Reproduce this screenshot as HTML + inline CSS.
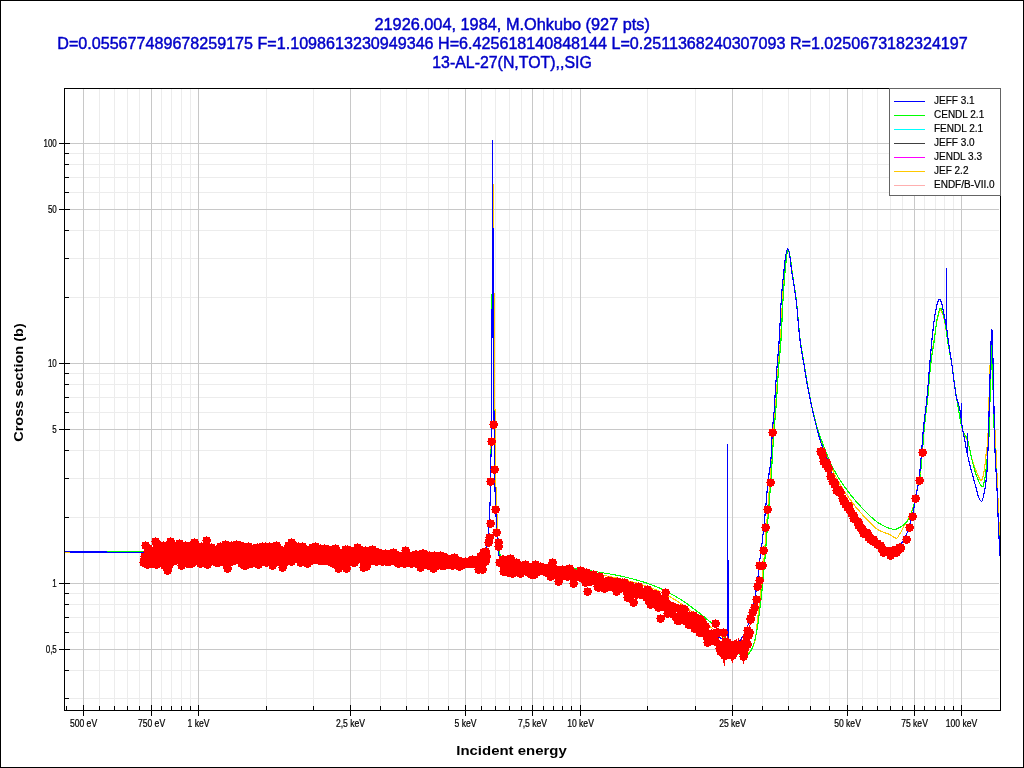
<!DOCTYPE html>
<html lang="en"><head><meta charset="utf-8"><title>13-AL-27(N,TOT),,SIG</title>
<style>html,body{margin:0;padding:0;background:#fff;overflow:hidden}svg{display:block;will-change:transform}</style></head>
<body>
<svg width="1024" height="768" viewBox="0 0 1024 768">
<rect width="1024" height="768" fill="#fff"/>
<g shape-rendering="crispEdges" fill="none" stroke-width="1">
<path stroke="#ececec" d="M99.5 89V710M114.5 89V710M127.5 89V710M139.5 89V710M161.5 89V710M171.5 89V710M181.5 89V710M190.5 89V710M266.5 89V710M313.5 89V710M380.5 89V710M406.5 89V710M428.5 89V710M448.5 89V710M481.5 89V710M495.5 89V710M509.5 89V710M521.5 89V710M543.5 89V710M553.5 89V710M562.5 89V710M571.5 89V710M647.5 89V710M695.5 89V710M762.5 89V710M788.5 89V710M810.5 89V710M829.5 89V710M862.5 89V710M877.5 89V710M890.5 89V710M902.5 89V710M924.5 89V710M935.5 89V710M944.5 89V710M953.5 89V710M65 153.5H999M65 164.5H999M65 177.5H999M65 192.5H999M65 230.5H999M65 258.5H999M65 297.5H999M65 373.5H999M65 384.5H999M65 397.5H999M65 412.5H999M65 450.5H999M65 478.5H999M65 517.5H999M65 593.5H999M65 604.5H999M65 617.5H999M65 632.5H999M65 670.5H999M65 698.5H999"/>
<path stroke="#c8c8c8" d="M83.5 89V710M151.5 89V710M198.5 89V710M350.5 89V710M465.5 89V710M532.5 89V710M580.5 89V710M732.5 89V710M847.5 89V710M914.5 89V710M961.5 89V710M65 143.5H999M65 209.5H999M65 363.5H999M65 429.5H999M65 583.5H999M65 649.5H999"/>
</g>
<g fill="none" stroke-width="1.15" shape-rendering="crispEdges" stroke-linejoin="round">
<path stroke="#ffc800" d="M64.5 552.0L65.0 552.0L65.5 552.0L66.0 552.0L66.5 552.0L67.0 552.0L67.5 552.0L68.0 552.0L68.5 552.0L69.0 552.0L69.5 552.0L70.0 552.0L70.5 552.0L71.0 552.0L71.5 552.0L72.0 552.0L72.5 552.0L73.0 552.0L73.5 552.0L74.0 552.0L74.5 552.0L75.0 552.0L75.5 552.0L76.0 552.0L76.5 552.0L77.0 552.0L77.5 552.0L78.0 552.0L78.5 552.0L79.0 552.0L79.5 552.0L80.0 552.0L80.5 552.0L81.0 552.0L81.5 552.0L82.0 552.0L82.5 552.0L83.0 552.0L83.5 552.0L84.0 552.0L84.5 552.0L85.0 552.0L85.5 552.0L86.0 552.0L86.5 552.0L87.0 552.0L87.5 552.0L88.0 552.0L88.5 552.0L89.0 552.0L89.5 552.0L90.0 552.0L90.5 552.0L91.0 552.0L91.5 552.0L92.0 552.0L92.5 552.0L93.0 552.0L93.5 552.0L94.0 552.0L94.5 552.0L95.0 552.0L95.5 552.0L96.0 552.0L96.5 552.0L97.0 552.0L97.5 552.0L98.0 552.0L98.5 552.0L99.0 552.0L99.5 552.0L100.0 552.0L100.5 552.0L101.0 552.0L101.5 552.0L102.0 552.0L102.5 552.0L103.0 552.0L103.5 552.0L104.0 552.0L104.5 552.0L105.0 552.0L105.5 552.0L106.0 552.0L106.5 552.0L107.0 552.0L107.5 552.0L108.0 552.0L108.5 552.0L109.0 552.0L109.5 552.0L110.0 552.0L110.5 552.0L111.0 552.0L111.5 552.0L112.0 552.0L112.5 552.0L113.0 552.0L113.5 552.0L114.0 552.0L114.5 552.0L115.0 552.0L115.5 552.0L116.0 552.0L116.5 552.0L117.0 552.0L117.5 552.0L118.0 552.0L118.5 552.0L119.0 552.0L119.5 552.0L120.0 552.0L120.5 552.0L121.0 552.0L121.5 552.0L122.0 552.0L122.5 552.0L123.0 552.0L123.5 552.0L124.0 552.0L124.5 552.0L125.0 552.0L125.5 552.0L126.0 552.0L126.5 552.0L127.0 552.0L127.5 552.0L128.0 552.0L128.5 552.0L129.0 552.0L129.5 552.0L130.0 552.0L130.5 552.0L131.0 552.0L131.5 552.0L132.0 552.0L132.5 552.0L133.0 552.0L133.5 552.0L134.0 552.0L134.5 552.0L135.0 552.0L135.5 552.0L136.0 552.0L136.5 552.0L137.0 552.0L137.5 552.0L138.0 552.0L138.5 552.0L139.0 552.0L139.5 552.0L140.0 552.0L140.5 552.0L141.0 552.0L141.5 552.0L142.0 552.0L142.5 552.0L143.0 552.0L143.5 552.0L144.0 552.0L144.5 552.0L145.0 552.0L145.5 552.0L146.0 552.0L146.5 552.0L147.0 552.0L147.5 552.0L148.0 552.0L148.5 552.0L149.0 552.0L149.5 552.1L150.0 552.1L150.5 552.1L151.0 552.1L151.5 552.1L152.0 552.1L152.5 552.1L153.0 552.1L153.5 552.1L154.0 552.1L154.5 552.1L155.0 552.1L155.5 552.1L156.0 552.1L156.5 552.1L157.0 552.1L157.5 552.2L158.0 552.2L158.5 552.2L159.0 552.2L159.5 552.2L160.0 552.2L160.5 552.2L161.0 552.2L161.5 552.2L162.0 552.2L162.5 552.2L163.0 552.2L163.5 552.2L164.0 552.3L164.5 552.3L165.0 552.3L165.5 552.3L166.0 552.3L166.5 552.3L167.0 552.3L167.5 552.3L168.0 552.3L168.5 552.3L169.0 552.4L169.5 552.4L170.0 552.4L170.5 552.4L171.0 552.4L171.5 552.4L172.0 552.4L172.5 552.4L173.0 552.4L173.5 552.4L174.0 552.5L174.5 552.5L175.0 552.5L175.5 552.5L176.0 552.5L176.5 552.5L177.0 552.5L177.5 552.5L178.0 552.5L178.5 552.6L179.0 552.6L179.5 552.6L180.0 552.6L180.5 552.6L181.0 552.6L181.5 552.6L182.0 552.6L182.5 552.6L183.0 552.7L183.5 552.7L184.0 552.7L184.5 552.7L185.0 552.7L185.5 552.7L186.0 552.7L186.5 552.7L187.0 552.7L187.5 552.7L188.0 552.8L188.5 552.8L189.0 552.8L189.5 552.8L190.0 552.8L190.5 552.8L191.0 552.8L191.5 552.8L192.0 552.8L192.5 552.9L193.0 552.9L193.5 552.9L194.0 552.9L194.5 552.9L195.0 552.9L195.5 552.9L196.0 552.9L196.5 552.9L197.0 552.9L197.5 553.0L198.0 553.0L198.5 553.0L199.0 553.0L199.5 553.0L200.0 553.0L200.5 553.0L201.0 553.0L201.5 553.0L202.0 553.0L202.5 553.0L203.0 553.1L203.5 553.1L204.0 553.1L204.5 553.1L205.0 553.1L205.5 553.1L206.0 553.1L206.5 553.1L207.0 553.1L207.5 553.1L208.0 553.1L208.5 553.2L209.0 553.2L209.5 553.2L210.0 553.2L210.5 553.2L211.0 553.2L211.5 553.2L212.0 553.2L212.5 553.2L213.0 553.2L213.5 553.2L214.0 553.2L214.5 553.3L215.0 553.3L215.5 553.3L216.0 553.3L216.5 553.3L217.0 553.3L217.5 553.3L218.0 553.3L218.5 553.3L219.0 553.3L219.5 553.3L220.0 553.4L220.5 553.4L221.0 553.4L221.5 553.4L222.0 553.4L222.5 553.4L223.0 553.4L223.5 553.4L224.0 553.4L224.5 553.4L225.0 553.4L225.5 553.5L226.0 553.5L226.5 553.5L227.0 553.5L227.5 553.5L228.0 553.5L228.5 553.5L229.0 553.5L229.5 553.5L230.0 553.5L230.5 553.5L231.0 553.6L231.5 553.6L232.0 553.6L232.5 553.6L233.0 553.6L233.5 553.6L234.0 553.6L234.5 553.6L235.0 553.6L235.5 553.6L236.0 553.6L236.5 553.7L237.0 553.7L237.5 553.7L238.0 553.7L238.5 553.7L239.0 553.7L239.5 553.7L240.0 553.7L240.5 553.7L241.0 553.7L241.5 553.7L242.0 553.8L242.5 553.8L243.0 553.8L243.5 553.8L244.0 553.8L244.5 553.8L245.0 553.8L245.5 553.8L246.0 553.8L246.5 553.8L247.0 553.8L247.5 553.9L248.0 553.9L248.5 553.9L249.0 553.9L249.5 553.9L250.0 553.9L250.5 553.9L251.0 553.9L251.5 553.9L252.0 553.9L252.5 554.0L253.0 554.0L253.5 554.0L254.0 554.0L254.5 554.0L255.0 554.0L255.5 554.0L256.0 554.0L256.5 554.0L257.0 554.0L257.5 554.1L258.0 554.1L258.5 554.1L259.0 554.1L259.5 554.1L260.0 554.1L260.5 554.1L261.0 554.1L261.5 554.1L262.0 554.1L262.5 554.2L263.0 554.2L263.5 554.2L264.0 554.2L264.5 554.2L265.0 554.2L265.5 554.2L266.0 554.2L266.5 554.2L267.0 554.2L267.5 554.3L268.0 554.3L268.5 554.3L269.0 554.3L269.5 554.3L270.0 554.3L270.5 554.3L271.0 554.3L271.5 554.3L272.0 554.3L272.5 554.4L273.0 554.4L273.5 554.4L274.0 554.4L274.5 554.4L275.0 554.4L275.5 554.4L276.0 554.4L276.5 554.4L277.0 554.5L277.5 554.5L278.0 554.5L278.5 554.5L279.0 554.5L279.5 554.5L280.0 554.5L280.5 554.5L281.0 554.5L281.5 554.6L282.0 554.6L282.5 554.6L283.0 554.6L283.5 554.6L284.0 554.6L284.5 554.6L285.0 554.6L285.5 554.6L286.0 554.7L286.5 554.7L287.0 554.7L287.5 554.7L288.0 554.7L288.5 554.7L289.0 554.7L289.5 554.7L290.0 554.8L290.5 554.8L291.0 554.8L291.5 554.8L292.0 554.8L292.5 554.8L293.0 554.8L293.5 554.8L294.0 554.9L294.5 554.9L295.0 554.9L295.5 554.9L296.0 554.9L296.5 554.9L297.0 554.9L297.5 554.9L298.0 554.9L298.5 555.0L299.0 555.0L299.5 555.0L300.0 555.0L300.5 555.0L301.0 555.0L301.5 555.0L302.0 555.1L302.5 555.1L303.0 555.1L303.5 555.1L304.0 555.1L304.5 555.1L305.0 555.1L305.5 555.1L306.0 555.2L306.5 555.2L307.0 555.2L307.5 555.2L308.0 555.2L308.5 555.2L309.0 555.2L309.5 555.3L310.0 555.3L310.5 555.3L311.0 555.3L311.5 555.3L312.0 555.3L312.5 555.3L313.0 555.4L313.5 555.4L314.0 555.4L314.5 555.4L315.0 555.4L315.5 555.4L316.0 555.4L316.5 555.5L317.0 555.5L317.5 555.5L318.0 555.5L318.5 555.5L319.0 555.5L319.5 555.5L320.0 555.6L320.5 555.6L321.0 555.6L321.5 555.6L322.0 555.6L322.5 555.6L323.0 555.6L323.5 555.7L324.0 555.7L324.5 555.7L325.0 555.7L325.5 555.7L326.0 555.7L326.5 555.8L327.0 555.8L327.5 555.8L328.0 555.8L328.5 555.8L329.0 555.8L329.5 555.8L330.0 555.9L330.5 555.9L331.0 555.9L331.5 555.9L332.0 555.9L332.5 555.9L333.0 556.0L333.5 556.0L334.0 556.0L334.5 556.0L335.0 556.0L335.5 556.0L336.0 556.1L336.5 556.1L337.0 556.1L337.5 556.1L338.0 556.1L338.5 556.1L339.0 556.2L339.5 556.2L340.0 556.2L340.5 556.2L341.0 556.2L341.5 556.2L342.0 556.3L342.5 556.3L343.0 556.3L343.5 556.3L344.0 556.3L344.5 556.3L345.0 556.4L345.5 556.4L346.0 556.4L346.5 556.4L347.0 556.4L347.5 556.5L348.0 556.5L348.5 556.5L349.0 556.5L349.5 556.5L350.0 556.5L350.5 556.6L351.0 556.6L351.5 556.6L352.0 556.6L352.5 556.6L353.0 556.7L353.5 556.7L354.0 556.7L354.5 556.7L355.0 556.7L355.5 556.7L356.0 556.8L356.5 556.8L357.0 556.8L357.5 556.8L358.0 556.8L358.5 556.9L359.0 556.9L359.5 556.9L360.0 556.9L360.5 556.9L361.0 556.9L361.5 557.0L362.0 557.0L362.5 557.0L363.0 557.0L363.5 557.0L364.0 557.1L364.5 557.1L365.0 557.1L365.5 557.1L366.0 557.1L366.5 557.2L367.0 557.2L367.5 557.2L368.0 557.2L368.5 557.2L369.0 557.2L369.5 557.3L370.0 557.3L370.5 557.3L371.0 557.3L371.5 557.3L372.0 557.4L372.5 557.4L373.0 557.4L373.5 557.4L374.0 557.4L374.5 557.5L375.0 557.5L375.5 557.5L376.0 557.5L376.5 557.5L377.0 557.6L377.5 557.6L378.0 557.6L378.5 557.6L379.0 557.6L379.5 557.7L380.0 557.7L380.5 557.7L381.0 557.7L381.5 557.7L382.0 557.8L382.5 557.8L383.0 557.8L383.5 557.8L384.0 557.8L384.5 557.9L385.0 557.9L385.5 557.9L386.0 557.9L386.5 557.9L387.0 558.0L387.5 558.0L388.0 558.0L388.5 558.0L389.0 558.0L389.5 558.1L390.0 558.1L390.5 558.1L391.0 558.1L391.5 558.1L392.0 558.2L392.5 558.2L393.0 558.2L393.5 558.2L394.0 558.2L394.5 558.3L395.0 558.3L395.5 558.3L396.0 558.3L396.5 558.4L397.0 558.4L397.5 558.4L398.0 558.4L398.5 558.4L399.0 558.5L399.5 558.5L400.0 558.5L400.5 558.5L401.0 558.5L401.5 558.6L402.0 558.6L402.5 558.6L403.0 558.6L403.5 558.7L404.0 558.7L404.5 558.7L405.0 558.7L405.5 558.8L406.0 558.8L406.5 558.8L407.0 558.9L407.5 558.9L408.0 558.9L408.5 558.9L409.0 559.0L409.5 559.0L410.0 559.0L410.5 559.1L411.0 559.1L411.5 559.1L412.0 559.2L412.5 559.2L413.0 559.2L413.5 559.3L414.0 559.3L414.5 559.3L415.0 559.3L415.5 559.4L416.0 559.4L416.5 559.4L417.0 559.5L417.5 559.5L418.0 559.5L418.5 559.6L419.0 559.6L419.5 559.6L420.0 559.7L420.5 559.7L421.0 559.7L421.5 559.8L422.0 559.8L422.5 559.8L423.0 559.9L423.5 559.9L424.0 559.9L424.5 560.0L425.0 560.0L425.5 560.0L426.0 560.1L426.5 560.1L427.0 560.1L427.5 560.2L428.0 560.2L428.5 560.2L429.0 560.3L429.5 560.3L430.0 560.3L430.5 560.4L431.0 560.4L431.5 560.4L432.0 560.4L432.5 560.5L433.0 560.5L433.5 560.5L434.0 560.5L434.5 560.6L435.0 560.6L435.5 560.6L436.0 560.6L436.5 560.7L437.0 560.7L437.5 560.7L438.0 560.7L438.5 560.7L439.0 560.8L439.5 560.8L440.0 560.8L440.5 560.8L441.0 560.8L441.5 560.9L442.0 560.9L442.5 560.9L443.0 560.9L443.5 560.9L444.0 560.9L444.5 560.9L445.0 560.9L445.5 561.0L446.0 561.0L446.5 561.0L447.0 561.0L447.5 561.0L448.0 561.0L448.5 561.0L449.0 561.0L449.5 561.0L450.0 561.0L450.5 561.0L451.0 561.0L451.5 561.0L452.0 561.0L452.5 561.0L453.0 561.0L453.5 561.0L454.0 561.0L454.5 561.0L455.0 561.0L455.5 561.0L456.0 561.0L456.5 561.0L457.0 561.0L457.5 561.0L458.0 561.0L458.5 561.0L459.0 561.0L459.5 561.0L460.0 561.0L460.5 561.0L461.0 561.0L461.5 561.0L462.0 561.0L462.5 561.0L463.0 561.0L463.5 561.0L464.0 561.0L464.5 561.0L465.0 561.0L465.5 561.0L466.0 561.0L466.5 561.0L467.0 561.0L467.5 561.0L468.0 561.0L468.5 561.0L469.0 561.0L469.5 561.0L470.0 561.0L470.5 561.0L471.0 561.0L471.5 560.9L472.0 560.8L472.5 560.8L473.0 560.7L473.5 560.5L474.0 560.4L474.5 560.2L475.0 560.1L475.5 559.9L476.0 559.7L476.5 559.5L477.0 559.2L477.5 559.0L478.0 558.8L478.5 558.5L479.0 558.2L479.5 557.9L480.0 557.6L480.5 557.3L481.0 557.0L481.5 556.6L482.0 556.0L482.5 555.3L483.0 554.6L483.5 553.7L484.0 552.9L484.5 552.0L485.0 551.1L485.5 550.0L486.0 549.0L486.5 548.2L487.0 547.0L487.5 543.4L488.0 538.0L488.5 532.1L489.0 525.0L489.5 516.6L490.0 505.0L490.5 485.0L491.0 454.0L491.5 395.8L492.0 322.0L492.5 260.0L493.0 211.6L493.5 185.0L494.0 308.3L494.5 324.9L495.0 420.0L495.5 463.3L496.0 490.0L496.5 502.8L497.0 515.0L497.5 540.0L498.0 547.8L498.5 552.0L499.0 554.9L499.5 557.3L500.0 559.0L500.5 560.0L501.0 560.6L501.5 561.1L502.0 561.5L502.5 561.9L503.0 562.2L503.5 562.5L504.0 562.7L504.5 562.9L505.0 563.0L505.5 563.1L506.0 563.2L506.5 563.3L507.0 563.4L507.5 563.5L508.0 563.6L508.5 563.7L509.0 563.8L509.5 563.9L510.0 563.9L510.5 564.0L511.0 564.1L511.5 564.1L512.0 564.2L512.5 564.3L513.0 564.3L513.5 564.4L514.0 564.4L514.5 564.5L515.0 564.5L515.5 564.5L516.0 564.6L516.5 564.6L517.0 564.7L517.5 564.7L518.0 564.8L518.5 564.8L519.0 564.9L519.5 564.9L520.0 565.0L520.5 565.1L521.0 565.1L521.5 565.2L522.0 565.2L522.5 565.3L523.0 565.3L523.5 565.4L524.0 565.4L524.5 565.5L525.0 565.6L525.5 565.6L526.0 565.7L526.5 565.7L527.0 565.8L527.5 565.8L528.0 565.9L528.5 565.9L529.0 566.0L529.5 566.0L530.0 566.1L530.5 566.1L531.0 566.2L531.5 566.2L532.0 566.3L532.5 566.3L533.0 566.4L533.5 566.4L534.0 566.5L534.5 566.5L535.0 566.5L535.5 566.6L536.0 566.6L536.5 566.7L537.0 566.7L537.5 566.8L538.0 566.8L538.5 566.9L539.0 566.9L539.5 567.0L540.0 567.0L540.5 567.1L541.0 567.1L541.5 567.1L542.0 567.2L542.5 567.2L543.0 567.3L543.5 567.3L544.0 567.4L544.5 567.4L545.0 567.5L545.5 567.5L546.0 567.6L546.5 567.6L547.0 567.7L547.5 567.7L548.0 567.8L548.5 567.8L549.0 567.8L549.5 567.9L550.0 567.9L550.5 568.0L551.0 568.0L551.5 568.1L552.0 568.1L552.5 568.2L553.0 568.2L553.5 568.3L554.0 568.3L554.5 568.4L555.0 568.5L555.5 568.5L556.0 568.6L556.5 568.6L557.0 568.7L557.5 568.7L558.0 568.8L558.5 568.8L559.0 568.9L559.5 568.9L560.0 569.0L560.5 569.1L561.0 569.1L561.5 569.2L562.0 569.2L562.5 569.3L563.0 569.3L563.5 569.4L564.0 569.5L564.5 569.5L565.0 569.6L565.5 569.6L566.0 569.7L566.5 569.8L567.0 569.8L567.5 569.9L568.0 569.9L568.5 570.0L569.0 570.1L569.5 570.1L570.0 570.2L570.5 570.3L571.0 570.3L571.5 570.4L572.0 570.4L572.5 570.5L573.0 570.6L573.5 570.6L574.0 570.7L574.5 570.8L575.0 570.8L575.5 570.9L576.0 571.0L576.5 571.0L577.0 571.1L577.5 571.2L578.0 571.2L578.5 571.3L579.0 571.4L579.5 571.4L580.0 571.5L580.5 571.6L581.0 571.7L581.5 571.7L582.0 571.8L582.5 571.9L583.0 571.9L583.5 572.0L584.0 572.1L584.5 572.2L585.0 572.2L585.5 572.3L586.0 572.4L586.5 572.5L587.0 572.5L587.5 572.6L588.0 572.7L588.5 572.8L589.0 572.8L589.5 572.9L590.0 573.0L590.5 573.1L591.0 573.2L591.5 573.2L592.0 573.3L592.5 573.4L593.0 573.5L593.5 573.6L594.0 573.7L594.5 573.7L595.0 573.8L595.5 573.9L596.0 574.0L596.5 574.1L597.0 574.2L597.5 574.3L598.0 574.3L598.5 574.4L599.0 574.5L599.5 574.6L600.0 574.7L600.5 574.8L601.0 574.9L601.5 575.0L602.0 575.1L602.5 575.2L603.0 575.3L603.5 575.3L604.0 575.4L604.5 575.5L605.0 575.6L605.5 575.7L606.0 575.8L606.5 575.9L607.0 576.0L607.5 576.1L608.0 576.2L608.5 576.3L609.0 576.4L609.5 576.5L610.0 576.6L610.5 576.7L611.0 576.8L611.5 576.9L612.0 577.0L612.5 577.2L613.0 577.3L613.5 577.4L614.0 577.5L614.5 577.6L615.0 577.7L615.5 577.8L616.0 577.9L616.5 578.0L617.0 578.1L617.5 578.2L618.0 578.4L618.5 578.5L619.0 578.6L619.5 578.7L620.0 578.8L620.5 578.9L621.0 579.0L621.5 579.2L622.0 579.3L622.5 579.4L623.0 579.5L623.5 579.6L624.0 579.8L624.5 579.9L625.0 580.0L625.5 580.1L626.0 580.2L626.5 580.4L627.0 580.5L627.5 580.6L628.0 580.8L628.5 580.9L629.0 581.0L629.5 581.1L630.0 581.3L630.5 581.4L631.0 581.5L631.5 581.7L632.0 581.8L632.5 581.9L633.0 582.1L633.5 582.2L634.0 582.4L634.5 582.5L635.0 582.6L635.5 582.8L636.0 582.9L636.5 583.1L637.0 583.2L637.5 583.4L638.0 583.5L638.5 583.7L639.0 583.8L639.5 584.0L640.0 584.1L640.5 584.3L641.0 584.4L641.5 584.6L642.0 584.7L642.5 584.9L643.0 585.1L643.5 585.2L644.0 585.4L644.5 585.6L645.0 585.7L645.5 585.9L646.0 586.1L646.5 586.2L647.0 586.4L647.5 586.6L648.0 586.8L648.5 586.9L649.0 587.1L649.5 587.3L650.0 587.5L650.5 587.7L651.0 587.9L651.5 588.0L652.0 588.2L652.5 588.4L653.0 588.6L653.5 588.8L654.0 589.0L654.5 589.2L655.0 589.4L655.5 589.6L656.0 589.8L656.5 590.0L657.0 590.2L657.5 590.5L658.0 590.7L658.5 590.9L659.0 591.1L659.5 591.4L660.0 591.6L660.5 591.8L661.0 592.1L661.5 592.3L662.0 592.6L662.5 592.8L663.0 593.1L663.5 593.3L664.0 593.6L664.5 593.8L665.0 594.1L665.5 594.4L666.0 594.6L666.5 594.9L667.0 595.2L667.5 595.4L668.0 595.7L668.5 596.0L669.0 596.3L669.5 596.6L670.0 596.8L670.5 597.1L671.0 597.4L671.5 597.7L672.0 598.0L672.5 598.3L673.0 598.6L673.5 598.9L674.0 599.2L674.5 599.5L675.0 599.8L675.5 600.1L676.0 600.4L676.5 600.7L677.0 601.0L677.5 601.3L678.0 601.6L678.5 601.9L679.0 602.3L679.5 602.6L680.0 602.9L680.5 603.3L681.0 603.6L681.5 604.0L682.0 604.3L682.5 604.7L683.0 605.0L683.5 605.4L684.0 605.7L684.5 606.1L685.0 606.5L685.5 606.8L686.0 607.2L686.5 607.6L687.0 608.0L687.5 608.4L688.0 608.7L688.5 609.1L689.0 609.5L689.5 609.9L690.0 610.3L690.5 610.7L691.0 611.0L691.5 611.4L692.0 611.8L692.5 612.2L693.0 612.6L693.5 613.0L694.0 613.4L694.5 613.8L695.0 614.2L695.5 614.5L696.0 614.9L696.5 615.3L697.0 615.7L697.5 616.1L698.0 616.5L698.5 616.9L699.0 617.3L699.5 617.7L700.0 618.1L700.5 618.5L701.0 618.9L701.5 619.3L702.0 619.7L702.5 620.2L703.0 620.6L703.5 621.0L704.0 621.4L704.5 621.8L705.0 622.2L705.5 622.6L706.0 623.1L706.5 623.5L707.0 623.9L707.5 624.3L708.0 624.7L708.5 625.2L709.0 625.6L709.5 626.0L710.0 626.4L710.5 626.8L711.0 627.3L711.5 627.7L712.0 628.1L712.5 628.5L713.0 629.0L713.5 629.4L714.0 629.8L714.5 630.2L715.0 630.7L715.5 631.1L716.0 631.5L716.5 631.9L717.0 632.3L717.5 632.8L718.0 633.2L718.5 633.6L719.0 634.0L719.5 634.5L720.0 634.9L720.5 635.3L721.0 635.7L721.5 636.2L722.0 636.6L722.5 637.1L723.0 637.5L723.5 637.9L724.0 638.4L724.5 638.9L725.0 639.3L725.5 639.8L726.0 640.3L726.5 640.8L727.0 641.3L727.5 641.8L728.0 642.3L728.5 642.8L729.0 643.3L729.5 643.8L730.0 644.3L730.5 644.8L731.0 645.3L731.5 645.8L732.0 646.3L732.5 646.8L733.0 647.2L733.5 647.7L734.0 648.1L734.5 648.6L735.0 649.0L735.5 649.4L736.0 649.9L736.5 650.4L737.0 650.9L737.5 651.4L738.0 651.9L738.5 652.4L739.0 652.8L739.5 653.3L740.0 653.7L740.5 654.1L741.0 654.4L741.5 654.6L742.0 654.8L742.5 655.0L743.0 655.0L743.5 655.0L744.0 654.9L744.5 654.8L745.0 654.6L745.5 654.5L746.0 654.2L746.5 654.0L747.0 653.7L747.5 653.4L748.0 653.0L748.5 652.6L749.0 652.2L749.5 651.8L750.0 651.4L750.5 650.9L751.0 650.3L751.5 649.6L752.0 648.8L752.5 647.8L753.0 646.6L753.5 645.2L754.0 643.7L754.5 642.1L755.0 640.2L755.5 638.0L756.0 634.4L756.5 629.7L757.0 624.6L757.5 620.0L758.0 616.0L758.5 612.1L759.0 608.2L759.5 604.2L760.0 600.0L760.5 595.5L761.0 590.8L761.5 586.0L762.0 581.0L762.5 575.9L763.0 570.5L763.5 565.0L764.0 559.2L764.5 553.0L765.0 546.6L765.5 540.0L766.0 533.3L766.5 526.6L767.0 520.0L767.5 513.4L768.0 506.9L768.5 500.3L769.0 493.6L769.5 486.8L770.0 480.0L770.5 473.0L771.0 465.7L771.5 458.4L772.0 451.1L772.5 444.1L773.0 437.4L773.5 431.0L774.0 424.9L774.5 418.9L775.0 412.8L775.5 406.6L776.0 400.0L776.5 392.8L777.0 385.2L777.5 377.4L778.0 369.9L778.5 363.0L779.0 357.2L779.5 351.9L780.0 346.5L780.5 340.0L781.0 331.1L781.5 320.3L782.0 309.3L782.5 300.0L783.0 292.2L783.5 284.8L784.0 277.9L784.5 271.7L785.0 266.3L785.5 262.0L786.0 258.2L786.5 254.6L787.0 251.6L787.5 249.8L788.0 249.6L788.5 250.4L789.0 251.9L789.5 253.9L790.0 256.0L790.5 258.9L791.0 262.8L791.5 267.0L792.0 271.0L792.5 274.5L793.0 277.7L793.5 280.9L794.0 284.0L794.5 287.2L795.0 290.4L795.5 293.9L796.0 297.6L796.5 301.7L797.0 306.5L797.5 311.8L798.0 317.4L798.5 323.1L799.0 328.6L799.5 333.8L800.0 338.4L800.5 342.2L801.0 345.7L801.5 348.9L802.0 351.9L802.5 354.8L803.0 357.6L803.5 360.5L804.0 363.4L804.5 366.4L805.0 369.5L805.5 372.5L806.0 375.5L806.5 378.4L807.0 381.4L807.5 384.2L808.0 386.9L808.5 389.6L809.0 392.2L809.5 394.7L810.0 397.2L810.5 399.7L811.0 402.1L811.5 404.5L812.0 406.8L812.5 409.0L813.0 411.2L813.5 413.3L814.0 415.4L814.5 417.4L815.0 419.4L815.5 421.3L816.0 423.2L816.5 425.1L817.0 426.9L817.5 428.7L818.0 430.4L818.5 432.1L819.0 433.7L819.5 435.3L820.0 436.9L820.5 438.4L821.0 439.9L821.5 441.3L822.0 442.7L822.5 444.1L823.0 445.5L823.5 446.9L824.0 448.2L824.5 449.6L825.0 451.0L825.5 452.3L826.0 453.6L826.5 454.9L827.0 456.2L827.5 457.5L828.0 458.8L828.5 460.1L829.0 461.3L829.5 462.6L830.0 463.8L830.5 465.0L831.0 466.2L831.5 467.3L832.0 468.5L832.5 469.6L833.0 470.7L833.5 471.8L834.0 472.9L834.5 474.0L835.0 475.0L835.5 476.0L836.0 477.0L836.5 478.0L837.0 478.9L837.5 479.9L838.0 480.8L838.5 481.7L839.0 482.6L839.5 483.5L840.0 484.3L840.5 485.2L841.0 486.0L841.5 486.8L842.0 487.7L842.5 488.5L843.0 489.2L843.5 490.0L844.0 490.8L844.5 491.5L845.0 492.3L845.5 493.0L846.0 493.8L846.5 494.5L847.0 495.2L847.5 495.9L848.0 496.6L848.5 497.3L849.0 498.0L849.5 498.7L850.0 499.4L850.5 500.1L851.0 500.8L851.5 501.4L852.0 502.1L852.5 502.7L853.0 503.4L853.5 504.0L854.0 504.7L854.5 505.3L855.0 505.9L855.5 506.6L856.0 507.2L856.5 507.8L857.0 508.4L857.5 509.0L858.0 509.6L858.5 510.2L859.0 510.7L859.5 511.3L860.0 511.9L860.5 512.5L861.0 513.0L861.5 513.6L862.0 514.1L862.5 514.7L863.0 515.2L863.5 515.8L864.0 516.3L864.5 516.8L865.0 517.4L865.5 517.9L866.0 518.5L866.5 519.0L867.0 519.6L867.5 520.1L868.0 520.7L868.5 521.2L869.0 521.7L869.5 522.3L870.0 522.8L870.5 523.3L871.0 523.8L871.5 524.3L872.0 524.8L872.5 525.2L873.0 525.7L873.5 526.1L874.0 526.6L874.5 527.0L875.0 527.4L875.5 527.8L876.0 528.2L876.5 528.6L877.0 528.9L877.5 529.2L878.0 529.6L878.5 529.9L879.0 530.1L879.5 530.4L880.0 530.7L880.5 530.9L881.0 531.1L881.5 531.3L882.0 531.6L882.5 531.8L883.0 532.0L883.5 532.2L884.0 532.3L884.5 532.5L885.0 532.7L885.5 532.9L886.0 533.1L886.5 533.3L887.0 533.5L887.5 533.7L888.0 533.9L888.5 534.1L889.0 534.3L889.5 534.5L890.0 534.8L890.5 535.1L891.0 535.4L891.5 535.7L892.0 536.1L892.5 536.4L893.0 536.7L893.5 537.0L894.0 537.3L894.5 537.6L895.0 537.8L895.5 537.9L896.0 538.1L896.5 538.1L897.0 538.0L897.5 537.6L898.0 536.9L898.5 536.1L899.0 535.2L899.5 534.3L900.0 533.5L900.5 532.7L901.0 531.8L901.5 530.8L902.0 529.9L902.5 528.9L903.0 527.9L903.5 526.9L904.0 526.0L904.5 525.1L905.0 524.3L905.5 523.4L906.0 522.6L906.5 521.8L907.0 520.9L907.5 520.0L908.0 519.1L908.5 518.2L909.0 517.2L909.5 516.2L910.0 515.2L910.5 514.0L911.0 512.9L911.5 511.6L912.0 510.3L912.5 508.9L913.0 507.4L913.5 505.8L914.0 504.0L914.5 502.1L915.0 500.0L915.5 497.5L916.0 494.5L916.5 491.6L917.0 489.0L917.5 486.8L918.0 484.9L918.5 483.0L919.0 480.9L919.5 478.5L920.0 475.7L920.5 471.7L921.0 466.4L921.5 460.1L922.0 453.7L922.5 447.5L923.0 441.0L923.5 434.6L924.0 429.0L924.5 424.0L925.0 419.5L925.5 415.3L926.0 411.3L926.5 407.1L927.0 402.8L927.5 398.2L928.0 393.0L928.5 387.2L929.0 381.1L929.5 375.0L930.0 369.4L930.5 364.5L931.0 360.4L931.5 356.7L932.0 353.3L932.5 350.1L933.0 347.0L933.5 343.9L934.0 340.7L934.5 337.2L935.0 333.6L935.5 330.0L936.0 326.6L936.5 323.5L937.0 321.0L937.5 318.8L938.0 316.5L938.5 314.4L939.0 312.6L939.5 311.1L940.0 310.2L940.5 310.0L941.0 310.4L941.5 311.2L942.0 312.4L942.5 313.7L943.0 315.0L943.5 316.5L944.0 318.4L944.5 320.6L945.0 323.0L945.5 325.9L946.0 329.3L946.5 333.0L947.0 336.6L947.5 340.0L948.0 343.0L948.5 345.8L949.0 348.6L949.5 351.2L950.0 353.9L950.5 356.6L951.0 359.4L951.5 362.4L952.0 365.5L952.5 368.9L953.0 372.5L953.5 376.3L954.0 380.0L954.5 383.8L955.0 387.5L955.5 391.1L956.0 394.5L956.5 397.6L957.0 400.7L957.5 403.7L958.0 406.8L958.5 409.8L959.0 412.7L959.5 415.5L960.0 418.3L960.5 420.9L961.0 423.3L961.5 425.5L962.0 427.6L962.5 429.4L963.0 430.9L963.5 432.2L964.0 433.4L964.5 434.5L965.0 435.4L965.5 436.4L966.0 437.4L966.5 438.5L967.0 439.6L967.5 441.0L968.0 442.6L968.5 444.5L969.0 446.5L969.5 448.7L970.0 450.9L970.5 453.1L971.0 455.2L971.5 457.2L972.0 459.0L972.5 460.6L973.0 462.2L973.5 463.8L974.0 465.3L974.5 466.7L975.0 468.1L975.5 469.5L976.0 470.7L976.5 471.9L977.0 473.0L977.5 474.1L978.0 475.3L978.5 476.4L979.0 477.5L979.5 478.5L980.0 479.3L980.5 479.9L981.0 480.3L981.5 480.2L982.0 479.5L982.5 478.1L983.0 476.3L983.5 474.3L984.0 472.0L984.5 468.8L985.0 464.5L985.5 459.6L986.0 455.0L986.5 451.4L987.0 448.0L987.5 443.7L988.0 436.0L988.5 418.8L989.0 400.0L989.5 383.3L990.0 367.5L990.5 355.4L991.0 348.0L991.5 350.2L992.0 355.8L992.5 364.5L993.0 384.4L993.5 403.0L994.0 413.9L994.5 422.6L995.0 430.8L995.5 440.0L996.0 450.9L996.5 462.6L997.0 474.7L997.5 486.9L998.0 499.2L998.5 511.7L999.0 524.0L999.5 536.1L1000.0 548.0"/>
<path stroke="#00ff00" d="M64.5 551.5L65.0 551.5L65.5 551.5L66.0 551.5L66.5 551.5L67.0 551.5L67.5 551.5L68.0 551.5L68.5 551.5L69.0 551.5L69.5 551.5L70.0 551.5L70.5 551.5L71.0 551.5L71.5 551.5L72.0 551.5L72.5 551.5L73.0 551.5L73.5 551.5L74.0 551.5L74.5 551.5L75.0 551.5L75.5 551.5L76.0 551.5L76.5 551.5L77.0 551.5L77.5 551.5L78.0 551.5L78.5 551.5L79.0 551.5L79.5 551.5L80.0 551.5L80.5 551.5L81.0 551.5L81.5 551.5L82.0 551.5L82.5 551.5L83.0 551.5L83.5 551.5L84.0 551.5L84.5 551.5L85.0 551.5L85.5 551.5L86.0 551.5L86.5 551.5L87.0 551.5L87.5 551.5L88.0 551.5L88.5 551.5L89.0 551.5L89.5 551.5L90.0 551.5L90.5 551.5L91.0 551.5L91.5 551.5L92.0 551.5L92.5 551.5L93.0 551.5L93.5 551.5L94.0 551.5L94.5 551.5L95.0 551.5L95.5 551.5L96.0 551.5L96.5 551.5L97.0 551.5L97.5 551.5L98.0 551.5L98.5 551.5L99.0 551.5L99.5 551.5L100.0 551.5L100.5 551.5L101.0 551.5L101.5 551.5L102.0 551.5L102.5 551.5L103.0 551.5L103.5 551.5L104.0 551.5L104.5 551.5L105.0 551.5L105.5 551.5L106.0 551.5L106.5 551.5L107.0 551.5L107.5 551.5L108.0 551.5L108.5 551.5L109.0 551.5L109.5 551.5L110.0 551.5L110.5 551.5L111.0 551.5L111.5 551.5L112.0 551.5L112.5 551.5L113.0 551.5L113.5 551.5L114.0 551.5L114.5 551.5L115.0 551.5L115.5 551.5L116.0 551.5L116.5 551.5L117.0 551.5L117.5 551.5L118.0 551.5L118.5 551.5L119.0 551.5L119.5 551.5L120.0 551.5L120.5 551.5L121.0 551.5L121.5 551.5L122.0 551.5L122.5 551.5L123.0 551.5L123.5 551.5L124.0 551.5L124.5 551.5L125.0 551.5L125.5 551.5L126.0 551.5L126.5 551.5L127.0 551.5L127.5 551.5L128.0 551.5L128.5 551.5L129.0 551.5L129.5 551.5L130.0 551.5L130.5 551.5L131.0 551.5L131.5 551.5L132.0 551.5L132.5 551.5L133.0 551.5L133.5 551.5L134.0 551.5L134.5 551.5L135.0 551.5L135.5 551.5L136.0 551.5L136.5 551.5L137.0 551.5L137.5 551.5L138.0 551.5L138.5 551.5L139.0 551.5L139.5 551.5L140.0 551.5L140.5 551.5L141.0 551.5L141.5 551.5L142.0 551.5L142.5 551.5L143.0 551.5L143.5 551.5L144.0 551.5L144.5 551.5L145.0 551.5L145.5 551.5L146.0 551.5L146.5 551.5L147.0 551.5L147.5 551.5L148.0 551.5L148.5 551.5L149.0 551.6L149.5 551.6L150.0 551.6L150.5 551.6L151.0 551.6L151.5 551.6L152.0 551.6L152.5 551.6L153.0 551.6L153.5 551.6L154.0 551.6L154.5 551.6L155.0 551.6L155.5 551.6L156.0 551.6L156.5 551.6L157.0 551.7L157.5 551.7L158.0 551.7L158.5 551.7L159.0 551.7L159.5 551.7L160.0 551.7L160.5 551.7L161.0 551.7L161.5 551.7L162.0 551.7L162.5 551.7L163.0 551.8L163.5 551.8L164.0 551.8L164.5 551.8L165.0 551.8L165.5 551.8L166.0 551.8L166.5 551.8L167.0 551.8L167.5 551.8L168.0 551.8L168.5 551.9L169.0 551.9L169.5 551.9L170.0 551.9L170.5 551.9L171.0 551.9L171.5 551.9L172.0 551.9L172.5 551.9L173.0 552.0L173.5 552.0L174.0 552.0L174.5 552.0L175.0 552.0L175.5 552.0L176.0 552.0L176.5 552.0L177.0 552.0L177.5 552.1L178.0 552.1L178.5 552.1L179.0 552.1L179.5 552.1L180.0 552.1L180.5 552.1L181.0 552.1L181.5 552.1L182.0 552.1L182.5 552.2L183.0 552.2L183.5 552.2L184.0 552.2L184.5 552.2L185.0 552.2L185.5 552.2L186.0 552.2L186.5 552.2L187.0 552.3L187.5 552.3L188.0 552.3L188.5 552.3L189.0 552.3L189.5 552.3L190.0 552.3L190.5 552.3L191.0 552.3L191.5 552.3L192.0 552.4L192.5 552.4L193.0 552.4L193.5 552.4L194.0 552.4L194.5 552.4L195.0 552.4L195.5 552.4L196.0 552.4L196.5 552.4L197.0 552.5L197.5 552.5L198.0 552.5L198.5 552.5L199.0 552.5L199.5 552.5L200.0 552.5L200.5 552.5L201.0 552.5L201.5 552.5L202.0 552.5L202.5 552.5L203.0 552.5L203.5 552.6L204.0 552.6L204.5 552.6L205.0 552.6L205.5 552.6L206.0 552.6L206.5 552.6L207.0 552.6L207.5 552.6L208.0 552.6L208.5 552.6L209.0 552.6L209.5 552.6L210.0 552.7L210.5 552.7L211.0 552.7L211.5 552.7L212.0 552.7L212.5 552.7L213.0 552.7L213.5 552.7L214.0 552.7L214.5 552.7L215.0 552.7L215.5 552.7L216.0 552.7L216.5 552.7L217.0 552.7L217.5 552.8L218.0 552.8L218.5 552.8L219.0 552.8L219.5 552.8L220.0 552.8L220.5 552.8L221.0 552.8L221.5 552.8L222.0 552.8L222.5 552.8L223.0 552.8L223.5 552.8L224.0 552.8L224.5 552.9L225.0 552.9L225.5 552.9L226.0 552.9L226.5 552.9L227.0 552.9L227.5 552.9L228.0 552.9L228.5 552.9L229.0 552.9L229.5 552.9L230.0 552.9L230.5 552.9L231.0 552.9L231.5 552.9L232.0 552.9L232.5 553.0L233.0 553.0L233.5 553.0L234.0 553.0L234.5 553.0L235.0 553.0L235.5 553.0L236.0 553.0L236.5 553.0L237.0 553.0L237.5 553.0L238.0 553.0L238.5 553.0L239.0 553.0L239.5 553.0L240.0 553.1L240.5 553.1L241.0 553.1L241.5 553.1L242.0 553.1L242.5 553.1L243.0 553.1L243.5 553.1L244.0 553.1L244.5 553.1L245.0 553.1L245.5 553.1L246.0 553.1L246.5 553.1L247.0 553.1L247.5 553.2L248.0 553.2L248.5 553.2L249.0 553.2L249.5 553.2L250.0 553.2L250.5 553.2L251.0 553.2L251.5 553.2L252.0 553.2L252.5 553.2L253.0 553.2L253.5 553.2L254.0 553.2L254.5 553.2L255.0 553.3L255.5 553.3L256.0 553.3L256.5 553.3L257.0 553.3L257.5 553.3L258.0 553.3L258.5 553.3L259.0 553.3L259.5 553.3L260.0 553.3L260.5 553.3L261.0 553.3L261.5 553.3L262.0 553.3L262.5 553.4L263.0 553.4L263.5 553.4L264.0 553.4L264.5 553.4L265.0 553.4L265.5 553.4L266.0 553.4L266.5 553.4L267.0 553.4L267.5 553.4L268.0 553.4L268.5 553.4L269.0 553.5L269.5 553.5L270.0 553.5L270.5 553.5L271.0 553.5L271.5 553.5L272.0 553.5L272.5 553.5L273.0 553.5L273.5 553.5L274.0 553.5L274.5 553.5L275.0 553.5L275.5 553.6L276.0 553.6L276.5 553.6L277.0 553.6L277.5 553.6L278.0 553.6L278.5 553.6L279.0 553.6L279.5 553.6L280.0 553.6L280.5 553.6L281.0 553.6L281.5 553.7L282.0 553.7L282.5 553.7L283.0 553.7L283.5 553.7L284.0 553.7L284.5 553.7L285.0 553.7L285.5 553.7L286.0 553.7L286.5 553.7L287.0 553.7L287.5 553.8L288.0 553.8L288.5 553.8L289.0 553.8L289.5 553.8L290.0 553.8L290.5 553.8L291.0 553.8L291.5 553.8L292.0 553.8L292.5 553.8L293.0 553.9L293.5 553.9L294.0 553.9L294.5 553.9L295.0 553.9L295.5 553.9L296.0 553.9L296.5 553.9L297.0 553.9L297.5 553.9L298.0 554.0L298.5 554.0L299.0 554.0L299.5 554.0L300.0 554.0L300.5 554.0L301.0 554.0L301.5 554.0L302.0 554.0L302.5 554.1L303.0 554.1L303.5 554.1L304.0 554.1L304.5 554.1L305.0 554.1L305.5 554.1L306.0 554.1L306.5 554.1L307.0 554.2L307.5 554.2L308.0 554.2L308.5 554.2L309.0 554.2L309.5 554.2L310.0 554.2L310.5 554.2L311.0 554.3L311.5 554.3L312.0 554.3L312.5 554.3L313.0 554.3L313.5 554.3L314.0 554.3L314.5 554.3L315.0 554.4L315.5 554.4L316.0 554.4L316.5 554.4L317.0 554.4L317.5 554.4L318.0 554.4L318.5 554.5L319.0 554.5L319.5 554.5L320.0 554.5L320.5 554.5L321.0 554.5L321.5 554.5L322.0 554.6L322.5 554.6L323.0 554.6L323.5 554.6L324.0 554.6L324.5 554.6L325.0 554.6L325.5 554.7L326.0 554.7L326.5 554.7L327.0 554.7L327.5 554.7L328.0 554.7L328.5 554.8L329.0 554.8L329.5 554.8L330.0 554.8L330.5 554.8L331.0 554.8L331.5 554.8L332.0 554.9L332.5 554.9L333.0 554.9L333.5 554.9L334.0 554.9L334.5 554.9L335.0 555.0L335.5 555.0L336.0 555.0L336.5 555.0L337.0 555.0L337.5 555.0L338.0 555.1L338.5 555.1L339.0 555.1L339.5 555.1L340.0 555.1L340.5 555.1L341.0 555.2L341.5 555.2L342.0 555.2L342.5 555.2L343.0 555.2L343.5 555.3L344.0 555.3L344.5 555.3L345.0 555.3L345.5 555.3L346.0 555.3L346.5 555.4L347.0 555.4L347.5 555.4L348.0 555.4L348.5 555.4L349.0 555.5L349.5 555.5L350.0 555.5L350.5 555.5L351.0 555.5L351.5 555.5L352.0 555.6L352.5 555.6L353.0 555.6L353.5 555.6L354.0 555.6L354.5 555.7L355.0 555.7L355.5 555.7L356.0 555.7L356.5 555.7L357.0 555.7L357.5 555.8L358.0 555.8L358.5 555.8L359.0 555.8L359.5 555.8L360.0 555.9L360.5 555.9L361.0 555.9L361.5 555.9L362.0 555.9L362.5 556.0L363.0 556.0L363.5 556.0L364.0 556.0L364.5 556.0L365.0 556.1L365.5 556.1L366.0 556.1L366.5 556.1L367.0 556.1L367.5 556.2L368.0 556.2L368.5 556.2L369.0 556.2L369.5 556.2L370.0 556.3L370.5 556.3L371.0 556.3L371.5 556.3L372.0 556.3L372.5 556.4L373.0 556.4L373.5 556.4L374.0 556.4L374.5 556.4L375.0 556.5L375.5 556.5L376.0 556.5L376.5 556.5L377.0 556.5L377.5 556.6L378.0 556.6L378.5 556.6L379.0 556.6L379.5 556.6L380.0 556.7L380.5 556.7L381.0 556.7L381.5 556.7L382.0 556.7L382.5 556.8L383.0 556.8L383.5 556.8L384.0 556.8L384.5 556.9L385.0 556.9L385.5 556.9L386.0 556.9L386.5 556.9L387.0 557.0L387.5 557.0L388.0 557.0L388.5 557.0L389.0 557.0L389.5 557.1L390.0 557.1L390.5 557.1L391.0 557.1L391.5 557.1L392.0 557.2L392.5 557.2L393.0 557.2L393.5 557.2L394.0 557.2L394.5 557.3L395.0 557.3L395.5 557.3L396.0 557.3L396.5 557.4L397.0 557.4L397.5 557.4L398.0 557.4L398.5 557.4L399.0 557.5L399.5 557.5L400.0 557.5L400.5 557.5L401.0 557.5L401.5 557.6L402.0 557.6L402.5 557.6L403.0 557.6L403.5 557.7L404.0 557.7L404.5 557.7L405.0 557.7L405.5 557.8L406.0 557.8L406.5 557.8L407.0 557.9L407.5 557.9L408.0 557.9L408.5 557.9L409.0 558.0L409.5 558.0L410.0 558.0L410.5 558.1L411.0 558.1L411.5 558.1L412.0 558.2L412.5 558.2L413.0 558.2L413.5 558.3L414.0 558.3L414.5 558.3L415.0 558.3L415.5 558.4L416.0 558.4L416.5 558.4L417.0 558.5L417.5 558.5L418.0 558.5L418.5 558.6L419.0 558.6L419.5 558.6L420.0 558.7L420.5 558.7L421.0 558.7L421.5 558.8L422.0 558.8L422.5 558.8L423.0 558.9L423.5 558.9L424.0 558.9L424.5 559.0L425.0 559.0L425.5 559.0L426.0 559.1L426.5 559.1L427.0 559.1L427.5 559.2L428.0 559.2L428.5 559.2L429.0 559.3L429.5 559.3L430.0 559.3L430.5 559.4L431.0 559.4L431.5 559.4L432.0 559.4L432.5 559.5L433.0 559.5L433.5 559.5L434.0 559.5L434.5 559.6L435.0 559.6L435.5 559.6L436.0 559.6L436.5 559.7L437.0 559.7L437.5 559.7L438.0 559.7L438.5 559.7L439.0 559.8L439.5 559.8L440.0 559.8L440.5 559.8L441.0 559.8L441.5 559.9L442.0 559.9L442.5 559.9L443.0 559.9L443.5 559.9L444.0 559.9L444.5 559.9L445.0 559.9L445.5 560.0L446.0 560.0L446.5 560.0L447.0 560.0L447.5 560.0L448.0 560.0L448.5 560.0L449.0 560.0L449.5 560.0L450.0 560.0L450.5 560.0L451.0 560.0L451.5 560.0L452.0 560.0L452.5 560.0L453.0 560.0L453.5 560.0L454.0 560.0L454.5 560.0L455.0 560.0L455.5 560.0L456.0 560.0L456.5 560.0L457.0 560.0L457.5 560.0L458.0 560.0L458.5 560.0L459.0 560.0L459.5 560.0L460.0 560.0L460.5 560.0L461.0 560.0L461.5 560.0L462.0 560.0L462.5 560.0L463.0 560.0L463.5 560.0L464.0 560.0L464.5 560.0L465.0 560.0L465.5 560.0L466.0 560.0L466.5 560.0L467.0 560.0L467.5 560.0L468.0 560.0L468.5 560.0L469.0 560.0L469.5 560.0L470.0 560.0L470.5 560.0L471.0 559.9L471.5 559.9L472.0 559.8L472.5 559.7L473.0 559.5L473.5 559.4L474.0 559.2L474.5 559.0L475.0 558.8L475.5 558.6L476.0 558.4L476.5 558.1L477.0 557.8L477.5 557.5L478.0 557.3L478.5 557.0L479.0 556.6L479.5 556.3L480.0 556.0L480.5 555.6L481.0 555.1L481.5 554.5L482.0 553.9L482.5 553.2L483.0 552.4L483.5 551.7L484.0 551.0L484.5 550.3L485.0 549.6L485.5 548.8L486.0 548.0L486.5 547.2L487.0 546.0L487.5 542.4L488.0 537.0L488.5 531.3L489.0 524.5L489.5 516.4L490.0 505.0L490.5 485.1L491.0 454.0L491.5 387.9L492.0 316.7L492.5 292.0L493.0 296.3L493.5 333.6L494.0 420.0L494.5 462.5L495.0 490.0L495.5 504.6L496.0 515.0L496.5 524.4L497.0 532.3L497.5 538.7L498.0 544.0L498.5 547.6L499.0 550.3L499.5 552.7L500.0 554.7L500.5 556.1L501.0 557.0L501.5 557.5L502.0 558.0L502.5 558.4L503.0 558.7L503.5 559.0L504.0 559.3L504.5 559.5L505.0 559.7L505.5 559.9L506.0 560.0L506.5 560.1L507.0 560.2L507.5 560.4L508.0 560.5L508.5 560.6L509.0 560.6L509.5 560.7L510.0 560.8L510.5 560.9L511.0 561.0L511.5 561.0L512.0 561.1L512.5 561.2L513.0 561.2L513.5 561.3L514.0 561.3L514.5 561.4L515.0 561.4L515.5 561.5L516.0 561.5L516.5 561.6L517.0 561.6L517.5 561.7L518.0 561.8L518.5 561.8L519.0 561.9L519.5 561.9L520.0 562.0L520.5 562.1L521.0 562.1L521.5 562.2L522.0 562.3L522.5 562.3L523.0 562.4L523.5 562.5L524.0 562.5L524.5 562.6L525.0 562.7L525.5 562.7L526.0 562.8L526.5 562.9L527.0 562.9L527.5 563.0L528.0 563.1L528.5 563.1L529.0 563.2L529.5 563.2L530.0 563.3L530.5 563.4L531.0 563.4L531.5 563.5L532.0 563.6L532.5 563.6L533.0 563.7L533.5 563.7L534.0 563.8L534.5 563.9L535.0 563.9L535.5 564.0L536.0 564.1L536.5 564.1L537.0 564.2L537.5 564.2L538.0 564.3L538.5 564.4L539.0 564.4L539.5 564.5L540.0 564.6L540.5 564.6L541.0 564.7L541.5 564.7L542.0 564.8L542.5 564.9L543.0 564.9L543.5 565.0L544.0 565.0L544.5 565.1L545.0 565.2L545.5 565.2L546.0 565.3L546.5 565.3L547.0 565.4L547.5 565.5L548.0 565.5L548.5 565.6L549.0 565.7L549.5 565.7L550.0 565.8L550.5 565.8L551.0 565.9L551.5 566.0L552.0 566.0L552.5 566.1L553.0 566.1L553.5 566.2L554.0 566.3L554.5 566.3L555.0 566.4L555.5 566.4L556.0 566.5L556.5 566.6L557.0 566.6L557.5 566.7L558.0 566.8L558.5 566.8L559.0 566.9L559.5 566.9L560.0 567.0L560.5 567.1L561.0 567.1L561.5 567.2L562.0 567.2L562.5 567.3L563.0 567.4L563.5 567.4L564.0 567.5L564.5 567.5L565.0 567.6L565.5 567.7L566.0 567.7L566.5 567.8L567.0 567.8L567.5 567.9L568.0 568.0L568.5 568.0L569.0 568.1L569.5 568.1L570.0 568.2L570.5 568.2L571.0 568.3L571.5 568.4L572.0 568.4L572.5 568.5L573.0 568.5L573.5 568.6L574.0 568.7L574.5 568.7L575.0 568.8L575.5 568.8L576.0 568.9L576.5 569.0L577.0 569.0L577.5 569.1L578.0 569.1L578.5 569.2L579.0 569.3L579.5 569.3L580.0 569.4L580.5 569.5L581.0 569.5L581.5 569.6L582.0 569.7L582.5 569.7L583.0 569.8L583.5 569.9L584.0 569.9L584.5 570.0L585.0 570.1L585.5 570.2L586.0 570.2L586.5 570.3L587.0 570.4L587.5 570.4L588.0 570.5L588.5 570.6L589.0 570.7L589.5 570.7L590.0 570.8L590.5 570.9L591.0 570.9L591.5 571.0L592.0 571.1L592.5 571.2L593.0 571.2L593.5 571.3L594.0 571.4L594.5 571.5L595.0 571.5L595.5 571.6L596.0 571.7L596.5 571.8L597.0 571.9L597.5 571.9L598.0 572.0L598.5 572.1L599.0 572.2L599.5 572.2L600.0 572.3L600.5 572.4L601.0 572.5L601.5 572.6L602.0 572.6L602.5 572.7L603.0 572.8L603.5 572.9L604.0 573.0L604.5 573.1L605.0 573.1L605.5 573.2L606.0 573.3L606.5 573.4L607.0 573.5L607.5 573.6L608.0 573.7L608.5 573.7L609.0 573.8L609.5 573.9L610.0 574.0L610.5 574.1L611.0 574.2L611.5 574.3L612.0 574.4L612.5 574.5L613.0 574.6L613.5 574.7L614.0 574.7L614.5 574.8L615.0 574.9L615.5 575.0L616.0 575.1L616.5 575.2L617.0 575.3L617.5 575.4L618.0 575.5L618.5 575.6L619.0 575.7L619.5 575.8L620.0 575.9L620.5 576.0L621.0 576.1L621.5 576.2L622.0 576.4L622.5 576.5L623.0 576.6L623.5 576.7L624.0 576.8L624.5 576.9L625.0 577.0L625.5 577.1L626.0 577.2L626.5 577.4L627.0 577.5L627.5 577.6L628.0 577.7L628.5 577.8L629.0 578.0L629.5 578.1L630.0 578.2L630.5 578.3L631.0 578.5L631.5 578.6L632.0 578.7L632.5 578.9L633.0 579.0L633.5 579.1L634.0 579.3L634.5 579.4L635.0 579.5L635.5 579.7L636.0 579.8L636.5 580.0L637.0 580.1L637.5 580.2L638.0 580.4L638.5 580.5L639.0 580.7L639.5 580.8L640.0 581.0L640.5 581.1L641.0 581.3L641.5 581.5L642.0 581.6L642.5 581.8L643.0 581.9L643.5 582.1L644.0 582.3L644.5 582.4L645.0 582.6L645.5 582.8L646.0 582.9L646.5 583.1L647.0 583.3L647.5 583.4L648.0 583.6L648.5 583.8L649.0 584.0L649.5 584.1L650.0 584.3L650.5 584.5L651.0 584.7L651.5 584.9L652.0 585.0L652.5 585.2L653.0 585.4L653.5 585.6L654.0 585.8L654.5 586.0L655.0 586.2L655.5 586.4L656.0 586.6L656.5 586.8L657.0 587.0L657.5 587.2L658.0 587.4L658.5 587.6L659.0 587.9L659.5 588.1L660.0 588.3L660.5 588.5L661.0 588.8L661.5 589.0L662.0 589.2L662.5 589.5L663.0 589.7L663.5 590.0L664.0 590.2L664.5 590.5L665.0 590.7L665.5 591.0L666.0 591.2L666.5 591.5L667.0 591.7L667.5 592.0L668.0 592.3L668.5 592.5L669.0 592.8L669.5 593.1L670.0 593.3L670.5 593.6L671.0 593.9L671.5 594.2L672.0 594.4L672.5 594.7L673.0 595.0L673.5 595.3L674.0 595.6L674.5 595.8L675.0 596.1L675.5 596.4L676.0 596.7L676.5 597.0L677.0 597.3L677.5 597.6L678.0 597.9L678.5 598.2L679.0 598.5L679.5 598.8L680.0 599.1L680.5 599.4L681.0 599.7L681.5 600.1L682.0 600.4L682.5 600.7L683.0 601.0L683.5 601.4L684.0 601.7L684.5 602.1L685.0 602.4L685.5 602.8L686.0 603.1L686.5 603.5L687.0 603.8L687.5 604.2L688.0 604.5L688.5 604.9L689.0 605.2L689.5 605.6L690.0 606.0L690.5 606.3L691.0 606.7L691.5 607.1L692.0 607.5L692.5 607.8L693.0 608.2L693.5 608.6L694.0 609.0L694.5 609.3L695.0 609.7L695.5 610.1L696.0 610.5L696.5 610.8L697.0 611.2L697.5 611.6L698.0 612.0L698.5 612.4L699.0 612.8L699.5 613.1L700.0 613.5L700.5 613.9L701.0 614.3L701.5 614.7L702.0 615.1L702.5 615.5L703.0 615.9L703.5 616.3L704.0 616.7L704.5 617.1L705.0 617.5L705.5 617.9L706.0 618.3L706.5 618.7L707.0 619.2L707.5 619.6L708.0 620.0L708.5 620.4L709.0 620.9L709.5 621.3L710.0 621.7L710.5 622.2L711.0 622.6L711.5 623.1L712.0 623.5L712.5 624.0L713.0 624.5L713.5 624.9L714.0 625.4L714.5 625.9L715.0 626.4L715.5 626.9L716.0 627.4L716.5 627.9L717.0 628.4L717.5 629.0L718.0 629.5L718.5 630.1L719.0 630.6L719.5 631.2L720.0 631.8L720.5 632.3L721.0 632.9L721.5 633.5L722.0 634.1L722.5 634.7L723.0 635.2L723.5 635.8L724.0 636.4L724.5 637.0L725.0 637.6L725.5 638.2L726.0 638.9L726.5 639.5L727.0 640.2L727.5 640.9L728.0 641.5L728.5 642.2L729.0 642.9L729.5 643.5L730.0 644.2L730.5 644.9L731.0 645.5L731.5 646.1L732.0 646.8L732.5 647.4L733.0 647.9L733.5 648.5L734.0 649.0L734.5 649.5L735.0 650.0L735.5 650.5L736.0 650.9L736.5 651.4L737.0 651.9L737.5 652.4L738.0 652.9L738.5 653.4L739.0 653.9L739.5 654.3L740.0 654.8L740.5 655.2L741.0 655.6L741.5 655.9L742.0 656.2L742.5 656.5L743.0 656.7L743.5 656.8L744.0 657.0L744.5 657.0L745.0 657.0L745.5 656.8L746.0 656.5L746.5 656.1L747.0 655.7L747.5 655.2L748.0 654.6L748.5 654.0L749.0 653.3L749.5 652.7L750.0 652.0L750.5 651.3L751.0 650.5L751.5 649.5L752.0 648.5L752.5 647.3L753.0 646.1L753.5 644.7L754.0 643.2L754.5 641.5L755.0 639.5L755.5 637.4L756.0 635.1L756.5 632.6L757.0 630.0L757.5 627.0L758.0 623.4L758.5 619.6L759.0 615.6L759.5 611.6L760.0 607.6L760.5 603.4L761.0 599.1L761.5 594.7L762.0 590.0L762.5 585.1L763.0 580.1L763.5 574.9L764.0 569.4L764.5 563.8L765.0 558.0L765.5 551.9L766.0 545.4L766.5 538.6L767.0 531.7L767.5 524.7L768.0 518.0L768.5 511.5L769.0 505.2L769.5 499.0L770.0 492.6L770.5 486.0L771.0 479.0L771.5 471.3L772.0 462.9L772.5 454.4L773.0 446.1L773.5 438.6L774.0 431.7L774.5 425.3L775.0 419.1L775.5 413.0L776.0 406.7L776.5 400.0L777.0 392.8L777.5 385.1L778.0 377.3L778.5 369.9L779.0 363.0L779.5 357.2L780.0 351.9L780.5 346.5L781.0 340.0L781.5 331.1L782.0 320.3L782.5 309.3L783.0 300.0L783.5 292.3L784.0 285.0L784.5 278.2L785.0 272.0L785.5 266.6L786.0 262.0L786.5 257.7L787.0 253.7L787.5 250.7L788.0 249.5L788.5 250.1L789.0 251.6L789.5 253.7L790.0 256.0L790.5 258.9L791.0 262.8L791.5 267.1L792.0 271.0L792.5 274.5L793.0 277.7L793.5 280.9L794.0 284.0L794.5 287.2L795.0 290.4L795.5 293.9L796.0 297.6L796.5 301.7L797.0 306.5L797.5 311.8L798.0 317.4L798.5 323.1L799.0 328.6L799.5 333.8L800.0 338.4L800.5 342.2L801.0 345.7L801.5 348.9L802.0 351.9L802.5 354.8L803.0 357.6L803.5 360.5L804.0 363.4L804.5 366.4L805.0 369.5L805.5 372.5L806.0 375.5L806.5 378.4L807.0 381.4L807.5 384.2L808.0 386.9L808.5 389.6L809.0 392.2L809.5 394.7L810.0 397.2L810.5 399.7L811.0 402.1L811.5 404.5L812.0 406.8L812.5 409.0L813.0 411.2L813.5 413.3L814.0 415.4L814.5 417.5L815.0 419.5L815.5 421.4L816.0 423.3L816.5 425.2L817.0 427.0L817.5 428.7L818.0 430.3L818.5 431.9L819.0 433.4L819.5 434.8L820.0 436.2L820.5 437.6L821.0 438.9L821.5 440.3L822.0 441.6L822.5 442.9L823.0 444.3L823.5 445.6L824.0 446.9L824.5 448.2L825.0 449.5L825.5 450.8L826.0 452.1L826.5 453.4L827.0 454.6L827.5 455.8L828.0 457.1L828.5 458.3L829.0 459.4L829.5 460.6L830.0 461.7L830.5 462.8L831.0 463.9L831.5 465.0L832.0 466.0L832.5 467.0L833.0 468.0L833.5 468.9L834.0 469.9L834.5 470.8L835.0 471.7L835.5 472.6L836.0 473.5L836.5 474.3L837.0 475.2L837.5 476.0L838.0 476.8L838.5 477.6L839.0 478.4L839.5 479.2L840.0 480.0L840.5 480.7L841.0 481.5L841.5 482.2L842.0 483.0L842.5 483.7L843.0 484.4L843.5 485.2L844.0 485.9L844.5 486.6L845.0 487.3L845.5 487.9L846.0 488.6L846.5 489.3L847.0 490.0L847.5 490.7L848.0 491.3L848.5 492.0L849.0 492.7L849.5 493.3L850.0 494.0L850.5 494.6L851.0 495.2L851.5 495.9L852.0 496.5L852.5 497.1L853.0 497.7L853.5 498.4L854.0 499.0L854.5 499.6L855.0 500.1L855.5 500.7L856.0 501.3L856.5 501.9L857.0 502.5L857.5 503.0L858.0 503.6L858.5 504.2L859.0 504.7L859.5 505.3L860.0 505.8L860.5 506.3L861.0 506.9L861.5 507.4L862.0 507.9L862.5 508.4L863.0 509.0L863.5 509.5L864.0 510.0L864.5 510.5L865.0 511.0L865.5 511.5L866.0 512.0L866.5 512.5L867.0 513.0L867.5 513.5L868.0 514.0L868.5 514.5L869.0 515.0L869.5 515.5L870.0 516.0L870.5 516.4L871.0 516.9L871.5 517.4L872.0 517.8L872.5 518.3L873.0 518.7L873.5 519.1L874.0 519.6L874.5 520.0L875.0 520.4L875.5 520.8L876.0 521.1L876.5 521.5L877.0 521.9L877.5 522.2L878.0 522.5L878.5 522.9L879.0 523.2L879.5 523.5L880.0 523.8L880.5 524.1L881.0 524.4L881.5 524.7L882.0 525.0L882.5 525.3L883.0 525.5L883.5 525.8L884.0 526.1L884.5 526.3L885.0 526.6L885.5 526.8L886.0 527.0L886.5 527.3L887.0 527.5L887.5 527.7L888.0 527.8L888.5 528.0L889.0 528.2L889.5 528.3L890.0 528.5L890.5 528.6L891.0 528.8L891.5 528.9L892.0 529.0L892.5 529.2L893.0 529.3L893.5 529.3L894.0 529.4L894.5 529.4L895.0 529.4L895.5 529.3L896.0 529.1L896.5 529.0L897.0 528.7L897.5 528.5L898.0 528.3L898.5 528.0L899.0 527.8L899.5 527.6L900.0 527.3L900.5 527.0L901.0 526.7L901.5 526.4L902.0 526.0L902.5 525.7L903.0 525.3L903.5 524.9L904.0 524.5L904.5 524.1L905.0 523.6L905.5 523.2L906.0 522.7L906.5 522.1L907.0 521.5L907.5 520.9L908.0 520.2L908.5 519.4L909.0 518.4L909.5 517.3L910.0 516.2L910.5 515.0L911.0 513.8L911.5 512.4L912.0 511.0L912.5 509.6L913.0 508.0L913.5 506.4L914.0 504.7L914.5 502.9L915.0 500.9L915.5 498.5L916.0 495.7L916.5 492.8L917.0 490.0L917.5 487.7L918.0 485.7L918.5 483.8L919.0 481.8L919.5 479.5L920.0 476.9L920.5 473.5L921.0 468.7L921.5 462.7L922.0 456.3L922.5 450.0L923.0 443.7L923.5 437.1L924.0 431.1L924.5 425.9L925.0 421.3L925.5 417.0L926.0 412.9L926.5 408.8L927.0 404.6L927.5 400.1L928.0 395.1L928.5 389.5L929.0 383.5L929.5 377.4L930.0 371.6L930.5 366.3L931.0 361.9L931.5 358.1L932.0 354.7L932.5 351.5L933.0 348.4L933.5 345.3L934.0 342.1L934.5 338.5L935.0 334.6L935.5 330.5L936.0 326.4L936.5 322.9L937.0 320.0L937.5 317.6L938.0 315.1L938.5 312.9L939.0 310.9L939.5 309.4L940.0 308.5L940.5 308.2L941.0 308.7L941.5 309.7L942.0 311.0L942.5 312.5L943.0 314.0L943.5 315.6L944.0 317.5L944.5 319.6L945.0 322.0L945.5 325.0L946.0 328.6L946.5 332.6L947.0 336.5L947.5 340.0L948.0 343.1L948.5 345.9L949.0 348.7L949.5 351.3L950.0 354.0L950.5 356.6L951.0 359.4L951.5 362.4L952.0 365.5L952.5 368.9L953.0 372.5L953.5 376.3L954.0 380.0L954.5 383.8L955.0 387.5L955.5 391.1L956.0 394.5L956.5 397.6L957.0 400.7L957.5 403.8L958.0 406.8L958.5 409.9L959.0 412.8L959.5 415.7L960.0 418.5L960.5 421.1L961.0 423.5L961.5 425.7L962.0 427.7L962.5 429.4L963.0 430.8L963.5 432.0L964.0 433.1L964.5 434.0L965.0 434.9L965.5 435.7L966.0 436.6L966.5 437.6L967.0 438.7L967.5 440.0L968.0 441.6L968.5 443.6L969.0 445.8L969.5 448.2L970.0 450.7L970.5 453.2L971.0 455.6L971.5 457.9L972.0 460.0L972.5 461.9L973.0 463.9L973.5 465.8L974.0 467.6L974.5 469.4L975.0 471.2L975.5 472.8L976.0 474.3L976.5 475.7L977.0 477.0L977.5 478.2L978.0 479.4L978.5 480.7L979.0 481.9L979.5 483.0L980.0 484.1L980.5 485.0L981.0 485.8L981.5 486.4L982.0 486.8L982.5 486.9L983.0 486.4L983.5 485.0L984.0 483.0L984.5 480.6L985.0 478.0L985.5 474.7L986.0 470.2L986.5 465.1L987.0 460.0L987.5 455.4L988.0 450.6L988.5 444.7L989.0 435.5L989.5 418.4L990.0 400.0L990.5 383.7L991.0 368.1L991.5 354.5L992.0 345.0L992.5 356.4L993.0 384.7L993.5 410.5L994.0 425.5L994.5 437.6L995.0 449.1L995.5 459.1L996.0 468.6L996.5 478.4L997.0 489.2L997.5 501.7L998.0 514.6L998.5 526.2L999.0 536.6L999.5 546.2L1000.0 555.0"/>
<path stroke="#0000ff" d="M64.5 552.5L65.0 552.5L65.5 552.5L66.0 552.5L66.5 552.5L67.0 552.5L67.5 552.5L68.0 552.5L68.5 552.5L69.0 552.5L69.5 552.5L70.0 552.5L70.5 552.5L71.0 552.5L71.5 552.5L72.0 552.5L72.5 552.5L73.0 552.5L73.5 552.5L74.0 552.5L74.5 552.5L75.0 552.5L75.5 552.5L76.0 552.5L76.5 552.5L77.0 552.5L77.5 552.5L78.0 552.5L78.5 552.5L79.0 552.5L79.5 552.5L80.0 552.5L80.5 552.5L81.0 552.5L81.5 552.5L82.0 552.5L82.5 552.5L83.0 552.5L83.5 552.5L84.0 552.5L84.5 552.5L85.0 552.5L85.5 552.5L86.0 552.5L86.5 552.5L87.0 552.5L87.5 552.5L88.0 552.5L88.5 552.5L89.0 552.5L89.5 552.5L90.0 552.5L90.5 552.5L91.0 552.5L91.5 552.5L92.0 552.5L92.5 552.5L93.0 552.5L93.5 552.5L94.0 552.5L94.5 552.5L95.0 552.5L95.5 552.5L96.0 552.5L96.5 552.5L97.0 552.5L97.5 552.5L98.0 552.5L98.5 552.5L99.0 552.5L99.5 552.5L100.0 552.5L100.5 552.5L101.0 552.5L101.5 552.5L102.0 552.5L102.5 552.5L103.0 552.5L103.5 552.5L104.0 552.5L104.5 552.5L105.0 552.5L105.5 552.5L106.0 552.5L106.5 552.5L107.0 552.5L107.5 552.5L108.0 552.5L108.5 552.5L109.0 552.5L109.5 552.5L110.0 552.5L110.5 552.5L111.0 552.5L111.5 552.5L112.0 552.5L112.5 552.5L113.0 552.5L113.5 552.5L114.0 552.5L114.5 552.5L115.0 552.5L115.5 552.5L116.0 552.5L116.5 552.5L117.0 552.5L117.5 552.5L118.0 552.5L118.5 552.5L119.0 552.5L119.5 552.5L120.0 552.5L120.5 552.5L121.0 552.5L121.5 552.5L122.0 552.5L122.5 552.5L123.0 552.5L123.5 552.5L124.0 552.5L124.5 552.5L125.0 552.5L125.5 552.5L126.0 552.5L126.5 552.5L127.0 552.5L127.5 552.5L128.0 552.5L128.5 552.5L129.0 552.5L129.5 552.5L130.0 552.5L130.5 552.5L131.0 552.5L131.5 552.5L132.0 552.5L132.5 552.5L133.0 552.5L133.5 552.5L134.0 552.5L134.5 552.5L135.0 552.5L135.5 552.5L136.0 552.5L136.5 552.5L137.0 552.5L137.5 552.5L138.0 552.5L138.5 552.5L139.0 552.5L139.5 552.5L140.0 552.5L140.5 552.5L141.0 552.5L141.5 552.5L142.0 552.5L142.5 552.5L143.0 552.5L143.5 552.5L144.0 552.5L144.5 552.5L145.0 552.5L145.5 552.5L146.0 552.5L146.5 552.5L147.0 552.5L147.5 552.5L148.0 552.5L148.5 552.5L149.0 552.6L149.5 552.6L150.0 552.6L150.5 552.6L151.0 552.6L151.5 552.6L152.0 552.6L152.5 552.6L153.0 552.6L153.5 552.6L154.0 552.6L154.5 552.6L155.0 552.6L155.5 552.6L156.0 552.6L156.5 552.6L157.0 552.7L157.5 552.7L158.0 552.7L158.5 552.7L159.0 552.7L159.5 552.7L160.0 552.7L160.5 552.7L161.0 552.7L161.5 552.7L162.0 552.7L162.5 552.7L163.0 552.8L163.5 552.8L164.0 552.8L164.5 552.8L165.0 552.8L165.5 552.8L166.0 552.8L166.5 552.8L167.0 552.8L167.5 552.8L168.0 552.8L168.5 552.9L169.0 552.9L169.5 552.9L170.0 552.9L170.5 552.9L171.0 552.9L171.5 552.9L172.0 552.9L172.5 552.9L173.0 553.0L173.5 553.0L174.0 553.0L174.5 553.0L175.0 553.0L175.5 553.0L176.0 553.0L176.5 553.0L177.0 553.0L177.5 553.1L178.0 553.1L178.5 553.1L179.0 553.1L179.5 553.1L180.0 553.1L180.5 553.1L181.0 553.1L181.5 553.1L182.0 553.1L182.5 553.2L183.0 553.2L183.5 553.2L184.0 553.2L184.5 553.2L185.0 553.2L185.5 553.2L186.0 553.2L186.5 553.2L187.0 553.3L187.5 553.3L188.0 553.3L188.5 553.3L189.0 553.3L189.5 553.3L190.0 553.3L190.5 553.3L191.0 553.3L191.5 553.3L192.0 553.4L192.5 553.4L193.0 553.4L193.5 553.4L194.0 553.4L194.5 553.4L195.0 553.4L195.5 553.4L196.0 553.4L196.5 553.4L197.0 553.5L197.5 553.5L198.0 553.5L198.5 553.5L199.0 553.5L199.5 553.5L200.0 553.5L200.5 553.5L201.0 553.5L201.5 553.5L202.0 553.5L202.5 553.5L203.0 553.5L203.5 553.6L204.0 553.6L204.5 553.6L205.0 553.6L205.5 553.6L206.0 553.6L206.5 553.6L207.0 553.6L207.5 553.6L208.0 553.6L208.5 553.6L209.0 553.6L209.5 553.6L210.0 553.7L210.5 553.7L211.0 553.7L211.5 553.7L212.0 553.7L212.5 553.7L213.0 553.7L213.5 553.7L214.0 553.7L214.5 553.7L215.0 553.7L215.5 553.7L216.0 553.7L216.5 553.7L217.0 553.7L217.5 553.8L218.0 553.8L218.5 553.8L219.0 553.8L219.5 553.8L220.0 553.8L220.5 553.8L221.0 553.8L221.5 553.8L222.0 553.8L222.5 553.8L223.0 553.8L223.5 553.8L224.0 553.8L224.5 553.9L225.0 553.9L225.5 553.9L226.0 553.9L226.5 553.9L227.0 553.9L227.5 553.9L228.0 553.9L228.5 553.9L229.0 553.9L229.5 553.9L230.0 553.9L230.5 553.9L231.0 553.9L231.5 553.9L232.0 553.9L232.5 554.0L233.0 554.0L233.5 554.0L234.0 554.0L234.5 554.0L235.0 554.0L235.5 554.0L236.0 554.0L236.5 554.0L237.0 554.0L237.5 554.0L238.0 554.0L238.5 554.0L239.0 554.0L239.5 554.0L240.0 554.1L240.5 554.1L241.0 554.1L241.5 554.1L242.0 554.1L242.5 554.1L243.0 554.1L243.5 554.1L244.0 554.1L244.5 554.1L245.0 554.1L245.5 554.1L246.0 554.1L246.5 554.1L247.0 554.1L247.5 554.2L248.0 554.2L248.5 554.2L249.0 554.2L249.5 554.2L250.0 554.2L250.5 554.2L251.0 554.2L251.5 554.2L252.0 554.2L252.5 554.2L253.0 554.2L253.5 554.2L254.0 554.2L254.5 554.2L255.0 554.3L255.5 554.3L256.0 554.3L256.5 554.3L257.0 554.3L257.5 554.3L258.0 554.3L258.5 554.3L259.0 554.3L259.5 554.3L260.0 554.3L260.5 554.3L261.0 554.3L261.5 554.3L262.0 554.3L262.5 554.4L263.0 554.4L263.5 554.4L264.0 554.4L264.5 554.4L265.0 554.4L265.5 554.4L266.0 554.4L266.5 554.4L267.0 554.4L267.5 554.4L268.0 554.4L268.5 554.4L269.0 554.5L269.5 554.5L270.0 554.5L270.5 554.5L271.0 554.5L271.5 554.5L272.0 554.5L272.5 554.5L273.0 554.5L273.5 554.5L274.0 554.5L274.5 554.5L275.0 554.5L275.5 554.6L276.0 554.6L276.5 554.6L277.0 554.6L277.5 554.6L278.0 554.6L278.5 554.6L279.0 554.6L279.5 554.6L280.0 554.6L280.5 554.6L281.0 554.6L281.5 554.7L282.0 554.7L282.5 554.7L283.0 554.7L283.5 554.7L284.0 554.7L284.5 554.7L285.0 554.7L285.5 554.7L286.0 554.7L286.5 554.7L287.0 554.7L287.5 554.8L288.0 554.8L288.5 554.8L289.0 554.8L289.5 554.8L290.0 554.8L290.5 554.8L291.0 554.8L291.5 554.8L292.0 554.8L292.5 554.8L293.0 554.9L293.5 554.9L294.0 554.9L294.5 554.9L295.0 554.9L295.5 554.9L296.0 554.9L296.5 554.9L297.0 554.9L297.5 554.9L298.0 555.0L298.5 555.0L299.0 555.0L299.5 555.0L300.0 555.0L300.5 555.0L301.0 555.0L301.5 555.0L302.0 555.0L302.5 555.1L303.0 555.1L303.5 555.1L304.0 555.1L304.5 555.1L305.0 555.1L305.5 555.1L306.0 555.1L306.5 555.1L307.0 555.2L307.5 555.2L308.0 555.2L308.5 555.2L309.0 555.2L309.5 555.2L310.0 555.2L310.5 555.2L311.0 555.3L311.5 555.3L312.0 555.3L312.5 555.3L313.0 555.3L313.5 555.3L314.0 555.3L314.5 555.3L315.0 555.4L315.5 555.4L316.0 555.4L316.5 555.4L317.0 555.4L317.5 555.4L318.0 555.4L318.5 555.5L319.0 555.5L319.5 555.5L320.0 555.5L320.5 555.5L321.0 555.5L321.5 555.5L322.0 555.6L322.5 555.6L323.0 555.6L323.5 555.6L324.0 555.6L324.5 555.6L325.0 555.6L325.5 555.7L326.0 555.7L326.5 555.7L327.0 555.7L327.5 555.7L328.0 555.7L328.5 555.8L329.0 555.8L329.5 555.8L330.0 555.8L330.5 555.8L331.0 555.8L331.5 555.8L332.0 555.9L332.5 555.9L333.0 555.9L333.5 555.9L334.0 555.9L334.5 555.9L335.0 556.0L335.5 556.0L336.0 556.0L336.5 556.0L337.0 556.0L337.5 556.0L338.0 556.1L338.5 556.1L339.0 556.1L339.5 556.1L340.0 556.1L340.5 556.1L341.0 556.2L341.5 556.2L342.0 556.2L342.5 556.2L343.0 556.2L343.5 556.3L344.0 556.3L344.5 556.3L345.0 556.3L345.5 556.3L346.0 556.3L346.5 556.4L347.0 556.4L347.5 556.4L348.0 556.4L348.5 556.4L349.0 556.5L349.5 556.5L350.0 556.5L350.5 556.5L351.0 556.5L351.5 556.5L352.0 556.6L352.5 556.6L353.0 556.6L353.5 556.6L354.0 556.6L354.5 556.7L355.0 556.7L355.5 556.7L356.0 556.7L356.5 556.7L357.0 556.7L357.5 556.8L358.0 556.8L358.5 556.8L359.0 556.8L359.5 556.8L360.0 556.9L360.5 556.9L361.0 556.9L361.5 556.9L362.0 556.9L362.5 557.0L363.0 557.0L363.5 557.0L364.0 557.0L364.5 557.0L365.0 557.1L365.5 557.1L366.0 557.1L366.5 557.1L367.0 557.1L367.5 557.2L368.0 557.2L368.5 557.2L369.0 557.2L369.5 557.2L370.0 557.3L370.5 557.3L371.0 557.3L371.5 557.3L372.0 557.3L372.5 557.4L373.0 557.4L373.5 557.4L374.0 557.4L374.5 557.4L375.0 557.5L375.5 557.5L376.0 557.5L376.5 557.5L377.0 557.5L377.5 557.6L378.0 557.6L378.5 557.6L379.0 557.6L379.5 557.6L380.0 557.7L380.5 557.7L381.0 557.7L381.5 557.7L382.0 557.7L382.5 557.8L383.0 557.8L383.5 557.8L384.0 557.8L384.5 557.9L385.0 557.9L385.5 557.9L386.0 557.9L386.5 557.9L387.0 558.0L387.5 558.0L388.0 558.0L388.5 558.0L389.0 558.0L389.5 558.1L390.0 558.1L390.5 558.1L391.0 558.1L391.5 558.1L392.0 558.2L392.5 558.2L393.0 558.2L393.5 558.2L394.0 558.2L394.5 558.3L395.0 558.3L395.5 558.3L396.0 558.3L396.5 558.4L397.0 558.4L397.5 558.4L398.0 558.4L398.5 558.4L399.0 558.5L399.5 558.5L400.0 558.5L400.5 558.5L401.0 558.5L401.5 558.6L402.0 558.6L402.5 558.6L403.0 558.6L403.5 558.7L404.0 558.7L404.5 558.7L405.0 558.7L405.5 558.8L406.0 558.8L406.5 558.8L407.0 558.9L407.5 558.9L408.0 558.9L408.5 558.9L409.0 559.0L409.5 559.0L410.0 559.0L410.5 559.1L411.0 559.1L411.5 559.1L412.0 559.2L412.5 559.2L413.0 559.2L413.5 559.3L414.0 559.3L414.5 559.3L415.0 559.3L415.5 559.4L416.0 559.4L416.5 559.4L417.0 559.5L417.5 559.5L418.0 559.5L418.5 559.6L419.0 559.6L419.5 559.6L420.0 559.7L420.5 559.7L421.0 559.7L421.5 559.8L422.0 559.8L422.5 559.8L423.0 559.9L423.5 559.9L424.0 559.9L424.5 560.0L425.0 560.0L425.5 560.0L426.0 560.1L426.5 560.1L427.0 560.1L427.5 560.2L428.0 560.2L428.5 560.2L429.0 560.3L429.5 560.3L430.0 560.3L430.5 560.4L431.0 560.4L431.5 560.4L432.0 560.4L432.5 560.5L433.0 560.5L433.5 560.5L434.0 560.5L434.5 560.6L435.0 560.6L435.5 560.6L436.0 560.6L436.5 560.7L437.0 560.7L437.5 560.7L438.0 560.7L438.5 560.7L439.0 560.8L439.5 560.8L440.0 560.8L440.5 560.8L441.0 560.8L441.5 560.9L442.0 560.9L442.5 560.9L443.0 560.9L443.5 560.9L444.0 560.9L444.5 560.9L445.0 560.9L445.5 561.0L446.0 561.0L446.5 561.0L447.0 561.0L447.5 561.0L448.0 561.0L448.5 561.0L449.0 561.0L449.5 561.0L450.0 561.0L450.5 561.0L451.0 561.0L451.5 561.0L452.0 561.0L452.5 561.0L453.0 561.0L453.5 561.0L454.0 561.0L454.5 561.0L455.0 561.0L455.5 561.0L456.0 561.0L456.5 561.0L457.0 561.0L457.5 561.0L458.0 561.0L458.5 561.0L459.0 561.0L459.5 561.0L460.0 561.0L460.5 561.0L461.0 561.0L461.5 561.0L462.0 561.0L462.5 561.0L463.0 561.0L463.5 561.0L464.0 561.0L464.5 561.0L465.0 561.0L465.5 561.0L466.0 561.0L466.5 561.0L467.0 561.0L467.5 561.0L468.0 561.0L468.5 561.0L469.0 561.0L469.5 561.0L470.0 561.0L470.5 561.0L471.0 560.9L471.5 560.9L472.0 560.8L472.5 560.7L473.0 560.5L473.5 560.4L474.0 560.2L474.5 560.0L475.0 559.8L475.5 559.6L476.0 559.4L476.5 559.1L477.0 558.8L477.5 558.5L478.0 558.3L478.5 558.0L479.0 557.6L479.5 557.3L480.0 557.0L480.5 556.6L481.0 556.1L481.5 555.5L482.0 554.9L482.5 554.2L483.0 553.4L483.5 552.7L484.0 552.0L484.5 551.3L485.0 550.6L485.5 549.8L486.0 549.0L486.5 548.2L487.0 547.0L487.5 543.4L488.0 538.0L488.5 532.1L489.0 525.0L489.5 516.6L490.0 505.0L490.5 485.0L491.0 454.0L491.5 407.6L492.0 329.8L492.5 140.5L493.0 241.0L493.5 341.7L494.0 420.0L494.5 463.0L495.0 490.0L495.5 504.3L496.0 515.0L496.5 525.8L497.0 535.0L497.5 542.4L498.0 548.0L498.5 552.1L499.0 555.7L499.5 558.5L500.0 560.0L500.5 560.7L501.0 561.4L501.5 561.9L502.0 562.3L502.5 562.7L503.0 563.0L503.5 563.3L504.0 563.5L504.5 563.8L505.0 564.0L505.5 564.2L506.0 564.4L506.5 564.6L507.0 564.8L507.5 565.0L508.0 565.2L508.5 565.4L509.0 565.5L509.5 565.7L510.0 565.9L510.5 566.0L511.0 566.1L511.5 566.3L512.0 566.4L512.5 566.5L513.0 566.6L513.5 566.7L514.0 566.8L514.5 566.9L515.0 567.0L515.5 567.1L516.0 567.2L516.5 567.2L517.0 567.3L517.5 567.4L518.0 567.5L518.5 567.5L519.0 567.6L519.5 567.7L520.0 567.7L520.5 567.8L521.0 567.8L521.5 567.9L522.0 568.0L522.5 568.0L523.0 568.1L523.5 568.1L524.0 568.2L524.5 568.2L525.0 568.3L525.5 568.3L526.0 568.4L526.5 568.4L527.0 568.5L527.5 568.5L528.0 568.6L528.5 568.6L529.0 568.7L529.5 568.7L530.0 568.8L530.5 568.8L531.0 568.9L531.5 568.9L532.0 569.0L532.5 569.1L533.0 569.1L533.5 569.2L534.0 569.2L534.5 569.3L535.0 569.4L535.5 569.4L536.0 569.5L536.5 569.5L537.0 569.6L537.5 569.7L538.0 569.7L538.5 569.8L539.0 569.8L539.5 569.9L540.0 570.0L540.5 570.0L541.0 570.1L541.5 570.1L542.0 570.2L542.5 570.3L543.0 570.3L543.5 570.4L544.0 570.4L544.5 570.5L545.0 570.6L545.5 570.6L546.0 570.7L546.5 570.7L547.0 570.8L547.5 570.9L548.0 570.9L548.5 571.0L549.0 571.1L549.5 571.1L550.0 571.2L550.5 571.2L551.0 571.3L551.5 571.4L552.0 571.4L552.5 571.5L553.0 571.6L553.5 571.6L554.0 571.7L554.5 571.7L555.0 571.8L555.5 571.9L556.0 571.9L556.5 572.0L557.0 572.1L557.5 572.1L558.0 572.2L558.5 572.3L559.0 572.3L559.5 572.4L560.0 572.5L560.5 572.6L561.0 572.6L561.5 572.7L562.0 572.8L562.5 572.8L563.0 572.9L563.5 573.0L564.0 573.1L564.5 573.1L565.0 573.2L565.5 573.3L566.0 573.4L566.5 573.4L567.0 573.5L567.5 573.6L568.0 573.7L568.5 573.8L569.0 573.8L569.5 573.9L570.0 574.0L570.5 574.1L571.0 574.2L571.5 574.3L572.0 574.3L572.5 574.4L573.0 574.5L573.5 574.6L574.0 574.7L574.5 574.8L575.0 574.9L575.5 575.0L576.0 575.1L576.5 575.2L577.0 575.3L577.5 575.4L578.0 575.5L578.5 575.7L579.0 575.8L579.5 575.9L580.0 576.0L580.5 576.1L581.0 576.2L581.5 576.4L582.0 576.5L582.5 576.6L583.0 576.8L583.5 576.9L584.0 577.1L584.5 577.2L585.0 577.4L585.5 577.5L586.0 577.7L586.5 577.9L587.0 578.0L587.5 578.2L588.0 578.3L588.5 578.5L589.0 578.7L589.5 578.8L590.0 579.0L590.5 579.1L591.0 579.3L591.5 579.5L592.0 579.6L592.5 579.8L593.0 579.9L593.5 580.1L594.0 580.2L594.5 580.4L595.0 580.5L595.5 580.6L596.0 580.8L596.5 580.9L597.0 581.0L597.5 581.2L598.0 581.3L598.5 581.4L599.0 581.6L599.5 581.7L600.0 581.8L600.5 582.0L601.0 582.1L601.5 582.2L602.0 582.3L602.5 582.5L603.0 582.6L603.5 582.7L604.0 582.8L604.5 583.0L605.0 583.1L605.5 583.2L606.0 583.3L606.5 583.5L607.0 583.6L607.5 583.7L608.0 583.8L608.5 584.0L609.0 584.1L609.5 584.2L610.0 584.3L610.5 584.5L611.0 584.6L611.5 584.7L612.0 584.8L612.5 585.0L613.0 585.1L613.5 585.2L614.0 585.3L614.5 585.5L615.0 585.6L615.5 585.7L616.0 585.9L616.5 586.0L617.0 586.2L617.5 586.3L618.0 586.4L618.5 586.6L619.0 586.7L619.5 586.9L620.0 587.0L620.5 587.1L621.0 587.3L621.5 587.4L622.0 587.6L622.5 587.7L623.0 587.8L623.5 588.0L624.0 588.1L624.5 588.3L625.0 588.4L625.5 588.5L626.0 588.7L626.5 588.8L627.0 589.0L627.5 589.1L628.0 589.3L628.5 589.4L629.0 589.5L629.5 589.7L630.0 589.8L630.5 590.0L631.0 590.1L631.5 590.3L632.0 590.4L632.5 590.6L633.0 590.7L633.5 590.9L634.0 591.0L634.5 591.2L635.0 591.3L635.5 591.5L636.0 591.7L636.5 591.8L637.0 592.0L637.5 592.1L638.0 592.3L638.5 592.5L639.0 592.6L639.5 592.8L640.0 593.0L640.5 593.1L641.0 593.3L641.5 593.5L642.0 593.7L642.5 593.9L643.0 594.0L643.5 594.2L644.0 594.4L644.5 594.6L645.0 594.8L645.5 595.0L646.0 595.2L646.5 595.4L647.0 595.6L647.5 595.8L648.0 596.0L648.5 596.2L649.0 596.4L649.5 596.7L650.0 596.9L650.5 597.1L651.0 597.4L651.5 597.6L652.0 597.9L652.5 598.2L653.0 598.4L653.5 598.7L654.0 599.0L654.5 599.3L655.0 599.6L655.5 599.9L656.0 600.2L656.5 600.5L657.0 600.8L657.5 601.1L658.0 601.4L658.5 601.7L659.0 602.0L659.5 602.3L660.0 602.6L660.5 602.9L661.0 603.2L661.5 603.5L662.0 603.8L662.5 604.1L663.0 604.4L663.5 604.7L664.0 604.9L664.5 605.2L665.0 605.5L665.5 605.8L666.0 606.0L666.5 606.3L667.0 606.6L667.5 606.9L668.0 607.1L668.5 607.4L669.0 607.7L669.5 607.9L670.0 608.2L670.5 608.5L671.0 608.8L671.5 609.0L672.0 609.3L672.5 609.6L673.0 609.8L673.5 610.1L674.0 610.4L674.5 610.6L675.0 610.9L675.5 611.2L676.0 611.5L676.5 611.7L677.0 612.0L677.5 612.3L678.0 612.5L678.5 612.8L679.0 613.1L679.5 613.4L680.0 613.6L680.5 613.9L681.0 614.2L681.5 614.5L682.0 614.7L682.5 615.0L683.0 615.3L683.5 615.5L684.0 615.8L684.5 616.1L685.0 616.4L685.5 616.6L686.0 616.9L686.5 617.2L687.0 617.4L687.5 617.7L688.0 618.0L688.5 618.3L689.0 618.6L689.5 618.8L690.0 619.1L690.5 619.4L691.0 619.7L691.5 620.0L692.0 620.2L692.5 620.5L693.0 620.8L693.5 621.1L694.0 621.4L694.5 621.7L695.0 622.0L695.5 622.3L696.0 622.6L696.5 622.9L697.0 623.2L697.5 623.5L698.0 623.8L698.5 624.1L699.0 624.4L699.5 624.8L700.0 625.1L700.5 625.4L701.0 625.8L701.5 626.1L702.0 626.4L702.5 626.8L703.0 627.1L703.5 627.5L704.0 627.8L704.5 628.2L705.0 628.5L705.5 628.9L706.0 629.2L706.5 629.5L707.0 629.9L707.5 630.2L708.0 630.6L708.5 630.9L709.0 631.3L709.5 631.6L710.0 631.9L710.5 632.2L711.0 632.6L711.5 632.9L712.0 633.2L712.5 633.5L713.0 633.8L713.5 634.1L714.0 634.4L714.5 634.7L715.0 635.0L715.5 635.3L716.0 635.6L716.5 635.8L717.0 636.1L717.5 636.4L718.0 636.7L718.5 637.0L719.0 637.3L719.5 637.5L720.0 637.8L720.5 638.1L721.0 638.3L721.5 638.6L722.0 638.9L722.5 639.1L723.0 639.3L723.5 639.6L724.0 639.8L724.5 640.0L725.0 640.2L725.5 640.4L726.0 640.6L726.5 640.8L727.0 641.0L727.5 641.2L728.0 641.3L728.5 641.5L729.0 641.7L729.5 641.9L730.0 642.1L730.5 642.2L731.0 642.4L731.5 642.6L732.0 642.7L732.5 642.8L733.0 643.0L733.5 643.1L734.0 643.1L734.5 643.2L735.0 643.3L735.5 643.3L736.0 643.3L736.5 643.2L737.0 643.0L737.5 642.8L738.0 642.5L738.5 642.1L739.0 641.6L739.5 641.1L740.0 640.5L740.5 639.8L741.0 639.1L741.5 638.4L742.0 637.6L742.5 636.8L743.0 636.0L743.5 635.1L744.0 634.2L744.5 633.3L745.0 632.4L745.5 631.5L746.0 630.5L746.5 629.4L747.0 628.1L747.5 626.7L748.0 625.2L748.5 623.6L749.0 621.9L749.5 620.1L750.0 618.2L750.5 616.2L751.0 614.2L751.5 612.2L752.0 610.0L752.5 607.9L753.0 605.7L753.5 603.6L754.0 601.3L754.5 599.0L755.0 596.5L755.5 593.9L756.0 591.1L756.5 588.0L757.0 584.8L757.5 581.2L758.0 576.5L758.5 571.3L759.0 566.2L759.5 561.7L760.0 558.6L760.5 555.6L761.0 552.0L761.5 548.0L762.0 543.8L762.5 539.3L763.0 534.6L763.5 529.8L764.0 524.9L764.5 520.0L765.0 515.0L765.5 509.5L766.0 503.8L766.5 498.0L767.0 492.2L767.5 486.7L768.0 481.7L768.5 477.4L769.0 474.0L769.5 471.0L770.0 467.9L770.5 464.1L771.0 458.7L771.5 448.7L772.0 438.1L772.5 429.0L773.0 422.9L773.5 418.0L774.0 412.8L774.5 405.8L775.0 397.1L775.5 388.5L776.0 381.0L776.5 374.0L777.0 367.3L777.5 360.9L778.0 355.0L778.5 349.3L779.0 342.9L779.5 334.9L780.0 324.7L780.5 313.8L781.0 304.0L781.5 296.6L782.0 290.3L782.5 284.6L783.0 279.4L783.5 274.6L784.0 270.0L784.5 265.3L785.0 260.8L785.5 256.9L786.0 254.0L786.5 251.8L787.0 249.9L787.5 248.9L788.0 249.0L788.5 250.1L789.0 251.9L789.5 254.0L790.0 257.0L790.5 261.2L791.0 265.8L791.5 270.0L792.0 273.5L792.5 276.7L793.0 279.8L793.5 282.8L794.0 285.8L794.5 288.8L795.0 292.0L795.5 295.5L796.0 299.2L796.5 303.5L797.0 308.4L797.5 313.9L798.0 319.6L798.5 325.2L799.0 330.7L799.5 335.7L800.0 340.0L800.5 343.7L801.0 347.1L801.5 350.2L802.0 353.2L802.5 356.1L803.0 359.0L803.5 361.9L804.0 364.9L804.5 368.0L805.0 371.1L805.5 374.1L806.0 377.2L806.5 380.1L807.0 383.0L807.5 385.8L808.0 388.5L808.5 391.1L809.0 393.7L809.5 396.2L810.0 398.7L810.5 401.1L811.0 403.4L811.5 405.8L812.0 408.0L812.5 410.3L813.0 412.5L813.5 414.7L814.0 416.9L814.5 419.0L815.0 421.1L815.5 423.1L816.0 425.1L816.5 427.1L817.0 429.0L817.5 430.9L818.0 432.7L818.5 434.6L819.0 436.3L819.5 438.1L820.0 439.7L820.5 441.3L821.0 442.8L821.5 444.2L822.0 445.5L822.5 446.7L823.0 447.9L823.5 449.0L824.0 450.2L824.5 451.3L825.0 452.5L825.5 453.7L826.0 455.0L826.5 456.3L827.0 457.8L827.5 459.3L828.0 461.1L828.5 463.3L829.0 465.7L829.5 467.9L830.0 469.7L830.5 471.1L831.0 472.4L831.5 473.7L832.0 474.9L832.5 476.0L833.0 477.0L833.5 478.0L834.0 479.0L834.5 479.9L835.0 480.8L835.5 481.6L836.0 482.5L836.5 483.3L837.0 484.2L837.5 485.0L838.0 485.9L838.5 486.7L839.0 487.6L839.5 488.6L840.0 489.5L840.5 490.5L841.0 491.4L841.5 492.4L842.0 493.3L842.5 494.2L843.0 495.2L843.5 496.1L844.0 497.0L844.5 497.9L845.0 498.8L845.5 499.8L846.0 500.7L846.5 501.6L847.0 502.5L847.5 503.4L848.0 504.3L848.5 505.2L849.0 506.0L849.5 506.9L850.0 507.8L850.5 508.8L851.0 509.7L851.5 510.6L852.0 511.5L852.5 512.4L853.0 513.3L853.5 514.2L854.0 515.1L854.5 516.0L855.0 516.9L855.5 517.8L856.0 518.7L856.5 519.5L857.0 520.3L857.5 521.1L858.0 521.9L858.5 522.7L859.0 523.4L859.5 524.1L860.0 524.8L860.5 525.5L861.0 526.1L861.5 526.8L862.0 527.4L862.5 528.0L863.0 528.6L863.5 529.2L864.0 529.8L864.5 530.4L865.0 530.9L865.5 531.5L866.0 532.0L866.5 532.6L867.0 533.1L867.5 533.6L868.0 534.2L868.5 534.7L869.0 535.2L869.5 535.7L870.0 536.3L870.5 536.8L871.0 537.3L871.5 537.8L872.0 538.4L872.5 538.9L873.0 539.4L873.5 539.9L874.0 540.5L874.5 541.0L875.0 541.5L875.5 542.0L876.0 542.5L876.5 542.9L877.0 543.4L877.5 543.9L878.0 544.3L878.5 544.8L879.0 545.2L879.5 545.6L880.0 546.0L880.5 546.4L881.0 546.8L881.5 547.2L882.0 547.5L882.5 547.9L883.0 548.3L883.5 548.6L884.0 548.9L884.5 549.2L885.0 549.5L885.5 549.8L886.0 550.0L886.5 550.2L887.0 550.4L887.5 550.6L888.0 550.8L888.5 551.0L889.0 551.2L889.5 551.3L890.0 551.4L890.5 551.5L891.0 551.5L891.5 551.5L892.0 551.4L892.5 551.3L893.0 551.2L893.5 551.0L894.0 550.9L894.5 550.7L895.0 550.5L895.5 550.2L896.0 550.0L896.5 549.7L897.0 549.3L897.5 548.9L898.0 548.4L898.5 547.8L899.0 547.2L899.5 546.5L900.0 545.8L900.5 545.0L901.0 544.3L901.5 543.5L902.0 542.8L902.5 542.0L903.0 541.2L903.5 540.4L904.0 539.5L904.5 538.6L905.0 537.7L905.5 536.6L906.0 535.6L906.5 534.4L907.0 533.2L907.5 531.8L908.0 530.3L908.5 528.8L909.0 527.2L909.5 525.6L910.0 524.0L910.5 522.4L911.0 520.8L911.5 519.1L912.0 517.2L912.5 515.3L913.0 513.1L913.5 510.6L914.0 507.9L914.5 505.1L915.0 502.1L915.5 499.2L916.0 496.4L916.5 493.6L917.0 491.0L917.5 488.2L918.0 485.4L918.5 482.3L919.0 478.8L919.5 475.0L920.0 470.3L920.5 464.7L921.0 458.6L921.5 452.4L922.0 446.3L922.5 439.7L923.0 433.4L923.5 427.9L924.0 423.1L924.5 418.8L925.0 414.7L925.5 410.6L926.0 406.5L926.5 402.1L927.0 397.2L927.5 391.7L928.0 385.7L928.5 379.5L929.0 373.2L929.5 367.1L930.0 361.4L930.5 355.7L931.0 350.1L931.5 344.6L932.0 339.4L932.5 334.5L933.0 330.0L933.5 325.9L934.0 321.9L934.5 318.3L935.0 315.0L935.5 312.0L936.0 309.3L936.5 306.8L937.0 304.6L937.5 303.0L938.0 301.7L938.5 300.4L939.0 299.5L939.5 299.2L940.0 299.5L940.5 300.4L941.0 301.7L941.5 303.0L942.0 304.7L942.5 307.0L943.0 309.5L943.5 312.0L944.0 314.4L944.5 316.9L945.0 319.4L945.5 322.0L946.0 324.5L946.5 327.0L947.0 330.0L947.5 334.0L948.0 338.4L948.5 342.2L949.0 345.8L949.5 349.1L950.0 352.4L950.5 355.6L951.0 358.9L951.5 362.2L952.0 365.7L952.5 369.5L953.0 373.4L953.5 377.4L954.0 381.4L954.5 385.3L955.0 388.9L955.5 392.2L956.0 395.2L956.5 397.6L957.0 399.6L957.5 401.2L958.0 402.7L958.5 404.2L959.0 405.9L959.5 408.0L960.0 410.7L960.5 414.1L961.0 417.8L961.5 421.7L962.0 425.4L962.5 428.8L963.0 431.6L963.5 434.2L964.0 436.5L964.5 439.0L965.0 441.6L965.5 444.5L966.0 447.3L966.5 450.0L967.0 452.4L967.5 454.8L968.0 457.0L968.5 459.2L969.0 461.3L969.5 463.4L970.0 465.4L970.5 467.4L971.0 469.3L971.5 471.2L972.0 473.0L972.5 474.9L973.0 476.6L973.5 478.4L974.0 480.2L974.5 482.0L975.0 483.8L975.5 485.7L976.0 487.7L976.5 489.8L977.0 491.8L977.5 493.8L978.0 495.5L978.5 496.9L979.0 498.0L979.5 498.9L980.0 499.8L980.5 500.5L981.0 501.0L981.5 501.2L982.0 500.9L982.5 499.8L983.0 498.1L983.5 495.9L984.0 493.5L984.5 491.1L985.0 488.4L985.5 485.1L986.0 481.2L986.5 476.7L987.0 471.1L987.5 463.4L988.0 449.9L988.5 433.3L989.0 415.0L989.5 395.8L990.0 377.0L990.5 359.2L991.0 342.8L991.5 329.2L992.0 330.7L992.5 344.6L993.0 359.9L993.5 382.2L994.0 408.8L994.5 436.3L995.0 451.1L995.5 461.7L996.0 470.3L996.5 478.8L997.0 489.2L997.5 501.8L998.0 514.9L998.5 526.6L999.0 537.1L999.5 546.8L1000.0 555.6"/>
<path stroke="#0000ff" d="M64.5 551.5H107"/>
<path stroke="#ffc800" d="M65 552.5H70M490.5 446V449"/>
<path stroke="#00ff00" d="M490.5 449V454M491.5 294V309"/>
<path stroke="#0000ff" d="M727.5 444V641M946.5 268.2V326M961.5 402.7V422M967.5 433V452"/>
<path stroke="#0000ff" d="M728.5 560V642"/>
</g>
<g fill="#ff0000" stroke="none" shape-rendering="crispEdges">
<path d="M140.0 559.0h7v7h-7zM147.0 561.0h1v3h-1zM142.0 566.0h3v1h-3zM139.0 562.0h9v1h-9zM143.0 558.0h1v9h-1zM141.0 555.0h7v7h-7zM148.0 557.0h1v3h-1zM143.0 562.0h3v1h-3zM140.0 558.0h9v1h-9zM144.0 554.0h1v9h-1zM141.0 553.0h7v7h-7zM148.0 555.0h1v3h-1zM143.0 560.0h3v1h-3zM140.0 556.0h9v1h-9zM144.0 552.0h1v9h-1zM142.0 555.0h7v7h-7zM149.0 557.0h1v3h-1zM144.0 562.0h3v1h-3zM141.0 558.0h9v1h-9zM145.0 554.0h1v9h-1zM142.0 542.0h7v7h-7zM149.0 544.0h1v3h-1zM144.0 549.0h3v1h-3zM141.0 545.0h9v1h-9zM145.0 541.0h1v9h-1zM143.0 560.0h7v7h-7zM150.0 562.0h1v3h-1zM145.0 567.0h3v1h-3zM142.0 563.0h9v1h-9zM146.0 559.0h1v9h-1zM144.0 548.0h7v7h-7zM151.0 550.0h1v3h-1zM146.0 555.0h3v1h-3zM143.0 551.0h9v1h-9zM147.0 547.0h1v9h-1zM144.0 554.0h7v7h-7zM151.0 556.0h1v3h-1zM146.0 561.0h3v1h-3zM143.0 557.0h9v1h-9zM147.0 553.0h1v9h-1zM145.0 545.0h7v7h-7zM152.0 547.0h1v3h-1zM147.0 552.0h3v1h-3zM144.0 548.0h9v1h-9zM148.0 544.0h1v9h-1zM145.0 559.0h7v7h-7zM152.0 561.0h1v3h-1zM147.0 566.0h3v1h-3zM144.0 562.0h9v1h-9zM148.0 558.0h1v9h-1zM146.0 555.0h7v7h-7zM153.0 557.0h1v3h-1zM148.0 562.0h3v1h-3zM145.0 558.0h9v1h-9zM149.0 554.0h1v9h-1zM147.0 547.0h7v7h-7zM154.0 549.0h1v3h-1zM149.0 554.0h3v1h-3zM146.0 550.0h9v1h-9zM150.0 546.0h1v9h-1zM147.0 554.0h7v7h-7zM154.0 556.0h1v3h-1zM149.0 561.0h3v1h-3zM146.0 557.0h9v1h-9zM150.0 553.0h1v9h-1zM148.0 554.0h7v7h-7zM155.0 556.0h1v3h-1zM150.0 561.0h3v1h-3zM147.0 557.0h9v1h-9zM151.0 553.0h1v9h-1zM148.0 559.0h7v7h-7zM155.0 561.0h1v3h-1zM150.0 566.0h3v1h-3zM147.0 562.0h9v1h-9zM151.0 558.0h1v9h-1zM149.0 560.0h7v7h-7zM156.0 562.0h1v3h-1zM151.0 567.0h3v1h-3zM148.0 563.0h9v1h-9zM152.0 559.0h1v9h-1zM150.0 560.0h7v7h-7zM157.0 562.0h1v3h-1zM152.0 567.0h3v1h-3zM149.0 563.0h9v1h-9zM153.0 559.0h1v9h-1zM150.0 559.0h7v7h-7zM157.0 561.0h1v3h-1zM152.0 566.0h3v1h-3zM149.0 562.0h9v1h-9zM153.0 558.0h1v9h-1zM151.0 547.0h7v7h-7zM158.0 549.0h1v3h-1zM153.0 554.0h3v1h-3zM150.0 550.0h9v1h-9zM154.0 546.0h1v9h-1zM151.0 556.0h7v7h-7zM158.0 558.0h1v3h-1zM153.0 563.0h3v1h-3zM150.0 559.0h9v1h-9zM154.0 555.0h1v9h-1zM152.0 550.0h7v7h-7zM159.0 552.0h1v3h-1zM154.0 557.0h3v1h-3zM151.0 553.0h9v1h-9zM155.0 549.0h1v9h-1zM153.0 561.0h7v7h-7zM160.0 563.0h1v3h-1zM155.0 568.0h3v1h-3zM152.0 564.0h9v1h-9zM156.0 560.0h1v9h-1zM153.0 559.0h7v7h-7zM160.0 561.0h1v3h-1zM155.0 566.0h3v1h-3zM152.0 562.0h9v1h-9zM156.0 558.0h1v9h-1zM154.0 558.0h7v7h-7zM161.0 560.0h1v3h-1zM156.0 565.0h3v1h-3zM153.0 561.0h9v1h-9zM157.0 557.0h1v9h-1zM154.0 543.0h7v7h-7zM161.0 545.0h1v3h-1zM156.0 550.0h3v1h-3zM153.0 546.0h9v1h-9zM157.0 542.0h1v9h-1zM155.0 548.0h7v7h-7zM162.0 550.0h1v3h-1zM157.0 555.0h3v1h-3zM154.0 551.0h9v1h-9zM158.0 547.0h1v9h-1zM155.0 560.0h7v7h-7zM162.0 562.0h1v3h-1zM157.0 567.0h3v1h-3zM154.0 563.0h9v1h-9zM158.0 559.0h1v9h-1zM156.0 550.0h7v7h-7zM163.0 552.0h1v3h-1zM158.0 557.0h3v1h-3zM155.0 553.0h9v1h-9zM159.0 549.0h1v9h-1zM157.0 542.0h7v7h-7zM164.0 544.0h1v3h-1zM159.0 549.0h3v1h-3zM156.0 545.0h9v1h-9zM160.0 541.0h1v9h-1zM157.0 549.0h7v7h-7zM164.0 551.0h1v3h-1zM159.0 556.0h3v1h-3zM156.0 552.0h9v1h-9zM160.0 548.0h1v9h-1zM158.0 547.0h7v7h-7zM165.0 549.0h1v3h-1zM160.0 554.0h3v1h-3zM157.0 550.0h9v1h-9zM161.0 546.0h1v9h-1zM158.0 552.0h7v7h-7zM165.0 554.0h1v3h-1zM160.0 559.0h3v1h-3zM157.0 555.0h9v1h-9zM161.0 551.0h1v9h-1zM159.0 543.0h7v7h-7zM166.0 545.0h1v3h-1zM161.0 550.0h3v1h-3zM158.0 546.0h9v1h-9zM162.0 542.0h1v9h-1zM160.0 542.0h7v7h-7zM167.0 544.0h1v3h-1zM162.0 549.0h3v1h-3zM159.0 545.0h9v1h-9zM163.0 541.0h1v9h-1zM160.0 555.0h7v7h-7zM167.0 557.0h1v3h-1zM162.0 562.0h3v1h-3zM159.0 558.0h9v1h-9zM163.0 554.0h1v9h-1zM161.0 551.0h7v7h-7zM168.0 553.0h1v3h-1zM163.0 558.0h3v1h-3zM160.0 554.0h9v1h-9zM164.0 550.0h1v9h-1zM161.0 562.0h7v7h-7zM168.0 564.0h1v3h-1zM163.0 569.0h3v1h-3zM160.0 565.0h9v1h-9zM164.0 561.0h1v9h-1zM162.0 546.0h7v7h-7zM169.0 548.0h1v3h-1zM164.0 553.0h3v1h-3zM161.0 549.0h9v1h-9zM165.0 545.0h1v9h-1zM163.0 548.0h7v7h-7zM170.0 550.0h1v3h-1zM165.0 555.0h3v1h-3zM162.0 551.0h9v1h-9zM166.0 547.0h1v9h-1zM163.0 555.0h7v7h-7zM170.0 557.0h1v3h-1zM165.0 562.0h3v1h-3zM162.0 558.0h9v1h-9zM166.0 554.0h1v9h-1zM164.0 547.0h7v7h-7zM171.0 549.0h1v3h-1zM166.0 554.0h3v1h-3zM163.0 550.0h9v1h-9zM167.0 546.0h1v9h-1zM164.0 548.0h7v7h-7zM171.0 550.0h1v3h-1zM166.0 555.0h3v1h-3zM163.0 551.0h9v1h-9zM167.0 547.0h1v9h-1zM165.0 544.0h7v7h-7zM172.0 546.0h1v3h-1zM167.0 551.0h3v1h-3zM164.0 547.0h9v1h-9zM168.0 543.0h1v9h-1zM166.0 546.0h7v7h-7zM173.0 548.0h1v3h-1zM168.0 553.0h3v1h-3zM165.0 549.0h9v1h-9zM169.0 545.0h1v9h-1zM166.0 549.0h7v7h-7zM173.0 551.0h1v3h-1zM168.0 556.0h3v1h-3zM165.0 552.0h9v1h-9zM169.0 548.0h1v9h-1zM167.0 559.0h7v7h-7zM174.0 561.0h1v3h-1zM169.0 566.0h3v1h-3zM166.0 562.0h9v1h-9zM170.0 558.0h1v9h-1zM167.0 543.0h7v7h-7zM174.0 545.0h1v3h-1zM169.0 550.0h3v1h-3zM166.0 546.0h9v1h-9zM170.0 542.0h1v9h-1zM168.0 547.0h7v7h-7zM175.0 549.0h1v3h-1zM170.0 554.0h3v1h-3zM167.0 550.0h9v1h-9zM171.0 546.0h1v9h-1zM169.0 558.0h7v7h-7zM176.0 560.0h1v3h-1zM171.0 565.0h3v1h-3zM168.0 561.0h9v1h-9zM172.0 557.0h1v9h-1zM169.0 549.0h7v7h-7zM176.0 551.0h1v3h-1zM171.0 556.0h3v1h-3zM168.0 552.0h9v1h-9zM172.0 548.0h1v9h-1zM170.0 554.0h7v7h-7zM177.0 556.0h1v3h-1zM172.0 561.0h3v1h-3zM169.0 557.0h9v1h-9zM173.0 553.0h1v9h-1zM170.0 545.0h7v7h-7zM177.0 547.0h1v3h-1zM172.0 552.0h3v1h-3zM169.0 548.0h9v1h-9zM173.0 544.0h1v9h-1zM171.0 548.0h7v7h-7zM178.0 550.0h1v3h-1zM173.0 555.0h3v1h-3zM170.0 551.0h9v1h-9zM174.0 547.0h1v9h-1zM172.0 557.0h7v7h-7zM179.0 559.0h1v3h-1zM174.0 564.0h3v1h-3zM171.0 560.0h9v1h-9zM175.0 556.0h1v9h-1zM172.0 544.0h7v7h-7zM179.0 546.0h1v3h-1zM174.0 551.0h3v1h-3zM171.0 547.0h9v1h-9zM175.0 543.0h1v9h-1zM173.0 551.0h7v7h-7zM180.0 553.0h1v3h-1zM175.0 558.0h3v1h-3zM172.0 554.0h9v1h-9zM176.0 550.0h1v9h-1zM173.0 547.0h7v7h-7zM180.0 549.0h1v3h-1zM175.0 554.0h3v1h-3zM172.0 550.0h9v1h-9zM176.0 546.0h1v9h-1zM174.0 542.0h7v7h-7zM181.0 544.0h1v3h-1zM176.0 549.0h3v1h-3zM173.0 545.0h9v1h-9zM177.0 541.0h1v9h-1zM175.0 543.0h7v7h-7zM182.0 545.0h1v3h-1zM177.0 550.0h3v1h-3zM174.0 546.0h9v1h-9zM178.0 542.0h1v9h-1zM175.0 554.0h7v7h-7zM182.0 556.0h1v3h-1zM177.0 561.0h3v1h-3zM174.0 557.0h9v1h-9zM178.0 553.0h1v9h-1zM176.0 540.0h7v7h-7zM183.0 542.0h1v3h-1zM178.0 547.0h3v1h-3zM175.0 543.0h9v1h-9zM179.0 539.0h1v9h-1zM176.0 542.0h7v7h-7zM183.0 544.0h1v3h-1zM178.0 549.0h3v1h-3zM175.0 545.0h9v1h-9zM179.0 541.0h1v9h-1zM177.0 547.0h7v7h-7zM184.0 549.0h1v3h-1zM179.0 554.0h3v1h-3zM176.0 550.0h9v1h-9zM180.0 546.0h1v9h-1zM178.0 547.0h7v7h-7zM185.0 549.0h1v3h-1zM180.0 554.0h3v1h-3zM177.0 550.0h9v1h-9zM181.0 546.0h1v9h-1zM178.0 552.0h7v7h-7zM185.0 554.0h1v3h-1zM180.0 559.0h3v1h-3zM177.0 555.0h9v1h-9zM181.0 551.0h1v9h-1zM179.0 559.0h7v7h-7zM186.0 561.0h1v3h-1zM181.0 566.0h3v1h-3zM178.0 562.0h9v1h-9zM182.0 558.0h1v9h-1zM179.0 546.0h7v7h-7zM186.0 548.0h1v3h-1zM181.0 553.0h3v1h-3zM178.0 549.0h9v1h-9zM182.0 545.0h1v9h-1zM180.0 546.0h7v7h-7zM187.0 548.0h1v3h-1zM182.0 553.0h3v1h-3zM179.0 549.0h9v1h-9zM183.0 545.0h1v9h-1zM180.0 543.0h7v7h-7zM187.0 545.0h1v3h-1zM182.0 550.0h3v1h-3zM179.0 546.0h9v1h-9zM183.0 542.0h1v9h-1zM181.0 553.0h7v7h-7zM188.0 555.0h1v3h-1zM183.0 560.0h3v1h-3zM180.0 556.0h9v1h-9zM184.0 552.0h1v9h-1zM182.0 559.0h7v7h-7zM189.0 561.0h1v3h-1zM184.0 566.0h3v1h-3zM181.0 562.0h9v1h-9zM185.0 558.0h1v9h-1zM182.0 542.0h7v7h-7zM189.0 544.0h1v3h-1zM184.0 549.0h3v1h-3zM181.0 545.0h9v1h-9zM185.0 541.0h1v9h-1zM183.0 554.0h7v7h-7zM190.0 556.0h1v3h-1zM185.0 561.0h3v1h-3zM182.0 557.0h9v1h-9zM186.0 553.0h1v9h-1zM183.0 550.0h7v7h-7zM190.0 552.0h1v3h-1zM185.0 557.0h3v1h-3zM182.0 553.0h9v1h-9zM186.0 549.0h1v9h-1zM184.0 560.0h7v7h-7zM191.0 562.0h1v3h-1zM186.0 567.0h3v1h-3zM183.0 563.0h9v1h-9zM187.0 559.0h1v9h-1zM185.0 560.0h7v7h-7zM192.0 562.0h1v3h-1zM187.0 567.0h3v1h-3zM184.0 563.0h9v1h-9zM188.0 559.0h1v9h-1zM185.0 547.0h7v7h-7zM192.0 549.0h1v3h-1zM187.0 554.0h3v1h-3zM184.0 550.0h9v1h-9zM188.0 546.0h1v9h-1zM186.0 548.0h7v7h-7zM193.0 550.0h1v3h-1zM188.0 555.0h3v1h-3zM185.0 551.0h9v1h-9zM189.0 547.0h1v9h-1zM186.0 545.0h7v7h-7zM193.0 547.0h1v3h-1zM188.0 552.0h3v1h-3zM185.0 548.0h9v1h-9zM189.0 544.0h1v9h-1zM187.0 542.0h7v7h-7zM194.0 544.0h1v3h-1zM189.0 549.0h3v1h-3zM186.0 545.0h9v1h-9zM190.0 541.0h1v9h-1zM188.0 560.0h7v7h-7zM195.0 562.0h1v3h-1zM190.0 567.0h3v1h-3zM187.0 563.0h9v1h-9zM191.0 559.0h1v9h-1zM188.0 552.0h7v7h-7zM195.0 554.0h1v3h-1zM190.0 559.0h3v1h-3zM187.0 555.0h9v1h-9zM191.0 551.0h1v9h-1zM189.0 546.0h7v7h-7zM196.0 548.0h1v3h-1zM191.0 553.0h3v1h-3zM188.0 549.0h9v1h-9zM192.0 545.0h1v9h-1zM189.0 559.0h7v7h-7zM196.0 561.0h1v3h-1zM191.0 566.0h3v1h-3zM188.0 562.0h9v1h-9zM192.0 558.0h1v9h-1zM190.0 554.0h7v7h-7zM197.0 556.0h1v3h-1zM192.0 561.0h3v1h-3zM189.0 557.0h9v1h-9zM193.0 553.0h1v9h-1zM191.0 548.0h7v7h-7zM198.0 550.0h1v3h-1zM193.0 555.0h3v1h-3zM190.0 551.0h9v1h-9zM194.0 547.0h1v9h-1zM191.0 539.0h7v7h-7zM198.0 541.0h1v3h-1zM193.0 546.0h3v1h-3zM190.0 542.0h9v1h-9zM194.0 538.0h1v9h-1zM192.0 550.0h7v7h-7zM199.0 552.0h1v3h-1zM194.0 557.0h3v1h-3zM191.0 553.0h9v1h-9zM195.0 549.0h1v9h-1zM192.0 551.0h7v7h-7zM199.0 553.0h1v3h-1zM194.0 558.0h3v1h-3zM191.0 554.0h9v1h-9zM195.0 550.0h1v9h-1zM193.0 553.0h7v7h-7zM200.0 555.0h1v3h-1zM195.0 560.0h3v1h-3zM192.0 556.0h9v1h-9zM196.0 552.0h1v9h-1zM194.0 544.0h7v7h-7zM201.0 546.0h1v3h-1zM196.0 551.0h3v1h-3zM193.0 547.0h9v1h-9zM197.0 543.0h1v9h-1zM194.0 557.0h7v7h-7zM201.0 559.0h1v3h-1zM196.0 564.0h3v1h-3zM193.0 560.0h9v1h-9zM197.0 556.0h1v9h-1zM195.0 544.0h7v7h-7zM202.0 546.0h1v3h-1zM197.0 551.0h3v1h-3zM194.0 547.0h9v1h-9zM198.0 543.0h1v9h-1zM195.0 558.0h7v7h-7zM202.0 560.0h1v3h-1zM197.0 565.0h3v1h-3zM194.0 561.0h9v1h-9zM198.0 557.0h1v9h-1zM196.0 547.0h7v7h-7zM203.0 549.0h1v3h-1zM198.0 554.0h3v1h-3zM195.0 550.0h9v1h-9zM199.0 546.0h1v9h-1zM197.0 555.0h7v7h-7zM204.0 557.0h1v3h-1zM199.0 562.0h3v1h-3zM196.0 558.0h9v1h-9zM200.0 554.0h1v9h-1zM197.0 560.0h7v7h-7zM204.0 562.0h1v3h-1zM199.0 567.0h3v1h-3zM196.0 563.0h9v1h-9zM200.0 559.0h1v9h-1zM198.0 543.0h7v7h-7zM205.0 545.0h1v3h-1zM200.0 550.0h3v1h-3zM197.0 546.0h9v1h-9zM201.0 542.0h1v9h-1zM198.0 544.0h7v7h-7zM205.0 546.0h1v3h-1zM200.0 551.0h3v1h-3zM197.0 547.0h9v1h-9zM201.0 543.0h1v9h-1zM199.0 558.0h7v7h-7zM206.0 560.0h1v3h-1zM201.0 565.0h3v1h-3zM198.0 561.0h9v1h-9zM202.0 557.0h1v9h-1zM200.0 553.0h7v7h-7zM207.0 555.0h1v3h-1zM202.0 560.0h3v1h-3zM199.0 556.0h9v1h-9zM203.0 552.0h1v9h-1zM200.0 551.0h7v7h-7zM207.0 553.0h1v3h-1zM202.0 558.0h3v1h-3zM199.0 554.0h9v1h-9zM203.0 550.0h1v9h-1zM201.0 543.0h7v7h-7zM208.0 545.0h1v3h-1zM203.0 550.0h3v1h-3zM200.0 546.0h9v1h-9zM204.0 542.0h1v9h-1zM201.0 544.0h7v7h-7zM208.0 546.0h1v3h-1zM203.0 551.0h3v1h-3zM200.0 547.0h9v1h-9zM204.0 543.0h1v9h-1zM202.0 547.0h7v7h-7zM209.0 549.0h1v3h-1zM204.0 554.0h3v1h-3zM201.0 550.0h9v1h-9zM205.0 546.0h1v9h-1zM203.0 546.0h7v7h-7zM210.0 548.0h1v3h-1zM205.0 553.0h3v1h-3zM202.0 549.0h9v1h-9zM206.0 545.0h1v9h-1zM203.0 537.0h7v7h-7zM210.0 539.0h1v3h-1zM205.0 544.0h3v1h-3zM202.0 540.0h9v1h-9zM206.0 536.0h1v9h-1zM204.0 559.0h7v7h-7zM211.0 561.0h1v3h-1zM206.0 566.0h3v1h-3zM203.0 562.0h9v1h-9zM207.0 558.0h1v9h-1zM204.0 545.0h7v7h-7zM211.0 547.0h1v3h-1zM206.0 552.0h3v1h-3zM203.0 548.0h9v1h-9zM207.0 544.0h1v9h-1zM205.0 544.0h7v7h-7zM212.0 546.0h1v3h-1zM207.0 551.0h3v1h-3zM204.0 547.0h9v1h-9zM208.0 543.0h1v9h-1zM206.0 547.0h7v7h-7zM213.0 549.0h1v3h-1zM208.0 554.0h3v1h-3zM205.0 550.0h9v1h-9zM209.0 546.0h1v9h-1zM206.0 558.0h7v7h-7zM213.0 560.0h1v3h-1zM208.0 565.0h3v1h-3zM205.0 561.0h9v1h-9zM209.0 557.0h1v9h-1zM207.0 550.0h7v7h-7zM214.0 552.0h1v3h-1zM209.0 557.0h3v1h-3zM206.0 553.0h9v1h-9zM210.0 549.0h1v9h-1zM207.0 557.0h7v7h-7zM214.0 559.0h1v3h-1zM209.0 564.0h3v1h-3zM206.0 560.0h9v1h-9zM210.0 556.0h1v9h-1zM208.0 552.0h7v7h-7zM215.0 554.0h1v3h-1zM210.0 559.0h3v1h-3zM207.0 555.0h9v1h-9zM211.0 551.0h1v9h-1zM208.0 544.0h7v7h-7zM215.0 546.0h1v3h-1zM210.0 551.0h3v1h-3zM207.0 547.0h9v1h-9zM211.0 543.0h1v9h-1zM209.0 552.0h7v7h-7zM216.0 554.0h1v3h-1zM211.0 559.0h3v1h-3zM208.0 555.0h9v1h-9zM212.0 551.0h1v9h-1zM210.0 550.0h7v7h-7zM217.0 552.0h1v3h-1zM212.0 557.0h3v1h-3zM209.0 553.0h9v1h-9zM213.0 549.0h1v9h-1zM210.0 547.0h7v7h-7zM217.0 549.0h1v3h-1zM212.0 554.0h3v1h-3zM209.0 550.0h9v1h-9zM213.0 546.0h1v9h-1zM211.0 553.0h7v7h-7zM218.0 555.0h1v3h-1zM213.0 560.0h3v1h-3zM210.0 556.0h9v1h-9zM214.0 552.0h1v9h-1zM211.0 548.0h7v7h-7zM218.0 550.0h1v3h-1zM213.0 555.0h3v1h-3zM210.0 551.0h9v1h-9zM214.0 547.0h1v9h-1zM212.0 548.0h7v7h-7zM219.0 550.0h1v3h-1zM214.0 555.0h3v1h-3zM211.0 551.0h9v1h-9zM215.0 547.0h1v9h-1zM213.0 557.0h7v7h-7zM220.0 559.0h1v3h-1zM215.0 564.0h3v1h-3zM212.0 560.0h9v1h-9zM216.0 556.0h1v9h-1zM213.0 559.0h7v7h-7zM220.0 561.0h1v3h-1zM215.0 566.0h3v1h-3zM212.0 562.0h9v1h-9zM216.0 558.0h1v9h-1zM214.0 558.0h7v7h-7zM221.0 560.0h1v3h-1zM216.0 565.0h3v1h-3zM213.0 561.0h9v1h-9zM217.0 557.0h1v9h-1zM214.0 550.0h7v7h-7zM221.0 552.0h1v3h-1zM216.0 557.0h3v1h-3zM213.0 553.0h9v1h-9zM217.0 549.0h1v9h-1zM215.0 559.0h7v7h-7zM222.0 561.0h1v3h-1zM217.0 566.0h3v1h-3zM214.0 562.0h9v1h-9zM218.0 558.0h1v9h-1zM216.0 547.0h7v7h-7zM223.0 549.0h1v3h-1zM218.0 554.0h3v1h-3zM215.0 550.0h9v1h-9zM219.0 546.0h1v9h-1zM216.0 545.0h7v7h-7zM223.0 547.0h1v3h-1zM218.0 552.0h3v1h-3zM215.0 548.0h9v1h-9zM219.0 544.0h1v9h-1zM217.0 543.0h7v7h-7zM224.0 545.0h1v3h-1zM219.0 550.0h3v1h-3zM216.0 546.0h9v1h-9zM220.0 542.0h1v9h-1zM217.0 555.0h7v7h-7zM224.0 557.0h1v3h-1zM219.0 562.0h3v1h-3zM216.0 558.0h9v1h-9zM220.0 554.0h1v9h-1zM218.0 557.0h7v7h-7zM225.0 559.0h1v3h-1zM220.0 564.0h3v1h-3zM217.0 560.0h9v1h-9zM221.0 556.0h1v9h-1zM219.0 554.0h7v7h-7zM226.0 556.0h1v3h-1zM221.0 561.0h3v1h-3zM218.0 557.0h9v1h-9zM222.0 553.0h1v9h-1zM219.0 549.0h7v7h-7zM226.0 551.0h1v3h-1zM221.0 556.0h3v1h-3zM218.0 552.0h9v1h-9zM222.0 548.0h1v9h-1zM220.0 553.0h7v7h-7zM227.0 555.0h1v3h-1zM222.0 560.0h3v1h-3zM219.0 556.0h9v1h-9zM223.0 552.0h1v9h-1zM220.0 544.0h7v7h-7zM227.0 546.0h1v3h-1zM222.0 551.0h3v1h-3zM219.0 547.0h9v1h-9zM223.0 543.0h1v9h-1zM221.0 550.0h7v7h-7zM228.0 552.0h1v3h-1zM223.0 557.0h3v1h-3zM220.0 553.0h9v1h-9zM224.0 549.0h1v9h-1zM222.0 551.0h7v7h-7zM229.0 553.0h1v3h-1zM224.0 558.0h3v1h-3zM221.0 554.0h9v1h-9zM225.0 550.0h1v9h-1zM222.0 548.0h7v7h-7zM229.0 550.0h1v3h-1zM224.0 555.0h3v1h-3zM221.0 551.0h9v1h-9zM225.0 547.0h1v9h-1zM223.0 550.0h7v7h-7zM230.0 552.0h1v3h-1zM225.0 557.0h3v1h-3zM222.0 553.0h9v1h-9zM226.0 549.0h1v9h-1zM223.0 551.0h7v7h-7zM230.0 553.0h1v3h-1zM225.0 558.0h3v1h-3zM222.0 554.0h9v1h-9zM226.0 550.0h1v9h-1zM224.0 542.0h7v7h-7zM231.0 544.0h1v3h-1zM226.0 549.0h3v1h-3zM223.0 545.0h9v1h-9zM227.0 541.0h1v9h-1zM225.0 558.0h7v7h-7zM232.0 560.0h1v3h-1zM227.0 565.0h3v1h-3zM224.0 561.0h9v1h-9zM228.0 557.0h1v9h-1zM225.0 547.0h7v7h-7zM232.0 549.0h1v3h-1zM227.0 554.0h3v1h-3zM224.0 550.0h9v1h-9zM228.0 546.0h1v9h-1zM226.0 558.0h7v7h-7zM233.0 560.0h1v3h-1zM228.0 565.0h3v1h-3zM225.0 561.0h9v1h-9zM229.0 557.0h1v9h-1zM226.0 559.0h7v7h-7zM233.0 561.0h1v3h-1zM228.0 566.0h3v1h-3zM225.0 562.0h9v1h-9zM229.0 558.0h1v9h-1zM227.0 550.0h7v7h-7zM234.0 552.0h1v3h-1zM229.0 557.0h3v1h-3zM226.0 553.0h9v1h-9zM230.0 549.0h1v9h-1zM228.0 542.0h7v7h-7zM235.0 544.0h1v3h-1zM230.0 549.0h3v1h-3zM227.0 545.0h9v1h-9zM231.0 541.0h1v9h-1zM228.0 557.0h7v7h-7zM235.0 559.0h1v3h-1zM230.0 564.0h3v1h-3zM227.0 560.0h9v1h-9zM231.0 556.0h1v9h-1zM229.0 547.0h7v7h-7zM236.0 549.0h1v3h-1zM231.0 554.0h3v1h-3zM228.0 550.0h9v1h-9zM232.0 546.0h1v9h-1zM229.0 553.0h7v7h-7zM236.0 555.0h1v3h-1zM231.0 560.0h3v1h-3zM228.0 556.0h9v1h-9zM232.0 552.0h1v9h-1zM230.0 543.0h7v7h-7zM237.0 545.0h1v3h-1zM232.0 550.0h3v1h-3zM229.0 546.0h9v1h-9zM233.0 542.0h1v9h-1zM231.0 546.0h7v7h-7zM238.0 548.0h1v3h-1zM233.0 553.0h3v1h-3zM230.0 549.0h9v1h-9zM234.0 545.0h1v9h-1zM231.0 557.0h7v7h-7zM238.0 559.0h1v3h-1zM233.0 564.0h3v1h-3zM230.0 560.0h9v1h-9zM234.0 556.0h1v9h-1zM232.0 555.0h7v7h-7zM239.0 557.0h1v3h-1zM234.0 562.0h3v1h-3zM231.0 558.0h9v1h-9zM235.0 554.0h1v9h-1zM232.0 549.0h7v7h-7zM239.0 551.0h1v3h-1zM234.0 556.0h3v1h-3zM231.0 552.0h9v1h-9zM235.0 548.0h1v9h-1zM233.0 541.0h7v7h-7zM240.0 543.0h1v3h-1zM235.0 548.0h3v1h-3zM232.0 544.0h9v1h-9zM236.0 540.0h1v9h-1zM233.0 542.0h7v7h-7zM240.0 544.0h1v3h-1zM235.0 549.0h3v1h-3zM232.0 545.0h9v1h-9zM236.0 541.0h1v9h-1zM234.0 548.0h7v7h-7zM241.0 550.0h1v3h-1zM236.0 555.0h3v1h-3zM233.0 551.0h9v1h-9zM237.0 547.0h1v9h-1zM235.0 543.0h7v7h-7zM242.0 545.0h1v3h-1zM237.0 550.0h3v1h-3zM234.0 546.0h9v1h-9zM238.0 542.0h1v9h-1zM235.0 544.0h7v7h-7zM242.0 546.0h1v3h-1zM237.0 551.0h3v1h-3zM234.0 547.0h9v1h-9zM238.0 543.0h1v9h-1zM236.0 556.0h7v7h-7zM243.0 558.0h1v3h-1zM238.0 563.0h3v1h-3zM235.0 559.0h9v1h-9zM239.0 555.0h1v9h-1zM236.0 547.0h7v7h-7zM243.0 549.0h1v3h-1zM238.0 554.0h3v1h-3zM235.0 550.0h9v1h-9zM239.0 546.0h1v9h-1zM237.0 542.0h7v7h-7zM244.0 544.0h1v3h-1zM239.0 549.0h3v1h-3zM236.0 545.0h9v1h-9zM240.0 541.0h1v9h-1zM238.0 560.0h7v7h-7zM245.0 562.0h1v3h-1zM240.0 567.0h3v1h-3zM237.0 563.0h9v1h-9zM241.0 559.0h1v9h-1zM238.0 552.0h7v7h-7zM245.0 554.0h1v3h-1zM240.0 559.0h3v1h-3zM237.0 555.0h9v1h-9zM241.0 551.0h1v9h-1zM239.0 545.0h7v7h-7zM246.0 547.0h1v3h-1zM241.0 552.0h3v1h-3zM238.0 548.0h9v1h-9zM242.0 544.0h1v9h-1zM239.0 544.0h7v7h-7zM246.0 546.0h1v3h-1zM241.0 551.0h3v1h-3zM238.0 547.0h9v1h-9zM242.0 543.0h1v9h-1zM240.0 551.0h7v7h-7zM247.0 553.0h1v3h-1zM242.0 558.0h3v1h-3zM239.0 554.0h9v1h-9zM243.0 550.0h1v9h-1zM241.0 562.0h7v7h-7zM248.0 564.0h1v3h-1zM243.0 569.0h3v1h-3zM240.0 565.0h9v1h-9zM244.0 561.0h1v9h-1zM241.0 544.0h7v7h-7zM248.0 546.0h1v3h-1zM243.0 551.0h3v1h-3zM240.0 547.0h9v1h-9zM244.0 543.0h1v9h-1zM242.0 562.0h7v7h-7zM249.0 564.0h1v3h-1zM244.0 569.0h3v1h-3zM241.0 565.0h9v1h-9zM245.0 561.0h1v9h-1zM242.0 551.0h7v7h-7zM249.0 553.0h1v3h-1zM244.0 558.0h3v1h-3zM241.0 554.0h9v1h-9zM245.0 550.0h1v9h-1zM243.0 548.0h7v7h-7zM250.0 550.0h1v3h-1zM245.0 555.0h3v1h-3zM242.0 551.0h9v1h-9zM246.0 547.0h1v9h-1zM244.0 554.0h7v7h-7zM251.0 556.0h1v3h-1zM246.0 561.0h3v1h-3zM243.0 557.0h9v1h-9zM247.0 553.0h1v9h-1zM244.0 544.0h7v7h-7zM251.0 546.0h1v3h-1zM246.0 551.0h3v1h-3zM243.0 547.0h9v1h-9zM247.0 543.0h1v9h-1zM245.0 543.0h7v7h-7zM252.0 545.0h1v3h-1zM247.0 550.0h3v1h-3zM244.0 546.0h9v1h-9zM248.0 542.0h1v9h-1zM245.0 560.0h7v7h-7zM252.0 562.0h1v3h-1zM247.0 567.0h3v1h-3zM244.0 563.0h9v1h-9zM248.0 559.0h1v9h-1zM246.0 554.0h7v7h-7zM253.0 556.0h1v3h-1zM248.0 561.0h3v1h-3zM245.0 557.0h9v1h-9zM249.0 553.0h1v9h-1zM247.0 546.0h7v7h-7zM254.0 548.0h1v3h-1zM249.0 553.0h3v1h-3zM246.0 549.0h9v1h-9zM250.0 545.0h1v9h-1zM247.0 550.0h7v7h-7zM254.0 552.0h1v3h-1zM249.0 557.0h3v1h-3zM246.0 553.0h9v1h-9zM250.0 549.0h1v9h-1zM248.0 560.0h7v7h-7zM255.0 562.0h1v3h-1zM250.0 567.0h3v1h-3zM247.0 563.0h9v1h-9zM251.0 559.0h1v9h-1zM248.0 558.0h7v7h-7zM255.0 560.0h1v3h-1zM250.0 565.0h3v1h-3zM247.0 561.0h9v1h-9zM251.0 557.0h1v9h-1zM249.0 552.0h7v7h-7zM256.0 554.0h1v3h-1zM251.0 559.0h3v1h-3zM248.0 555.0h9v1h-9zM252.0 551.0h1v9h-1zM250.0 555.0h7v7h-7zM257.0 557.0h1v3h-1zM252.0 562.0h3v1h-3zM249.0 558.0h9v1h-9zM253.0 554.0h1v9h-1zM250.0 545.0h7v7h-7zM257.0 547.0h1v3h-1zM252.0 552.0h3v1h-3zM249.0 548.0h9v1h-9zM253.0 544.0h1v9h-1zM251.0 559.0h7v7h-7zM258.0 561.0h1v3h-1zM253.0 566.0h3v1h-3zM250.0 562.0h9v1h-9zM254.0 558.0h1v9h-1zM251.0 550.0h7v7h-7zM258.0 552.0h1v3h-1zM253.0 557.0h3v1h-3zM250.0 553.0h9v1h-9zM254.0 549.0h1v9h-1zM252.0 554.0h7v7h-7zM259.0 556.0h1v3h-1zM254.0 561.0h3v1h-3zM251.0 557.0h9v1h-9zM255.0 553.0h1v9h-1zM253.0 553.0h7v7h-7zM260.0 555.0h1v3h-1zM255.0 560.0h3v1h-3zM252.0 556.0h9v1h-9zM256.0 552.0h1v9h-1zM253.0 546.0h7v7h-7zM260.0 548.0h1v3h-1zM255.0 553.0h3v1h-3zM252.0 549.0h9v1h-9zM256.0 545.0h1v9h-1zM254.0 544.0h7v7h-7zM261.0 546.0h1v3h-1zM256.0 551.0h3v1h-3zM253.0 547.0h9v1h-9zM257.0 543.0h1v9h-1zM254.0 546.0h7v7h-7zM261.0 548.0h1v3h-1zM256.0 553.0h3v1h-3zM253.0 549.0h9v1h-9zM257.0 545.0h1v9h-1zM255.0 546.0h7v7h-7zM262.0 548.0h1v3h-1zM257.0 553.0h3v1h-3zM254.0 549.0h9v1h-9zM258.0 545.0h1v9h-1zM256.0 557.0h7v7h-7zM263.0 559.0h1v3h-1zM258.0 564.0h3v1h-3zM255.0 560.0h9v1h-9zM259.0 556.0h1v9h-1zM256.0 547.0h7v7h-7zM263.0 549.0h1v3h-1zM258.0 554.0h3v1h-3zM255.0 550.0h9v1h-9zM259.0 546.0h1v9h-1zM257.0 554.0h7v7h-7zM264.0 556.0h1v3h-1zM259.0 561.0h3v1h-3zM256.0 557.0h9v1h-9zM260.0 553.0h1v9h-1zM257.0 545.0h7v7h-7zM264.0 547.0h1v3h-1zM259.0 552.0h3v1h-3zM256.0 548.0h9v1h-9zM260.0 544.0h1v9h-1zM258.0 554.0h7v7h-7zM265.0 556.0h1v3h-1zM260.0 561.0h3v1h-3zM257.0 557.0h9v1h-9zM261.0 553.0h1v9h-1zM259.0 543.0h7v7h-7zM266.0 545.0h1v3h-1zM261.0 550.0h3v1h-3zM258.0 546.0h9v1h-9zM262.0 542.0h1v9h-1zM259.0 545.0h7v7h-7zM266.0 547.0h1v3h-1zM261.0 552.0h3v1h-3zM258.0 548.0h9v1h-9zM262.0 544.0h1v9h-1zM260.0 552.0h7v7h-7zM267.0 554.0h1v3h-1zM262.0 559.0h3v1h-3zM259.0 555.0h9v1h-9zM263.0 551.0h1v9h-1zM260.0 555.0h7v7h-7zM267.0 557.0h1v3h-1zM262.0 562.0h3v1h-3zM259.0 558.0h9v1h-9zM263.0 554.0h1v9h-1zM261.0 548.0h7v7h-7zM268.0 550.0h1v3h-1zM263.0 555.0h3v1h-3zM260.0 551.0h9v1h-9zM264.0 547.0h1v9h-1zM261.0 551.0h7v7h-7zM268.0 553.0h1v3h-1zM263.0 558.0h3v1h-3zM260.0 554.0h9v1h-9zM264.0 550.0h1v9h-1zM262.0 543.0h7v7h-7zM269.0 545.0h1v3h-1zM264.0 550.0h3v1h-3zM261.0 546.0h9v1h-9zM265.0 542.0h1v9h-1zM263.0 559.0h7v7h-7zM270.0 561.0h1v3h-1zM265.0 566.0h3v1h-3zM262.0 562.0h9v1h-9zM266.0 558.0h1v9h-1zM263.0 552.0h7v7h-7zM270.0 554.0h1v3h-1zM265.0 559.0h3v1h-3zM262.0 555.0h9v1h-9zM266.0 551.0h1v9h-1zM264.0 546.0h7v7h-7zM271.0 548.0h1v3h-1zM266.0 553.0h3v1h-3zM263.0 549.0h9v1h-9zM267.0 545.0h1v9h-1zM264.0 552.0h7v7h-7zM271.0 554.0h1v3h-1zM266.0 559.0h3v1h-3zM263.0 555.0h9v1h-9zM267.0 551.0h1v9h-1zM265.0 545.0h7v7h-7zM272.0 547.0h1v3h-1zM267.0 552.0h3v1h-3zM264.0 548.0h9v1h-9zM268.0 544.0h1v9h-1zM266.0 550.0h7v7h-7zM273.0 552.0h1v3h-1zM268.0 557.0h3v1h-3zM265.0 553.0h9v1h-9zM269.0 549.0h1v9h-1zM266.0 543.0h7v7h-7zM273.0 545.0h1v3h-1zM268.0 550.0h3v1h-3zM265.0 546.0h9v1h-9zM269.0 542.0h1v9h-1zM267.0 557.0h7v7h-7zM274.0 559.0h1v3h-1zM269.0 564.0h3v1h-3zM266.0 560.0h9v1h-9zM270.0 556.0h1v9h-1zM267.0 554.0h7v7h-7zM274.0 556.0h1v3h-1zM269.0 561.0h3v1h-3zM266.0 557.0h9v1h-9zM270.0 553.0h1v9h-1zM268.0 549.0h7v7h-7zM275.0 551.0h1v3h-1zM270.0 556.0h3v1h-3zM267.0 552.0h9v1h-9zM271.0 548.0h1v9h-1zM269.0 562.0h7v7h-7zM276.0 564.0h1v3h-1zM271.0 569.0h3v1h-3zM268.0 565.0h9v1h-9zM272.0 561.0h1v9h-1zM269.0 547.0h7v7h-7zM276.0 549.0h1v3h-1zM271.0 554.0h3v1h-3zM268.0 550.0h9v1h-9zM272.0 546.0h1v9h-1zM270.0 549.0h7v7h-7zM277.0 551.0h1v3h-1zM272.0 556.0h3v1h-3zM269.0 552.0h9v1h-9zM273.0 548.0h1v9h-1zM270.0 551.0h7v7h-7zM277.0 553.0h1v3h-1zM272.0 558.0h3v1h-3zM269.0 554.0h9v1h-9zM273.0 550.0h1v9h-1zM271.0 553.0h7v7h-7zM278.0 555.0h1v3h-1zM273.0 560.0h3v1h-3zM270.0 556.0h9v1h-9zM274.0 552.0h1v9h-1zM272.0 545.0h7v7h-7zM279.0 547.0h1v3h-1zM274.0 552.0h3v1h-3zM271.0 548.0h9v1h-9zM275.0 544.0h1v9h-1zM272.0 558.0h7v7h-7zM279.0 560.0h1v3h-1zM274.0 565.0h3v1h-3zM271.0 561.0h9v1h-9zM275.0 557.0h1v9h-1zM273.0 545.0h7v7h-7zM280.0 547.0h1v3h-1zM275.0 552.0h3v1h-3zM272.0 548.0h9v1h-9zM276.0 544.0h1v9h-1zM273.0 549.0h7v7h-7zM280.0 551.0h1v3h-1zM275.0 556.0h3v1h-3zM272.0 552.0h9v1h-9zM276.0 548.0h1v9h-1zM274.0 558.0h7v7h-7zM281.0 560.0h1v3h-1zM276.0 565.0h3v1h-3zM273.0 561.0h9v1h-9zM277.0 557.0h1v9h-1zM275.0 552.0h7v7h-7zM282.0 554.0h1v3h-1zM277.0 559.0h3v1h-3zM274.0 555.0h9v1h-9zM278.0 551.0h1v9h-1zM275.0 551.0h7v7h-7zM282.0 553.0h1v3h-1zM277.0 558.0h3v1h-3zM274.0 554.0h9v1h-9zM278.0 550.0h1v9h-1zM276.0 552.0h7v7h-7zM283.0 554.0h1v3h-1zM278.0 559.0h3v1h-3zM275.0 555.0h9v1h-9zM279.0 551.0h1v9h-1zM276.0 546.0h7v7h-7zM283.0 548.0h1v3h-1zM278.0 553.0h3v1h-3zM275.0 549.0h9v1h-9zM279.0 545.0h1v9h-1zM277.0 547.0h7v7h-7zM284.0 549.0h1v3h-1zM279.0 554.0h3v1h-3zM276.0 550.0h9v1h-9zM280.0 546.0h1v9h-1zM278.0 559.0h7v7h-7zM285.0 561.0h1v3h-1zM280.0 566.0h3v1h-3zM277.0 562.0h9v1h-9zM281.0 558.0h1v9h-1zM278.0 557.0h7v7h-7zM285.0 559.0h1v3h-1zM280.0 564.0h3v1h-3zM277.0 560.0h9v1h-9zM281.0 556.0h1v9h-1zM279.0 553.0h7v7h-7zM286.0 555.0h1v3h-1zM281.0 560.0h3v1h-3zM278.0 556.0h9v1h-9zM282.0 552.0h1v9h-1zM279.0 551.0h7v7h-7zM286.0 553.0h1v3h-1zM281.0 558.0h3v1h-3zM278.0 554.0h9v1h-9zM282.0 550.0h1v9h-1zM280.0 557.0h7v7h-7zM287.0 559.0h1v3h-1zM282.0 564.0h3v1h-3zM279.0 560.0h9v1h-9zM283.0 556.0h1v9h-1zM281.0 547.0h7v7h-7zM288.0 549.0h1v3h-1zM283.0 554.0h3v1h-3zM280.0 550.0h9v1h-9zM284.0 546.0h1v9h-1zM281.0 547.0h7v7h-7zM288.0 549.0h1v3h-1zM283.0 554.0h3v1h-3zM280.0 550.0h9v1h-9zM284.0 546.0h1v9h-1zM282.0 556.0h7v7h-7zM289.0 558.0h1v3h-1zM284.0 563.0h3v1h-3zM281.0 559.0h9v1h-9zM285.0 555.0h1v9h-1zM282.0 550.0h7v7h-7zM289.0 552.0h1v3h-1zM284.0 557.0h3v1h-3zM281.0 553.0h9v1h-9zM285.0 549.0h1v9h-1zM283.0 557.0h7v7h-7zM290.0 559.0h1v3h-1zM285.0 564.0h3v1h-3zM282.0 560.0h9v1h-9zM286.0 556.0h1v9h-1zM284.0 553.0h7v7h-7zM291.0 555.0h1v3h-1zM286.0 560.0h3v1h-3zM283.0 556.0h9v1h-9zM287.0 552.0h1v9h-1zM284.0 555.0h7v7h-7zM291.0 557.0h1v3h-1zM286.0 562.0h3v1h-3zM283.0 558.0h9v1h-9zM287.0 554.0h1v9h-1zM285.0 542.0h7v7h-7zM292.0 544.0h1v3h-1zM287.0 549.0h3v1h-3zM284.0 545.0h9v1h-9zM288.0 541.0h1v9h-1zM285.0 553.0h7v7h-7zM292.0 555.0h1v3h-1zM287.0 560.0h3v1h-3zM284.0 556.0h9v1h-9zM288.0 552.0h1v9h-1zM286.0 547.0h7v7h-7zM293.0 549.0h1v3h-1zM288.0 554.0h3v1h-3zM285.0 550.0h9v1h-9zM289.0 546.0h1v9h-1zM286.0 553.0h7v7h-7zM293.0 555.0h1v3h-1zM288.0 560.0h3v1h-3zM285.0 556.0h9v1h-9zM289.0 552.0h1v9h-1zM287.0 554.0h7v7h-7zM294.0 556.0h1v3h-1zM289.0 561.0h3v1h-3zM286.0 557.0h9v1h-9zM290.0 553.0h1v9h-1zM288.0 539.0h7v7h-7zM295.0 541.0h1v3h-1zM290.0 546.0h3v1h-3zM287.0 542.0h9v1h-9zM291.0 538.0h1v9h-1zM288.0 558.0h7v7h-7zM295.0 560.0h1v3h-1zM290.0 565.0h3v1h-3zM287.0 561.0h9v1h-9zM291.0 557.0h1v9h-1zM289.0 546.0h7v7h-7zM296.0 548.0h1v3h-1zM291.0 553.0h3v1h-3zM288.0 549.0h9v1h-9zM292.0 545.0h1v9h-1zM289.0 554.0h7v7h-7zM296.0 556.0h1v3h-1zM291.0 561.0h3v1h-3zM288.0 557.0h9v1h-9zM292.0 553.0h1v9h-1zM290.0 548.0h7v7h-7zM297.0 550.0h1v3h-1zM292.0 555.0h3v1h-3zM289.0 551.0h9v1h-9zM293.0 547.0h1v9h-1zM291.0 545.0h7v7h-7zM298.0 547.0h1v3h-1zM293.0 552.0h3v1h-3zM290.0 548.0h9v1h-9zM294.0 544.0h1v9h-1zM291.0 552.0h7v7h-7zM298.0 554.0h1v3h-1zM293.0 559.0h3v1h-3zM290.0 555.0h9v1h-9zM294.0 551.0h1v9h-1zM292.0 547.0h7v7h-7zM299.0 549.0h1v3h-1zM294.0 554.0h3v1h-3zM291.0 550.0h9v1h-9zM295.0 546.0h1v9h-1zM292.0 551.0h7v7h-7zM299.0 553.0h1v3h-1zM294.0 558.0h3v1h-3zM291.0 554.0h9v1h-9zM295.0 550.0h1v9h-1zM293.0 543.0h7v7h-7zM300.0 545.0h1v3h-1zM295.0 550.0h3v1h-3zM292.0 546.0h9v1h-9zM296.0 542.0h1v9h-1zM294.0 554.0h7v7h-7zM301.0 556.0h1v3h-1zM296.0 561.0h3v1h-3zM293.0 557.0h9v1h-9zM297.0 553.0h1v9h-1zM294.0 548.0h7v7h-7zM301.0 550.0h1v3h-1zM296.0 555.0h3v1h-3zM293.0 551.0h9v1h-9zM297.0 547.0h1v9h-1zM295.0 543.0h7v7h-7zM302.0 545.0h1v3h-1zM297.0 550.0h3v1h-3zM294.0 546.0h9v1h-9zM298.0 542.0h1v9h-1zM295.0 553.0h7v7h-7zM302.0 555.0h1v3h-1zM297.0 560.0h3v1h-3zM294.0 556.0h9v1h-9zM298.0 552.0h1v9h-1zM296.0 548.0h7v7h-7zM303.0 550.0h1v3h-1zM298.0 555.0h3v1h-3zM295.0 551.0h9v1h-9zM299.0 547.0h1v9h-1zM297.0 559.0h7v7h-7zM304.0 561.0h1v3h-1zM299.0 566.0h3v1h-3zM296.0 562.0h9v1h-9zM300.0 558.0h1v9h-1zM297.0 550.0h7v7h-7zM304.0 552.0h1v3h-1zM299.0 557.0h3v1h-3zM296.0 553.0h9v1h-9zM300.0 549.0h1v9h-1zM298.0 555.0h7v7h-7zM305.0 557.0h1v3h-1zM300.0 562.0h3v1h-3zM297.0 558.0h9v1h-9zM301.0 554.0h1v9h-1zM298.0 548.0h7v7h-7zM305.0 550.0h1v3h-1zM300.0 555.0h3v1h-3zM297.0 551.0h9v1h-9zM301.0 547.0h1v9h-1zM299.0 543.0h7v7h-7zM306.0 545.0h1v3h-1zM301.0 550.0h3v1h-3zM298.0 546.0h9v1h-9zM302.0 542.0h1v9h-1zM300.0 551.0h7v7h-7zM307.0 553.0h1v3h-1zM302.0 558.0h3v1h-3zM299.0 554.0h9v1h-9zM303.0 550.0h1v9h-1zM300.0 548.0h7v7h-7zM307.0 550.0h1v3h-1zM302.0 555.0h3v1h-3zM299.0 551.0h9v1h-9zM303.0 547.0h1v9h-1zM301.0 550.0h7v7h-7zM308.0 552.0h1v3h-1zM303.0 557.0h3v1h-3zM300.0 553.0h9v1h-9zM304.0 549.0h1v9h-1zM301.0 558.0h7v7h-7zM308.0 560.0h1v3h-1zM303.0 565.0h3v1h-3zM300.0 561.0h9v1h-9zM304.0 557.0h1v9h-1zM302.0 557.0h7v7h-7zM309.0 559.0h1v3h-1zM304.0 564.0h3v1h-3zM301.0 560.0h9v1h-9zM305.0 556.0h1v9h-1zM303.0 546.0h7v7h-7zM310.0 548.0h1v3h-1zM305.0 553.0h3v1h-3zM302.0 549.0h9v1h-9zM306.0 545.0h1v9h-1zM303.0 558.0h7v7h-7zM310.0 560.0h1v3h-1zM305.0 565.0h3v1h-3zM302.0 561.0h9v1h-9zM306.0 557.0h1v9h-1zM304.0 560.0h7v7h-7zM311.0 562.0h1v3h-1zM306.0 567.0h3v1h-3zM303.0 563.0h9v1h-9zM307.0 559.0h1v9h-1zM304.0 550.0h7v7h-7zM311.0 552.0h1v3h-1zM306.0 557.0h3v1h-3zM303.0 553.0h9v1h-9zM307.0 549.0h1v9h-1zM305.0 558.0h7v7h-7zM312.0 560.0h1v3h-1zM307.0 565.0h3v1h-3zM304.0 561.0h9v1h-9zM308.0 557.0h1v9h-1zM306.0 558.0h7v7h-7zM313.0 560.0h1v3h-1zM308.0 565.0h3v1h-3zM305.0 561.0h9v1h-9zM309.0 557.0h1v9h-1zM306.0 554.0h7v7h-7zM313.0 556.0h1v3h-1zM308.0 561.0h3v1h-3zM305.0 557.0h9v1h-9zM309.0 553.0h1v9h-1zM307.0 551.0h7v7h-7zM314.0 553.0h1v3h-1zM309.0 558.0h3v1h-3zM306.0 554.0h9v1h-9zM310.0 550.0h1v9h-1zM307.0 555.0h7v7h-7zM314.0 557.0h1v3h-1zM309.0 562.0h3v1h-3zM306.0 558.0h9v1h-9zM310.0 554.0h1v9h-1zM308.0 556.0h7v7h-7zM315.0 558.0h1v3h-1zM310.0 563.0h3v1h-3zM307.0 559.0h9v1h-9zM311.0 555.0h1v9h-1zM309.0 550.0h7v7h-7zM316.0 552.0h1v3h-1zM311.0 557.0h3v1h-3zM308.0 553.0h9v1h-9zM312.0 549.0h1v9h-1zM309.0 544.0h7v7h-7zM316.0 546.0h1v3h-1zM311.0 551.0h3v1h-3zM308.0 547.0h9v1h-9zM312.0 543.0h1v9h-1zM310.0 551.0h7v7h-7zM317.0 553.0h1v3h-1zM312.0 558.0h3v1h-3zM309.0 554.0h9v1h-9zM313.0 550.0h1v9h-1zM310.0 551.0h7v7h-7zM317.0 553.0h1v3h-1zM312.0 558.0h3v1h-3zM309.0 554.0h9v1h-9zM313.0 550.0h1v9h-1zM311.0 556.0h7v7h-7zM318.0 558.0h1v3h-1zM313.0 563.0h3v1h-3zM310.0 559.0h9v1h-9zM314.0 555.0h1v9h-1zM312.0 545.0h7v7h-7zM319.0 547.0h1v3h-1zM314.0 552.0h3v1h-3zM311.0 548.0h9v1h-9zM315.0 544.0h1v9h-1zM312.0 543.0h7v7h-7zM319.0 545.0h1v3h-1zM314.0 550.0h3v1h-3zM311.0 546.0h9v1h-9zM315.0 542.0h1v9h-1zM313.0 554.0h7v7h-7zM320.0 556.0h1v3h-1zM315.0 561.0h3v1h-3zM312.0 557.0h9v1h-9zM316.0 553.0h1v9h-1zM313.0 545.0h7v7h-7zM320.0 547.0h1v3h-1zM315.0 552.0h3v1h-3zM312.0 548.0h9v1h-9zM316.0 544.0h1v9h-1zM314.0 553.0h7v7h-7zM321.0 555.0h1v3h-1zM316.0 560.0h3v1h-3zM313.0 556.0h9v1h-9zM317.0 552.0h1v9h-1zM314.0 551.0h7v7h-7zM321.0 553.0h1v3h-1zM316.0 558.0h3v1h-3zM313.0 554.0h9v1h-9zM317.0 550.0h1v9h-1zM315.0 546.0h7v7h-7zM322.0 548.0h1v3h-1zM317.0 553.0h3v1h-3zM314.0 549.0h9v1h-9zM318.0 545.0h1v9h-1zM316.0 557.0h7v7h-7zM323.0 559.0h1v3h-1zM318.0 564.0h3v1h-3zM315.0 560.0h9v1h-9zM319.0 556.0h1v9h-1zM316.0 554.0h7v7h-7zM323.0 556.0h1v3h-1zM318.0 561.0h3v1h-3zM315.0 557.0h9v1h-9zM319.0 553.0h1v9h-1zM317.0 557.0h7v7h-7zM324.0 559.0h1v3h-1zM319.0 564.0h3v1h-3zM316.0 560.0h9v1h-9zM320.0 556.0h1v9h-1zM317.0 545.0h7v7h-7zM324.0 547.0h1v3h-1zM319.0 552.0h3v1h-3zM316.0 548.0h9v1h-9zM320.0 544.0h1v9h-1zM318.0 548.0h7v7h-7zM325.0 550.0h1v3h-1zM320.0 555.0h3v1h-3zM317.0 551.0h9v1h-9zM321.0 547.0h1v9h-1zM319.0 549.0h7v7h-7zM326.0 551.0h1v3h-1zM321.0 556.0h3v1h-3zM318.0 552.0h9v1h-9zM322.0 548.0h1v9h-1zM319.0 548.0h7v7h-7zM326.0 550.0h1v3h-1zM321.0 555.0h3v1h-3zM318.0 551.0h9v1h-9zM322.0 547.0h1v9h-1zM320.0 555.0h7v7h-7zM327.0 557.0h1v3h-1zM322.0 562.0h3v1h-3zM319.0 558.0h9v1h-9zM323.0 554.0h1v9h-1zM320.0 557.0h7v7h-7zM327.0 559.0h1v3h-1zM322.0 564.0h3v1h-3zM319.0 560.0h9v1h-9zM323.0 556.0h1v9h-1zM321.0 545.0h7v7h-7zM328.0 547.0h1v3h-1zM323.0 552.0h3v1h-3zM320.0 548.0h9v1h-9zM324.0 544.0h1v9h-1zM322.0 548.0h7v7h-7zM329.0 550.0h1v3h-1zM324.0 555.0h3v1h-3zM321.0 551.0h9v1h-9zM325.0 547.0h1v9h-1zM322.0 557.0h7v7h-7zM329.0 559.0h1v3h-1zM324.0 564.0h3v1h-3zM321.0 560.0h9v1h-9zM325.0 556.0h1v9h-1zM323.0 546.0h7v7h-7zM330.0 548.0h1v3h-1zM325.0 553.0h3v1h-3zM322.0 549.0h9v1h-9zM326.0 545.0h1v9h-1zM323.0 551.0h7v7h-7zM330.0 553.0h1v3h-1zM325.0 558.0h3v1h-3zM322.0 554.0h9v1h-9zM326.0 550.0h1v9h-1zM324.0 549.0h7v7h-7zM331.0 551.0h1v3h-1zM326.0 556.0h3v1h-3zM323.0 552.0h9v1h-9zM327.0 548.0h1v9h-1zM325.0 546.0h7v7h-7zM332.0 548.0h1v3h-1zM327.0 553.0h3v1h-3zM324.0 549.0h9v1h-9zM328.0 545.0h1v9h-1zM325.0 557.0h7v7h-7zM332.0 559.0h1v3h-1zM327.0 564.0h3v1h-3zM324.0 560.0h9v1h-9zM328.0 556.0h1v9h-1zM326.0 553.0h7v7h-7zM333.0 555.0h1v3h-1zM328.0 560.0h3v1h-3zM325.0 556.0h9v1h-9zM329.0 552.0h1v9h-1zM326.0 558.0h7v7h-7zM333.0 560.0h1v3h-1zM328.0 565.0h3v1h-3zM325.0 561.0h9v1h-9zM329.0 557.0h1v9h-1zM327.0 557.0h7v7h-7zM334.0 559.0h1v3h-1zM329.0 564.0h3v1h-3zM326.0 560.0h9v1h-9zM330.0 556.0h1v9h-1zM328.0 553.0h7v7h-7zM335.0 555.0h1v3h-1zM330.0 560.0h3v1h-3zM327.0 556.0h9v1h-9zM331.0 552.0h1v9h-1zM328.0 559.0h7v7h-7zM335.0 561.0h1v3h-1zM330.0 566.0h3v1h-3zM327.0 562.0h9v1h-9zM331.0 558.0h1v9h-1zM329.0 556.0h7v7h-7zM336.0 558.0h1v3h-1zM331.0 563.0h3v1h-3zM328.0 559.0h9v1h-9zM332.0 555.0h1v9h-1zM329.0 550.0h7v7h-7zM336.0 552.0h1v3h-1zM331.0 557.0h3v1h-3zM328.0 553.0h9v1h-9zM332.0 549.0h1v9h-1zM330.0 560.0h7v7h-7zM337.0 562.0h1v3h-1zM332.0 567.0h3v1h-3zM329.0 563.0h9v1h-9zM333.0 559.0h1v9h-1zM331.0 547.0h7v7h-7zM338.0 549.0h1v3h-1zM333.0 554.0h3v1h-3zM330.0 550.0h9v1h-9zM334.0 546.0h1v9h-1zM331.0 549.0h7v7h-7zM338.0 551.0h1v3h-1zM333.0 556.0h3v1h-3zM330.0 552.0h9v1h-9zM334.0 548.0h1v9h-1zM332.0 552.0h7v7h-7zM339.0 554.0h1v3h-1zM334.0 559.0h3v1h-3zM331.0 555.0h9v1h-9zM335.0 551.0h1v9h-1zM332.0 545.0h7v7h-7zM339.0 547.0h1v3h-1zM334.0 552.0h3v1h-3zM331.0 548.0h9v1h-9zM335.0 544.0h1v9h-1zM333.0 556.0h7v7h-7zM340.0 558.0h1v3h-1zM335.0 563.0h3v1h-3zM332.0 559.0h9v1h-9zM336.0 555.0h1v9h-1zM334.0 557.0h7v7h-7zM341.0 559.0h1v3h-1zM336.0 564.0h3v1h-3zM333.0 560.0h9v1h-9zM337.0 556.0h1v9h-1zM334.0 550.0h7v7h-7zM341.0 552.0h1v3h-1zM336.0 557.0h3v1h-3zM333.0 553.0h9v1h-9zM337.0 549.0h1v9h-1zM335.0 556.0h7v7h-7zM342.0 558.0h1v3h-1zM337.0 563.0h3v1h-3zM334.0 559.0h9v1h-9zM338.0 555.0h1v9h-1zM335.0 565.0h7v7h-7zM342.0 567.0h1v3h-1zM337.0 572.0h3v1h-3zM334.0 568.0h9v1h-9zM338.0 564.0h1v9h-1zM336.0 554.0h7v7h-7zM343.0 556.0h1v3h-1zM338.0 561.0h3v1h-3zM335.0 557.0h9v1h-9zM339.0 553.0h1v9h-1zM337.0 551.0h7v7h-7zM344.0 553.0h1v3h-1zM339.0 558.0h3v1h-3zM336.0 554.0h9v1h-9zM340.0 550.0h1v9h-1zM337.0 553.0h7v7h-7zM344.0 555.0h1v3h-1zM339.0 560.0h3v1h-3zM336.0 556.0h9v1h-9zM340.0 552.0h1v9h-1zM338.0 556.0h7v7h-7zM345.0 558.0h1v3h-1zM340.0 563.0h3v1h-3zM337.0 559.0h9v1h-9zM341.0 555.0h1v9h-1zM338.0 562.0h7v7h-7zM345.0 564.0h1v3h-1zM340.0 569.0h3v1h-3zM337.0 565.0h9v1h-9zM341.0 561.0h1v9h-1zM339.0 552.0h7v7h-7zM346.0 554.0h1v3h-1zM341.0 559.0h3v1h-3zM338.0 555.0h9v1h-9zM342.0 551.0h1v9h-1zM339.0 557.0h7v7h-7zM346.0 559.0h1v3h-1zM341.0 564.0h3v1h-3zM338.0 560.0h9v1h-9zM342.0 556.0h1v9h-1zM340.0 549.0h7v7h-7zM347.0 551.0h1v3h-1zM342.0 556.0h3v1h-3zM339.0 552.0h9v1h-9zM343.0 548.0h1v9h-1zM341.0 552.0h7v7h-7zM348.0 554.0h1v3h-1zM343.0 559.0h3v1h-3zM340.0 555.0h9v1h-9zM344.0 551.0h1v9h-1zM341.0 556.0h7v7h-7zM348.0 558.0h1v3h-1zM343.0 563.0h3v1h-3zM340.0 559.0h9v1h-9zM344.0 555.0h1v9h-1zM342.0 546.0h7v7h-7zM349.0 548.0h1v3h-1zM344.0 553.0h3v1h-3zM341.0 549.0h9v1h-9zM345.0 545.0h1v9h-1zM342.0 546.0h7v7h-7zM349.0 548.0h1v3h-1zM344.0 553.0h3v1h-3zM341.0 549.0h9v1h-9zM345.0 545.0h1v9h-1zM343.0 565.0h7v7h-7zM350.0 567.0h1v3h-1zM345.0 572.0h3v1h-3zM342.0 568.0h9v1h-9zM346.0 564.0h1v9h-1zM344.0 546.0h7v7h-7zM351.0 548.0h1v3h-1zM346.0 553.0h3v1h-3zM343.0 549.0h9v1h-9zM347.0 545.0h1v9h-1zM344.0 558.0h7v7h-7zM351.0 560.0h1v3h-1zM346.0 565.0h3v1h-3zM343.0 561.0h9v1h-9zM347.0 557.0h1v9h-1zM345.0 559.0h7v7h-7zM352.0 561.0h1v3h-1zM347.0 566.0h3v1h-3zM344.0 562.0h9v1h-9zM348.0 558.0h1v9h-1zM345.0 555.0h7v7h-7zM352.0 557.0h1v3h-1zM347.0 562.0h3v1h-3zM344.0 558.0h9v1h-9zM348.0 554.0h1v9h-1zM346.0 547.0h7v7h-7zM353.0 549.0h1v3h-1zM348.0 554.0h3v1h-3zM345.0 550.0h9v1h-9zM349.0 546.0h1v9h-1zM347.0 551.0h7v7h-7zM354.0 553.0h1v3h-1zM349.0 558.0h3v1h-3zM346.0 554.0h9v1h-9zM350.0 550.0h1v9h-1zM347.0 554.0h7v7h-7zM354.0 556.0h1v3h-1zM349.0 561.0h3v1h-3zM346.0 557.0h9v1h-9zM350.0 553.0h1v9h-1zM348.0 548.0h7v7h-7zM355.0 550.0h1v3h-1zM350.0 555.0h3v1h-3zM347.0 551.0h9v1h-9zM351.0 547.0h1v9h-1zM348.0 553.0h7v7h-7zM355.0 555.0h1v3h-1zM350.0 560.0h3v1h-3zM347.0 556.0h9v1h-9zM351.0 552.0h1v9h-1zM349.0 557.0h7v7h-7zM356.0 559.0h1v3h-1zM351.0 564.0h3v1h-3zM348.0 560.0h9v1h-9zM352.0 556.0h1v9h-1zM350.0 559.0h7v7h-7zM357.0 561.0h1v3h-1zM352.0 566.0h3v1h-3zM349.0 562.0h9v1h-9zM353.0 558.0h1v9h-1zM350.0 558.0h7v7h-7zM357.0 560.0h1v3h-1zM352.0 565.0h3v1h-3zM349.0 561.0h9v1h-9zM353.0 557.0h1v9h-1zM351.0 555.0h7v7h-7zM358.0 557.0h1v3h-1zM353.0 562.0h3v1h-3zM350.0 558.0h9v1h-9zM354.0 554.0h1v9h-1zM351.0 559.0h7v7h-7zM358.0 561.0h1v3h-1zM353.0 566.0h3v1h-3zM350.0 562.0h9v1h-9zM354.0 558.0h1v9h-1zM352.0 549.0h7v7h-7zM359.0 551.0h1v3h-1zM354.0 556.0h3v1h-3zM351.0 552.0h9v1h-9zM355.0 548.0h1v9h-1zM353.0 555.0h7v7h-7zM360.0 557.0h1v3h-1zM355.0 562.0h3v1h-3zM352.0 558.0h9v1h-9zM356.0 554.0h1v9h-1zM353.0 549.0h7v7h-7zM360.0 551.0h1v3h-1zM355.0 556.0h3v1h-3zM352.0 552.0h9v1h-9zM356.0 548.0h1v9h-1zM354.0 551.0h7v7h-7zM361.0 553.0h1v3h-1zM356.0 558.0h3v1h-3zM353.0 554.0h9v1h-9zM357.0 550.0h1v9h-1zM354.0 544.0h7v7h-7zM361.0 546.0h1v3h-1zM356.0 551.0h3v1h-3zM353.0 547.0h9v1h-9zM357.0 543.0h1v9h-1zM355.0 547.0h7v7h-7zM362.0 549.0h1v3h-1zM357.0 554.0h3v1h-3zM354.0 550.0h9v1h-9zM358.0 546.0h1v9h-1zM356.0 546.0h7v7h-7zM363.0 548.0h1v3h-1zM358.0 553.0h3v1h-3zM355.0 549.0h9v1h-9zM359.0 545.0h1v9h-1zM356.0 549.0h7v7h-7zM363.0 551.0h1v3h-1zM358.0 556.0h3v1h-3zM355.0 552.0h9v1h-9zM359.0 548.0h1v9h-1zM357.0 555.0h7v7h-7zM364.0 557.0h1v3h-1zM359.0 562.0h3v1h-3zM356.0 558.0h9v1h-9zM360.0 554.0h1v9h-1zM357.0 553.0h7v7h-7zM364.0 555.0h1v3h-1zM359.0 560.0h3v1h-3zM356.0 556.0h9v1h-9zM360.0 552.0h1v9h-1zM358.0 556.0h7v7h-7zM365.0 558.0h1v3h-1zM360.0 563.0h3v1h-3zM357.0 559.0h9v1h-9zM361.0 555.0h1v9h-1zM359.0 554.0h7v7h-7zM366.0 556.0h1v3h-1zM361.0 561.0h3v1h-3zM358.0 557.0h9v1h-9zM362.0 553.0h1v9h-1zM359.0 550.0h7v7h-7zM366.0 552.0h1v3h-1zM361.0 557.0h3v1h-3zM358.0 553.0h9v1h-9zM362.0 549.0h1v9h-1zM360.0 549.0h7v7h-7zM367.0 551.0h1v3h-1zM362.0 556.0h3v1h-3zM359.0 552.0h9v1h-9zM363.0 548.0h1v9h-1zM360.0 564.0h7v7h-7zM367.0 566.0h1v3h-1zM362.0 571.0h3v1h-3zM359.0 567.0h9v1h-9zM363.0 563.0h1v9h-1zM361.0 559.0h7v7h-7zM368.0 561.0h1v3h-1zM363.0 566.0h3v1h-3zM360.0 562.0h9v1h-9zM364.0 558.0h1v9h-1zM362.0 550.0h7v7h-7zM369.0 552.0h1v3h-1zM364.0 557.0h3v1h-3zM361.0 553.0h9v1h-9zM365.0 549.0h1v9h-1zM362.0 547.0h7v7h-7zM369.0 549.0h1v3h-1zM364.0 554.0h3v1h-3zM361.0 550.0h9v1h-9zM365.0 546.0h1v9h-1zM363.0 563.0h7v7h-7zM370.0 565.0h1v3h-1zM365.0 570.0h3v1h-3zM362.0 566.0h9v1h-9zM366.0 562.0h1v9h-1zM363.0 556.0h7v7h-7zM370.0 558.0h1v3h-1zM365.0 563.0h3v1h-3zM362.0 559.0h9v1h-9zM366.0 555.0h1v9h-1zM364.0 558.0h7v7h-7zM371.0 560.0h1v3h-1zM366.0 565.0h3v1h-3zM363.0 561.0h9v1h-9zM367.0 557.0h1v9h-1zM365.0 556.0h7v7h-7zM372.0 558.0h1v3h-1zM367.0 563.0h3v1h-3zM364.0 559.0h9v1h-9zM368.0 555.0h1v9h-1zM365.0 549.0h7v7h-7zM372.0 551.0h1v3h-1zM367.0 556.0h3v1h-3zM364.0 552.0h9v1h-9zM368.0 548.0h1v9h-1zM366.0 558.0h7v7h-7zM373.0 560.0h1v3h-1zM368.0 565.0h3v1h-3zM365.0 561.0h9v1h-9zM369.0 557.0h1v9h-1zM366.0 552.0h7v7h-7zM373.0 554.0h1v3h-1zM368.0 559.0h3v1h-3zM365.0 555.0h9v1h-9zM369.0 551.0h1v9h-1zM367.0 553.0h7v7h-7zM374.0 555.0h1v3h-1zM369.0 560.0h3v1h-3zM366.0 556.0h9v1h-9zM370.0 552.0h1v9h-1zM367.0 557.0h7v7h-7zM374.0 559.0h1v3h-1zM369.0 564.0h3v1h-3zM366.0 560.0h9v1h-9zM370.0 556.0h1v9h-1zM368.0 556.0h7v7h-7zM375.0 558.0h1v3h-1zM370.0 563.0h3v1h-3zM367.0 559.0h9v1h-9zM371.0 555.0h1v9h-1zM369.0 549.0h7v7h-7zM376.0 551.0h1v3h-1zM371.0 556.0h3v1h-3zM368.0 552.0h9v1h-9zM372.0 548.0h1v9h-1zM369.0 546.0h7v7h-7zM376.0 548.0h1v3h-1zM371.0 553.0h3v1h-3zM368.0 549.0h9v1h-9zM372.0 545.0h1v9h-1zM370.0 554.0h7v7h-7zM377.0 556.0h1v3h-1zM372.0 561.0h3v1h-3zM369.0 557.0h9v1h-9zM373.0 553.0h1v9h-1zM370.0 549.0h7v7h-7zM377.0 551.0h1v3h-1zM372.0 556.0h3v1h-3zM369.0 552.0h9v1h-9zM373.0 548.0h1v9h-1zM371.0 553.0h7v7h-7zM378.0 555.0h1v3h-1zM373.0 560.0h3v1h-3zM370.0 556.0h9v1h-9zM374.0 552.0h1v9h-1zM372.0 557.0h7v7h-7zM379.0 559.0h1v3h-1zM374.0 564.0h3v1h-3zM371.0 560.0h9v1h-9zM375.0 556.0h1v9h-1zM372.0 556.0h7v7h-7zM379.0 558.0h1v3h-1zM374.0 563.0h3v1h-3zM371.0 559.0h9v1h-9zM375.0 555.0h1v9h-1zM373.0 549.0h7v7h-7zM380.0 551.0h1v3h-1zM375.0 556.0h3v1h-3zM372.0 552.0h9v1h-9zM376.0 548.0h1v9h-1zM373.0 558.0h7v7h-7zM380.0 560.0h1v3h-1zM375.0 565.0h3v1h-3zM372.0 561.0h9v1h-9zM376.0 557.0h1v9h-1zM374.0 549.0h7v7h-7zM381.0 551.0h1v3h-1zM376.0 556.0h3v1h-3zM373.0 552.0h9v1h-9zM377.0 548.0h1v9h-1zM375.0 549.0h7v7h-7zM382.0 551.0h1v3h-1zM377.0 556.0h3v1h-3zM374.0 552.0h9v1h-9zM378.0 548.0h1v9h-1zM375.0 553.0h7v7h-7zM382.0 555.0h1v3h-1zM377.0 560.0h3v1h-3zM374.0 556.0h9v1h-9zM378.0 552.0h1v9h-1zM376.0 551.0h7v7h-7zM383.0 553.0h1v3h-1zM378.0 558.0h3v1h-3zM375.0 554.0h9v1h-9zM379.0 550.0h1v9h-1zM376.0 550.0h7v7h-7zM383.0 552.0h1v3h-1zM378.0 557.0h3v1h-3zM375.0 553.0h9v1h-9zM379.0 549.0h1v9h-1zM377.0 555.0h7v7h-7zM384.0 557.0h1v3h-1zM379.0 562.0h3v1h-3zM376.0 558.0h9v1h-9zM380.0 554.0h1v9h-1zM378.0 555.0h7v7h-7zM385.0 557.0h1v3h-1zM380.0 562.0h3v1h-3zM377.0 558.0h9v1h-9zM381.0 554.0h1v9h-1zM378.0 553.0h7v7h-7zM385.0 555.0h1v3h-1zM380.0 560.0h3v1h-3zM377.0 556.0h9v1h-9zM381.0 552.0h1v9h-1zM379.0 552.0h7v7h-7zM386.0 554.0h1v3h-1zM381.0 559.0h3v1h-3zM378.0 555.0h9v1h-9zM382.0 551.0h1v9h-1zM379.0 558.0h7v7h-7zM386.0 560.0h1v3h-1zM381.0 565.0h3v1h-3zM378.0 561.0h9v1h-9zM382.0 557.0h1v9h-1zM380.0 557.0h7v7h-7zM387.0 559.0h1v3h-1zM382.0 564.0h3v1h-3zM379.0 560.0h9v1h-9zM383.0 556.0h1v9h-1zM381.0 556.0h7v7h-7zM388.0 558.0h1v3h-1zM383.0 563.0h3v1h-3zM380.0 559.0h9v1h-9zM384.0 555.0h1v9h-1zM381.0 551.0h7v7h-7zM388.0 553.0h1v3h-1zM383.0 558.0h3v1h-3zM380.0 554.0h9v1h-9zM384.0 550.0h1v9h-1zM382.0 552.0h7v7h-7zM389.0 554.0h1v3h-1zM384.0 559.0h3v1h-3zM381.0 555.0h9v1h-9zM385.0 551.0h1v9h-1zM382.0 550.0h7v7h-7zM389.0 552.0h1v3h-1zM384.0 557.0h3v1h-3zM381.0 553.0h9v1h-9zM385.0 549.0h1v9h-1zM383.0 558.0h7v7h-7zM390.0 560.0h1v3h-1zM385.0 565.0h3v1h-3zM382.0 561.0h9v1h-9zM386.0 557.0h1v9h-1zM384.0 556.0h7v7h-7zM391.0 558.0h1v3h-1zM386.0 563.0h3v1h-3zM383.0 559.0h9v1h-9zM387.0 555.0h1v9h-1zM384.0 556.0h7v7h-7zM391.0 558.0h1v3h-1zM386.0 563.0h3v1h-3zM383.0 559.0h9v1h-9zM387.0 555.0h1v9h-1zM385.0 556.0h7v7h-7zM392.0 558.0h1v3h-1zM387.0 563.0h3v1h-3zM384.0 559.0h9v1h-9zM388.0 555.0h1v9h-1zM385.0 554.0h7v7h-7zM392.0 556.0h1v3h-1zM387.0 561.0h3v1h-3zM384.0 557.0h9v1h-9zM388.0 553.0h1v9h-1zM386.0 558.0h7v7h-7zM393.0 560.0h1v3h-1zM388.0 565.0h3v1h-3zM385.0 561.0h9v1h-9zM389.0 557.0h1v9h-1zM387.0 552.0h7v7h-7zM394.0 554.0h1v3h-1zM389.0 559.0h3v1h-3zM386.0 555.0h9v1h-9zM390.0 551.0h1v9h-1zM387.0 556.0h7v7h-7zM394.0 558.0h1v3h-1zM389.0 563.0h3v1h-3zM386.0 559.0h9v1h-9zM390.0 555.0h1v9h-1zM388.0 550.0h7v7h-7zM395.0 552.0h1v3h-1zM390.0 557.0h3v1h-3zM387.0 553.0h9v1h-9zM391.0 549.0h1v9h-1zM388.0 550.0h7v7h-7zM395.0 552.0h1v3h-1zM390.0 557.0h3v1h-3zM387.0 553.0h9v1h-9zM391.0 549.0h1v9h-1zM389.0 556.0h7v7h-7zM396.0 558.0h1v3h-1zM391.0 563.0h3v1h-3zM388.0 559.0h9v1h-9zM392.0 555.0h1v9h-1zM390.0 551.0h7v7h-7zM397.0 553.0h1v3h-1zM392.0 558.0h3v1h-3zM389.0 554.0h9v1h-9zM393.0 550.0h1v9h-1zM390.0 549.0h7v7h-7zM397.0 551.0h1v3h-1zM392.0 556.0h3v1h-3zM389.0 552.0h9v1h-9zM393.0 548.0h1v9h-1zM391.0 552.0h7v7h-7zM398.0 554.0h1v3h-1zM393.0 559.0h3v1h-3zM390.0 555.0h9v1h-9zM394.0 551.0h1v9h-1zM391.0 557.0h7v7h-7zM398.0 559.0h1v3h-1zM393.0 564.0h3v1h-3zM390.0 560.0h9v1h-9zM394.0 556.0h1v9h-1zM392.0 558.0h7v7h-7zM399.0 560.0h1v3h-1zM394.0 565.0h3v1h-3zM391.0 561.0h9v1h-9zM395.0 557.0h1v9h-1zM392.0 555.0h7v7h-7zM399.0 557.0h1v3h-1zM394.0 562.0h3v1h-3zM391.0 558.0h9v1h-9zM395.0 554.0h1v9h-1zM393.0 558.0h7v7h-7zM400.0 560.0h1v3h-1zM395.0 565.0h3v1h-3zM392.0 561.0h9v1h-9zM396.0 557.0h1v9h-1zM394.0 557.0h7v7h-7zM401.0 559.0h1v3h-1zM396.0 564.0h3v1h-3zM393.0 560.0h9v1h-9zM397.0 556.0h1v9h-1zM394.0 555.0h7v7h-7zM401.0 557.0h1v3h-1zM396.0 562.0h3v1h-3zM393.0 558.0h9v1h-9zM397.0 554.0h1v9h-1zM395.0 552.0h7v7h-7zM402.0 554.0h1v3h-1zM397.0 559.0h3v1h-3zM394.0 555.0h9v1h-9zM398.0 551.0h1v9h-1zM395.0 560.0h7v7h-7zM402.0 562.0h1v3h-1zM397.0 567.0h3v1h-3zM394.0 563.0h9v1h-9zM398.0 559.0h1v9h-1zM396.0 554.0h7v7h-7zM403.0 556.0h1v3h-1zM398.0 561.0h3v1h-3zM395.0 557.0h9v1h-9zM399.0 553.0h1v9h-1zM397.0 555.0h7v7h-7zM404.0 557.0h1v3h-1zM399.0 562.0h3v1h-3zM396.0 558.0h9v1h-9zM400.0 554.0h1v9h-1zM397.0 554.0h7v7h-7zM404.0 556.0h1v3h-1zM399.0 561.0h3v1h-3zM396.0 557.0h9v1h-9zM400.0 553.0h1v9h-1zM398.0 555.0h7v7h-7zM405.0 557.0h1v3h-1zM400.0 562.0h3v1h-3zM397.0 558.0h9v1h-9zM401.0 554.0h1v9h-1zM398.0 557.0h7v7h-7zM405.0 559.0h1v3h-1zM400.0 564.0h3v1h-3zM397.0 560.0h9v1h-9zM401.0 556.0h1v9h-1zM399.0 559.0h7v7h-7zM406.0 561.0h1v3h-1zM401.0 566.0h3v1h-3zM398.0 562.0h9v1h-9zM402.0 558.0h1v9h-1zM400.0 557.0h7v7h-7zM407.0 559.0h1v3h-1zM402.0 564.0h3v1h-3zM399.0 560.0h9v1h-9zM403.0 556.0h1v9h-1zM400.0 557.0h7v7h-7zM407.0 559.0h1v3h-1zM402.0 564.0h3v1h-3zM399.0 560.0h9v1h-9zM403.0 556.0h1v9h-1zM401.0 559.0h7v7h-7zM408.0 561.0h1v3h-1zM403.0 566.0h3v1h-3zM400.0 562.0h9v1h-9zM404.0 558.0h1v9h-1zM401.0 560.0h7v7h-7zM408.0 562.0h1v3h-1zM403.0 567.0h3v1h-3zM400.0 563.0h9v1h-9zM404.0 559.0h1v9h-1zM402.0 547.0h7v7h-7zM409.0 549.0h1v3h-1zM404.0 554.0h3v1h-3zM401.0 550.0h9v1h-9zM405.0 546.0h1v9h-1zM403.0 558.0h7v7h-7zM410.0 560.0h1v3h-1zM405.0 565.0h3v1h-3zM402.0 561.0h9v1h-9zM406.0 557.0h1v9h-1zM403.0 559.0h7v7h-7zM410.0 561.0h1v3h-1zM405.0 566.0h3v1h-3zM402.0 562.0h9v1h-9zM406.0 558.0h1v9h-1zM404.0 557.0h7v7h-7zM411.0 559.0h1v3h-1zM406.0 564.0h3v1h-3zM403.0 560.0h9v1h-9zM407.0 556.0h1v9h-1zM404.0 557.0h7v7h-7zM411.0 559.0h1v3h-1zM406.0 564.0h3v1h-3zM403.0 560.0h9v1h-9zM407.0 556.0h1v9h-1zM405.0 554.0h7v7h-7zM412.0 556.0h1v3h-1zM407.0 561.0h3v1h-3zM404.0 557.0h9v1h-9zM408.0 553.0h1v9h-1zM406.0 553.0h7v7h-7zM413.0 555.0h1v3h-1zM408.0 560.0h3v1h-3zM405.0 556.0h9v1h-9zM409.0 552.0h1v9h-1zM406.0 556.0h7v7h-7zM413.0 558.0h1v3h-1zM408.0 563.0h3v1h-3zM405.0 559.0h9v1h-9zM409.0 555.0h1v9h-1zM407.0 553.0h7v7h-7zM414.0 555.0h1v3h-1zM409.0 560.0h3v1h-3zM406.0 556.0h9v1h-9zM410.0 552.0h1v9h-1zM407.0 553.0h7v7h-7zM414.0 555.0h1v3h-1zM409.0 560.0h3v1h-3zM406.0 556.0h9v1h-9zM410.0 552.0h1v9h-1zM408.0 560.0h7v7h-7zM415.0 562.0h1v3h-1zM410.0 567.0h3v1h-3zM407.0 563.0h9v1h-9zM411.0 559.0h1v9h-1zM409.0 556.0h7v7h-7zM416.0 558.0h1v3h-1zM411.0 563.0h3v1h-3zM408.0 559.0h9v1h-9zM412.0 555.0h1v9h-1zM409.0 554.0h7v7h-7zM416.0 556.0h1v3h-1zM411.0 561.0h3v1h-3zM408.0 557.0h9v1h-9zM412.0 553.0h1v9h-1zM410.0 552.0h7v7h-7zM417.0 554.0h1v3h-1zM412.0 559.0h3v1h-3zM409.0 555.0h9v1h-9zM413.0 551.0h1v9h-1zM410.0 559.0h7v7h-7zM417.0 561.0h1v3h-1zM412.0 566.0h3v1h-3zM409.0 562.0h9v1h-9zM413.0 558.0h1v9h-1zM411.0 555.0h7v7h-7zM418.0 557.0h1v3h-1zM413.0 562.0h3v1h-3zM410.0 558.0h9v1h-9zM414.0 554.0h1v9h-1zM412.0 551.0h7v7h-7zM419.0 553.0h1v3h-1zM414.0 558.0h3v1h-3zM411.0 554.0h9v1h-9zM415.0 550.0h1v9h-1zM412.0 552.0h7v7h-7zM419.0 554.0h1v3h-1zM414.0 559.0h3v1h-3zM411.0 555.0h9v1h-9zM415.0 551.0h1v9h-1zM413.0 556.0h7v7h-7zM420.0 558.0h1v3h-1zM415.0 563.0h3v1h-3zM412.0 559.0h9v1h-9zM416.0 555.0h1v9h-1zM413.0 551.0h7v7h-7zM420.0 553.0h1v3h-1zM415.0 558.0h3v1h-3zM412.0 554.0h9v1h-9zM416.0 550.0h1v9h-1zM414.0 552.0h7v7h-7zM421.0 554.0h1v3h-1zM416.0 559.0h3v1h-3zM413.0 555.0h9v1h-9zM417.0 551.0h1v9h-1zM415.0 558.0h7v7h-7zM422.0 560.0h1v3h-1zM417.0 565.0h3v1h-3zM414.0 561.0h9v1h-9zM418.0 557.0h1v9h-1zM415.0 561.0h7v7h-7zM422.0 563.0h1v3h-1zM417.0 568.0h3v1h-3zM414.0 564.0h9v1h-9zM418.0 560.0h1v9h-1zM416.0 553.0h7v7h-7zM423.0 555.0h1v3h-1zM418.0 560.0h3v1h-3zM415.0 556.0h9v1h-9zM419.0 552.0h1v9h-1zM416.0 559.0h7v7h-7zM423.0 561.0h1v3h-1zM418.0 566.0h3v1h-3zM415.0 562.0h9v1h-9zM419.0 558.0h1v9h-1zM417.0 564.0h7v7h-7zM424.0 566.0h1v3h-1zM419.0 571.0h3v1h-3zM416.0 567.0h9v1h-9zM420.0 563.0h1v9h-1zM418.0 559.0h7v7h-7zM425.0 561.0h1v3h-1zM420.0 566.0h3v1h-3zM417.0 562.0h9v1h-9zM421.0 558.0h1v9h-1zM418.0 556.0h7v7h-7zM425.0 558.0h1v3h-1zM420.0 563.0h3v1h-3zM417.0 559.0h9v1h-9zM421.0 555.0h1v9h-1zM419.0 550.0h7v7h-7zM426.0 552.0h1v3h-1zM421.0 557.0h3v1h-3zM418.0 553.0h9v1h-9zM422.0 549.0h1v9h-1zM419.0 559.0h7v7h-7zM426.0 561.0h1v3h-1zM421.0 566.0h3v1h-3zM418.0 562.0h9v1h-9zM422.0 558.0h1v9h-1zM420.0 550.0h7v7h-7zM427.0 552.0h1v3h-1zM422.0 557.0h3v1h-3zM419.0 553.0h9v1h-9zM423.0 549.0h1v9h-1zM420.0 560.0h7v7h-7zM427.0 562.0h1v3h-1zM422.0 567.0h3v1h-3zM419.0 563.0h9v1h-9zM423.0 559.0h1v9h-1zM421.0 556.0h7v7h-7zM428.0 558.0h1v3h-1zM423.0 563.0h3v1h-3zM420.0 559.0h9v1h-9zM424.0 555.0h1v9h-1zM422.0 561.0h7v7h-7zM429.0 563.0h1v3h-1zM424.0 568.0h3v1h-3zM421.0 564.0h9v1h-9zM425.0 560.0h1v9h-1zM422.0 557.0h7v7h-7zM429.0 559.0h1v3h-1zM424.0 564.0h3v1h-3zM421.0 560.0h9v1h-9zM425.0 556.0h1v9h-1zM423.0 554.0h7v7h-7zM430.0 556.0h1v3h-1zM425.0 561.0h3v1h-3zM422.0 557.0h9v1h-9zM426.0 553.0h1v9h-1zM423.0 558.0h7v7h-7zM430.0 560.0h1v3h-1zM425.0 565.0h3v1h-3zM422.0 561.0h9v1h-9zM426.0 557.0h1v9h-1zM424.0 552.0h7v7h-7zM431.0 554.0h1v3h-1zM426.0 559.0h3v1h-3zM423.0 555.0h9v1h-9zM427.0 551.0h1v9h-1zM425.0 562.0h7v7h-7zM432.0 564.0h1v3h-1zM427.0 569.0h3v1h-3zM424.0 565.0h9v1h-9zM428.0 561.0h1v9h-1zM425.0 554.0h7v7h-7zM432.0 556.0h1v3h-1zM427.0 561.0h3v1h-3zM424.0 557.0h9v1h-9zM428.0 553.0h1v9h-1zM426.0 554.0h7v7h-7zM433.0 556.0h1v3h-1zM428.0 561.0h3v1h-3zM425.0 557.0h9v1h-9zM429.0 553.0h1v9h-1zM426.0 552.0h7v7h-7zM433.0 554.0h1v3h-1zM428.0 559.0h3v1h-3zM425.0 555.0h9v1h-9zM429.0 551.0h1v9h-1zM427.0 555.0h7v7h-7zM434.0 557.0h1v3h-1zM429.0 562.0h3v1h-3zM426.0 558.0h9v1h-9zM430.0 554.0h1v9h-1zM428.0 555.0h7v7h-7zM435.0 557.0h1v3h-1zM430.0 562.0h3v1h-3zM427.0 558.0h9v1h-9zM431.0 554.0h1v9h-1zM428.0 554.0h7v7h-7zM435.0 556.0h1v3h-1zM430.0 561.0h3v1h-3zM427.0 557.0h9v1h-9zM431.0 553.0h1v9h-1zM429.0 561.0h7v7h-7zM436.0 563.0h1v3h-1zM431.0 568.0h3v1h-3zM428.0 564.0h9v1h-9zM432.0 560.0h1v9h-1zM429.0 553.0h7v7h-7zM436.0 555.0h1v3h-1zM431.0 560.0h3v1h-3zM428.0 556.0h9v1h-9zM432.0 552.0h1v9h-1zM430.0 565.0h7v7h-7zM437.0 567.0h1v3h-1zM432.0 572.0h3v1h-3zM429.0 568.0h9v1h-9zM433.0 564.0h1v9h-1zM431.0 552.0h7v7h-7zM438.0 554.0h1v3h-1zM433.0 559.0h3v1h-3zM430.0 555.0h9v1h-9zM434.0 551.0h1v9h-1zM431.0 561.0h7v7h-7zM438.0 563.0h1v3h-1zM433.0 568.0h3v1h-3zM430.0 564.0h9v1h-9zM434.0 560.0h1v9h-1zM432.0 561.0h7v7h-7zM439.0 563.0h1v3h-1zM434.0 568.0h3v1h-3zM431.0 564.0h9v1h-9zM435.0 560.0h1v9h-1zM432.0 554.0h7v7h-7zM439.0 556.0h1v3h-1zM434.0 561.0h3v1h-3zM431.0 557.0h9v1h-9zM435.0 553.0h1v9h-1zM433.0 557.0h7v7h-7zM440.0 559.0h1v3h-1zM435.0 564.0h3v1h-3zM432.0 560.0h9v1h-9zM436.0 556.0h1v9h-1zM434.0 562.0h7v7h-7zM441.0 564.0h1v3h-1zM436.0 569.0h3v1h-3zM433.0 565.0h9v1h-9zM437.0 561.0h1v9h-1zM434.0 560.0h7v7h-7zM441.0 562.0h1v3h-1zM436.0 567.0h3v1h-3zM433.0 563.0h9v1h-9zM437.0 559.0h1v9h-1zM435.0 558.0h7v7h-7zM442.0 560.0h1v3h-1zM437.0 565.0h3v1h-3zM434.0 561.0h9v1h-9zM438.0 557.0h1v9h-1zM435.0 559.0h7v7h-7zM442.0 561.0h1v3h-1zM437.0 566.0h3v1h-3zM434.0 562.0h9v1h-9zM438.0 558.0h1v9h-1zM436.0 556.0h7v7h-7zM443.0 558.0h1v3h-1zM438.0 563.0h3v1h-3zM435.0 559.0h9v1h-9zM439.0 555.0h1v9h-1zM437.0 552.0h7v7h-7zM444.0 554.0h1v3h-1zM439.0 559.0h3v1h-3zM436.0 555.0h9v1h-9zM440.0 551.0h1v9h-1zM437.0 558.0h7v7h-7zM444.0 560.0h1v3h-1zM439.0 565.0h3v1h-3zM436.0 561.0h9v1h-9zM440.0 557.0h1v9h-1zM438.0 558.0h7v7h-7zM445.0 560.0h1v3h-1zM440.0 565.0h3v1h-3zM437.0 561.0h9v1h-9zM441.0 557.0h1v9h-1zM438.0 554.0h7v7h-7zM445.0 556.0h1v3h-1zM440.0 561.0h3v1h-3zM437.0 557.0h9v1h-9zM441.0 553.0h1v9h-1zM439.0 553.0h7v7h-7zM446.0 555.0h1v3h-1zM441.0 560.0h3v1h-3zM438.0 556.0h9v1h-9zM442.0 552.0h1v9h-1zM440.0 553.0h7v7h-7zM447.0 555.0h1v3h-1zM442.0 560.0h3v1h-3zM439.0 556.0h9v1h-9zM443.0 552.0h1v9h-1zM440.0 561.0h7v7h-7zM447.0 563.0h1v3h-1zM442.0 568.0h3v1h-3zM439.0 564.0h9v1h-9zM443.0 560.0h1v9h-1zM441.0 561.0h7v7h-7zM448.0 563.0h1v3h-1zM443.0 568.0h3v1h-3zM440.0 564.0h9v1h-9zM444.0 560.0h1v9h-1zM441.0 562.0h7v7h-7zM448.0 564.0h1v3h-1zM443.0 569.0h3v1h-3zM440.0 565.0h9v1h-9zM444.0 561.0h1v9h-1zM442.0 556.0h7v7h-7zM449.0 558.0h1v3h-1zM444.0 563.0h3v1h-3zM441.0 559.0h9v1h-9zM445.0 555.0h1v9h-1zM443.0 558.0h7v7h-7zM450.0 560.0h1v3h-1zM445.0 565.0h3v1h-3zM442.0 561.0h9v1h-9zM446.0 557.0h1v9h-1zM443.0 559.0h7v7h-7zM450.0 561.0h1v3h-1zM445.0 566.0h3v1h-3zM442.0 562.0h9v1h-9zM446.0 558.0h1v9h-1zM444.0 555.0h7v7h-7zM451.0 557.0h1v3h-1zM446.0 562.0h3v1h-3zM443.0 558.0h9v1h-9zM447.0 554.0h1v9h-1zM444.0 559.0h7v7h-7zM451.0 561.0h1v3h-1zM446.0 566.0h3v1h-3zM443.0 562.0h9v1h-9zM447.0 558.0h1v9h-1zM445.0 561.0h7v7h-7zM452.0 563.0h1v3h-1zM447.0 568.0h3v1h-3zM444.0 564.0h9v1h-9zM448.0 560.0h1v9h-1zM445.0 560.0h7v7h-7zM452.0 562.0h1v3h-1zM447.0 567.0h3v1h-3zM444.0 563.0h9v1h-9zM448.0 559.0h1v9h-1zM446.0 557.0h7v7h-7zM453.0 559.0h1v3h-1zM448.0 564.0h3v1h-3zM445.0 560.0h9v1h-9zM449.0 556.0h1v9h-1zM447.0 556.0h7v7h-7zM454.0 558.0h1v3h-1zM449.0 563.0h3v1h-3zM446.0 559.0h9v1h-9zM450.0 555.0h1v9h-1zM447.0 561.0h7v7h-7zM454.0 563.0h1v3h-1zM449.0 568.0h3v1h-3zM446.0 564.0h9v1h-9zM450.0 560.0h1v9h-1zM448.0 558.0h7v7h-7zM455.0 560.0h1v3h-1zM450.0 565.0h3v1h-3zM447.0 561.0h9v1h-9zM451.0 557.0h1v9h-1zM448.0 556.0h7v7h-7zM455.0 558.0h1v3h-1zM450.0 563.0h3v1h-3zM447.0 559.0h9v1h-9zM451.0 555.0h1v9h-1zM449.0 562.0h7v7h-7zM456.0 564.0h1v3h-1zM451.0 569.0h3v1h-3zM448.0 565.0h9v1h-9zM452.0 561.0h1v9h-1zM450.0 555.0h7v7h-7zM457.0 557.0h1v3h-1zM452.0 562.0h3v1h-3zM449.0 558.0h9v1h-9zM453.0 554.0h1v9h-1zM450.0 559.0h7v7h-7zM457.0 561.0h1v3h-1zM452.0 566.0h3v1h-3zM449.0 562.0h9v1h-9zM453.0 558.0h1v9h-1zM451.0 554.0h7v7h-7zM458.0 556.0h1v3h-1zM453.0 561.0h3v1h-3zM450.0 557.0h9v1h-9zM454.0 553.0h1v9h-1zM451.0 555.0h7v7h-7zM458.0 557.0h1v3h-1zM453.0 562.0h3v1h-3zM450.0 558.0h9v1h-9zM454.0 554.0h1v9h-1zM452.0 559.0h7v7h-7zM459.0 561.0h1v3h-1zM454.0 566.0h3v1h-3zM451.0 562.0h9v1h-9zM455.0 558.0h1v9h-1zM453.0 560.0h7v7h-7zM460.0 562.0h1v3h-1zM455.0 567.0h3v1h-3zM452.0 563.0h9v1h-9zM456.0 559.0h1v9h-1zM453.0 559.0h7v7h-7zM460.0 561.0h1v3h-1zM455.0 566.0h3v1h-3zM452.0 562.0h9v1h-9zM456.0 558.0h1v9h-1zM454.0 559.0h7v7h-7zM461.0 561.0h1v3h-1zM456.0 566.0h3v1h-3zM453.0 562.0h9v1h-9zM457.0 558.0h1v9h-1zM454.0 561.0h7v7h-7zM461.0 563.0h1v3h-1zM456.0 568.0h3v1h-3zM453.0 564.0h9v1h-9zM457.0 560.0h1v9h-1zM455.0 557.0h7v7h-7zM462.0 559.0h1v3h-1zM457.0 564.0h3v1h-3zM454.0 560.0h9v1h-9zM458.0 556.0h1v9h-1zM456.0 560.0h7v7h-7zM463.0 562.0h1v3h-1zM458.0 567.0h3v1h-3zM455.0 563.0h9v1h-9zM459.0 559.0h1v9h-1zM456.0 563.0h7v7h-7zM463.0 565.0h1v3h-1zM458.0 570.0h3v1h-3zM455.0 566.0h9v1h-9zM459.0 562.0h1v9h-1zM457.0 558.0h7v7h-7zM464.0 560.0h1v3h-1zM459.0 565.0h3v1h-3zM456.0 561.0h9v1h-9zM460.0 557.0h1v9h-1zM457.0 559.0h7v7h-7zM464.0 561.0h1v3h-1zM459.0 566.0h3v1h-3zM456.0 562.0h9v1h-9zM460.0 558.0h1v9h-1zM458.0 561.0h7v7h-7zM465.0 563.0h1v3h-1zM460.0 568.0h3v1h-3zM457.0 564.0h9v1h-9zM461.0 560.0h1v9h-1zM459.0 560.0h7v7h-7zM466.0 562.0h1v3h-1zM461.0 567.0h3v1h-3zM458.0 563.0h9v1h-9zM462.0 559.0h1v9h-1zM459.0 560.0h7v7h-7zM466.0 562.0h1v3h-1zM461.0 567.0h3v1h-3zM458.0 563.0h9v1h-9zM462.0 559.0h1v9h-1zM460.0 561.0h7v7h-7zM467.0 563.0h1v3h-1zM462.0 568.0h3v1h-3zM459.0 564.0h9v1h-9zM463.0 560.0h1v9h-1zM460.0 559.0h7v7h-7zM467.0 561.0h1v3h-1zM462.0 566.0h3v1h-3zM459.0 562.0h9v1h-9zM463.0 558.0h1v9h-1zM461.0 560.0h7v7h-7zM468.0 562.0h1v3h-1zM463.0 567.0h3v1h-3zM460.0 563.0h9v1h-9zM464.0 559.0h1v9h-1zM462.0 560.0h7v7h-7zM469.0 562.0h1v3h-1zM464.0 567.0h3v1h-3zM461.0 563.0h9v1h-9zM465.0 559.0h1v9h-1zM462.0 558.0h7v7h-7zM469.0 560.0h1v3h-1zM464.0 565.0h3v1h-3zM461.0 561.0h9v1h-9zM465.0 557.0h1v9h-1zM463.0 559.0h7v7h-7zM470.0 561.0h1v3h-1zM465.0 566.0h3v1h-3zM462.0 562.0h9v1h-9zM466.0 558.0h1v9h-1zM463.0 559.0h7v7h-7zM470.0 561.0h1v3h-1zM465.0 566.0h3v1h-3zM462.0 562.0h9v1h-9zM466.0 558.0h1v9h-1zM464.0 560.0h7v7h-7zM471.0 562.0h1v3h-1zM466.0 567.0h3v1h-3zM463.0 563.0h9v1h-9zM467.0 559.0h1v9h-1zM465.0 560.0h7v7h-7zM472.0 562.0h1v3h-1zM467.0 567.0h3v1h-3zM464.0 563.0h9v1h-9zM468.0 559.0h1v9h-1zM465.0 558.0h7v7h-7zM472.0 560.0h1v3h-1zM467.0 565.0h3v1h-3zM464.0 561.0h9v1h-9zM468.0 557.0h1v9h-1zM466.0 558.0h7v7h-7zM473.0 560.0h1v3h-1zM468.0 565.0h3v1h-3zM465.0 561.0h9v1h-9zM469.0 557.0h1v9h-1zM466.0 560.0h7v7h-7zM473.0 562.0h1v3h-1zM468.0 567.0h3v1h-3zM465.0 563.0h9v1h-9zM469.0 559.0h1v9h-1zM467.0 558.0h7v7h-7zM474.0 560.0h1v3h-1zM469.0 565.0h3v1h-3zM466.0 561.0h9v1h-9zM470.0 557.0h1v9h-1zM468.0 560.0h7v7h-7zM475.0 562.0h1v3h-1zM470.0 567.0h3v1h-3zM467.0 563.0h9v1h-9zM471.0 559.0h1v9h-1zM468.0 560.0h7v7h-7zM475.0 562.0h1v3h-1zM470.0 567.0h3v1h-3zM467.0 563.0h9v1h-9zM471.0 559.0h1v9h-1zM469.0 558.0h7v7h-7zM476.0 560.0h1v3h-1zM471.0 565.0h3v1h-3zM468.0 561.0h9v1h-9zM472.0 557.0h1v9h-1zM469.0 556.0h7v7h-7zM476.0 558.0h1v3h-1zM471.0 563.0h3v1h-3zM468.0 559.0h9v1h-9zM472.0 555.0h1v9h-1zM470.0 559.0h7v7h-7zM477.0 561.0h1v3h-1zM472.0 566.0h3v1h-3zM469.0 562.0h9v1h-9zM473.0 558.0h1v9h-1zM471.0 557.0h7v7h-7zM478.0 559.0h1v3h-1zM473.0 564.0h3v1h-3zM470.0 560.0h9v1h-9zM474.0 556.0h1v9h-1zM164.0 567.0h7v7h-7zM171.0 569.0h1v3h-1zM166.0 574.0h3v1h-3zM163.0 570.0h9v1h-9zM167.0 566.0h1v9h-1zM178.0 562.0h7v7h-7zM185.0 564.0h1v3h-1zM180.0 569.0h3v1h-3zM177.0 565.0h9v1h-9zM181.0 561.0h1v9h-1zM224.0 565.0h7v7h-7zM231.0 567.0h1v3h-1zM226.0 572.0h3v1h-3zM223.0 568.0h9v1h-9zM227.0 564.0h1v9h-1zM279.0 564.0h7v7h-7zM286.0 566.0h1v3h-1zM281.0 571.0h3v1h-3zM278.0 567.0h9v1h-9zM282.0 563.0h1v9h-1zM255.0 561.0h7v7h-7zM262.0 563.0h1v3h-1zM257.0 568.0h3v1h-3zM254.0 564.0h9v1h-9zM258.0 560.0h1v9h-1zM144.0 561.0h7v7h-7zM151.0 563.0h1v3h-1zM146.0 568.0h3v1h-3zM143.0 564.0h9v1h-9zM147.0 560.0h1v9h-1zM204.0 561.0h7v7h-7zM211.0 563.0h1v3h-1zM206.0 568.0h3v1h-3zM203.0 564.0h9v1h-9zM207.0 560.0h1v9h-1zM152.0 538.0h7v7h-7zM159.0 540.0h1v3h-1zM154.0 545.0h3v1h-3zM151.0 541.0h9v1h-9zM155.0 537.0h1v9h-1zM167.0 538.0h7v7h-7zM174.0 540.0h1v3h-1zM169.0 545.0h3v1h-3zM166.0 541.0h9v1h-9zM170.0 537.0h1v9h-1zM222.0 541.0h7v7h-7zM229.0 543.0h1v3h-1zM224.0 548.0h3v1h-3zM221.0 544.0h9v1h-9zM225.0 540.0h1v9h-1zM237.0 542.0h7v7h-7zM244.0 544.0h1v3h-1zM239.0 549.0h3v1h-3zM236.0 545.0h9v1h-9zM240.0 541.0h1v9h-1zM288.0 541.0h7v7h-7zM295.0 543.0h1v3h-1zM290.0 548.0h3v1h-3zM287.0 544.0h9v1h-9zM291.0 540.0h1v9h-1zM273.0 542.0h7v7h-7zM280.0 544.0h1v3h-1zM275.0 549.0h3v1h-3zM272.0 545.0h9v1h-9zM276.0 541.0h1v9h-1zM163.0 564.0h7v7h-7zM170.0 566.0h1v3h-1zM165.0 571.0h3v1h-3zM162.0 567.0h9v1h-9zM166.0 563.0h1v9h-1zM165.0 563.0h7v7h-7zM172.0 565.0h1v3h-1zM167.0 570.0h3v1h-3zM164.0 566.0h9v1h-9zM168.0 562.0h1v9h-1zM223.0 562.0h7v7h-7zM230.0 564.0h1v3h-1zM225.0 569.0h3v1h-3zM222.0 565.0h9v1h-9zM226.0 561.0h1v9h-1zM280.0 561.0h7v7h-7zM287.0 563.0h1v3h-1zM282.0 568.0h3v1h-3zM279.0 564.0h9v1h-9zM283.0 560.0h1v9h-1zM153.0 541.0h7v7h-7zM160.0 543.0h1v3h-1zM155.0 548.0h3v1h-3zM152.0 544.0h9v1h-9zM156.0 540.0h1v9h-1zM168.0 542.0h7v7h-7zM175.0 544.0h1v3h-1zM170.0 549.0h3v1h-3zM167.0 545.0h9v1h-9zM171.0 541.0h1v9h-1zM473.0 561.0h7v7h-7zM480.0 563.0h1v3h-1zM475.0 568.0h3v1h-3zM472.0 564.0h9v1h-9zM476.0 560.0h1v9h-1zM475.0 558.0h7v7h-7zM482.0 560.0h1v3h-1zM477.0 565.0h3v1h-3zM474.0 561.0h9v1h-9zM478.0 557.0h1v9h-1zM476.0 563.0h7v7h-7zM483.0 565.0h1v3h-1zM478.0 570.0h3v1h-3zM475.0 566.0h9v1h-9zM479.0 562.0h1v9h-1zM478.0 560.0h7v7h-7zM485.0 562.0h1v3h-1zM480.0 567.0h3v1h-3zM477.0 563.0h9v1h-9zM481.0 559.0h1v9h-1zM479.0 555.0h7v7h-7zM486.0 557.0h1v3h-1zM481.0 562.0h3v1h-3zM478.0 558.0h9v1h-9zM482.0 554.0h1v9h-1zM481.0 551.0h7v7h-7zM488.0 553.0h1v3h-1zM483.0 558.0h3v1h-3zM480.0 554.0h9v1h-9zM484.0 550.0h1v9h-1zM482.0 548.0h7v7h-7zM489.0 550.0h1v3h-1zM484.0 555.0h3v1h-3zM481.0 551.0h9v1h-9zM485.0 547.0h1v9h-1zM480.0 549.0h7v7h-7zM487.0 551.0h1v3h-1zM482.0 556.0h3v1h-3zM479.0 552.0h9v1h-9zM483.0 548.0h1v9h-1zM477.0 553.0h7v7h-7zM484.0 555.0h1v3h-1zM479.0 560.0h3v1h-3zM476.0 556.0h9v1h-9zM480.0 552.0h1v9h-1zM483.0 553.0h7v7h-7zM490.0 555.0h1v3h-1zM485.0 560.0h3v1h-3zM482.0 556.0h9v1h-9zM486.0 552.0h1v9h-1zM482.0 558.0h7v7h-7zM489.0 560.0h1v3h-1zM484.0 565.0h3v1h-3zM481.0 561.0h9v1h-9zM485.0 557.0h1v9h-1zM479.0 566.0h7v7h-7zM486.0 568.0h1v3h-1zM481.0 573.0h3v1h-3zM478.0 569.0h9v1h-9zM482.0 565.0h1v9h-1zM475.0 566.0h7v7h-7zM482.0 568.0h1v3h-1zM477.0 573.0h3v1h-3zM474.0 569.0h9v1h-9zM478.0 565.0h1v9h-1zM485.0 539.0h7v7h-7zM492.0 541.0h1v3h-1zM487.0 546.0h3v1h-3zM484.0 542.0h9v1h-9zM488.0 538.0h1v9h-1zM486.0 534.0h7v7h-7zM493.0 536.0h1v3h-1zM488.0 541.0h3v1h-3zM485.0 537.0h9v1h-9zM489.0 533.0h1v9h-1zM487.0 520.0h7v7h-7zM494.0 522.0h1v3h-1zM489.0 527.0h3v1h-3zM486.0 523.0h9v1h-9zM490.0 519.0h1v9h-1zM487.0 478.0h7v7h-7zM494.0 480.0h1v3h-1zM489.0 485.0h3v1h-3zM486.0 481.0h9v1h-9zM490.0 477.0h1v9h-1zM488.0 438.0h7v7h-7zM495.0 440.0h1v3h-1zM490.0 445.0h3v1h-3zM487.0 441.0h9v1h-9zM491.0 437.0h1v9h-1zM490.0 421.0h7v7h-7zM497.0 423.0h1v3h-1zM492.0 428.0h3v1h-3zM489.0 424.0h9v1h-9zM493.0 420.0h1v9h-1zM491.0 466.0h7v7h-7zM498.0 468.0h1v3h-1zM493.0 473.0h3v1h-3zM490.0 469.0h9v1h-9zM494.0 465.0h1v9h-1zM492.0 506.0h7v7h-7zM499.0 508.0h1v3h-1zM494.0 513.0h3v1h-3zM491.0 509.0h9v1h-9zM495.0 505.0h1v9h-1zM493.0 529.0h7v7h-7zM500.0 531.0h1v3h-1zM495.0 536.0h3v1h-3zM492.0 532.0h9v1h-9zM496.0 528.0h1v9h-1zM495.0 539.0h7v7h-7zM502.0 541.0h1v3h-1zM497.0 546.0h3v1h-3zM494.0 542.0h9v1h-9zM498.0 538.0h1v9h-1zM495.0 543.0h7v7h-7zM502.0 545.0h1v3h-1zM497.0 550.0h3v1h-3zM494.0 546.0h9v1h-9zM498.0 542.0h1v9h-1zM496.0 559.0h7v7h-7zM503.0 561.0h1v3h-1zM498.0 566.0h3v1h-3zM495.0 562.0h9v1h-9zM499.0 558.0h1v9h-1zM497.0 559.0h7v7h-7zM504.0 561.0h1v3h-1zM499.0 566.0h3v1h-3zM496.0 562.0h9v1h-9zM500.0 558.0h1v9h-1zM498.0 560.0h7v7h-7zM505.0 562.0h1v3h-1zM500.0 567.0h3v1h-3zM497.0 563.0h9v1h-9zM501.0 559.0h1v9h-1zM499.0 556.0h7v7h-7zM506.0 558.0h1v3h-1zM501.0 563.0h3v1h-3zM498.0 559.0h9v1h-9zM502.0 555.0h1v9h-1zM500.0 556.0h7v7h-7zM507.0 558.0h1v3h-1zM502.0 563.0h3v1h-3zM499.0 559.0h9v1h-9zM503.0 555.0h1v9h-1zM501.0 560.0h7v7h-7zM508.0 562.0h1v3h-1zM503.0 567.0h3v1h-3zM500.0 563.0h9v1h-9zM504.0 559.0h1v9h-1zM503.0 560.0h7v7h-7zM510.0 562.0h1v3h-1zM505.0 567.0h3v1h-3zM502.0 563.0h9v1h-9zM506.0 559.0h1v9h-1zM504.0 567.0h7v7h-7zM511.0 569.0h1v3h-1zM506.0 574.0h3v1h-3zM503.0 570.0h9v1h-9zM507.0 566.0h1v9h-1zM505.0 565.0h7v7h-7zM512.0 567.0h1v3h-1zM507.0 572.0h3v1h-3zM504.0 568.0h9v1h-9zM508.0 564.0h1v9h-1zM506.0 559.0h7v7h-7zM513.0 561.0h1v3h-1zM508.0 566.0h3v1h-3zM505.0 562.0h9v1h-9zM509.0 558.0h1v9h-1zM507.0 555.0h7v7h-7zM514.0 557.0h1v3h-1zM509.0 562.0h3v1h-3zM506.0 558.0h9v1h-9zM510.0 554.0h1v9h-1zM508.0 558.0h7v7h-7zM515.0 560.0h1v3h-1zM510.0 565.0h3v1h-3zM507.0 561.0h9v1h-9zM511.0 557.0h1v9h-1zM509.0 560.0h7v7h-7zM516.0 562.0h1v3h-1zM511.0 567.0h3v1h-3zM508.0 563.0h9v1h-9zM512.0 559.0h1v9h-1zM510.0 569.0h7v7h-7zM517.0 571.0h1v3h-1zM512.0 576.0h3v1h-3zM509.0 572.0h9v1h-9zM513.0 568.0h1v9h-1zM511.0 564.0h7v7h-7zM518.0 566.0h1v3h-1zM513.0 571.0h3v1h-3zM510.0 567.0h9v1h-9zM514.0 563.0h1v9h-1zM512.0 565.0h7v7h-7zM519.0 567.0h1v3h-1zM514.0 572.0h3v1h-3zM511.0 568.0h9v1h-9zM515.0 564.0h1v9h-1zM513.0 559.0h7v7h-7zM520.0 561.0h1v3h-1zM515.0 566.0h3v1h-3zM512.0 562.0h9v1h-9zM516.0 558.0h1v9h-1zM515.0 562.0h7v7h-7zM522.0 564.0h1v3h-1zM517.0 569.0h3v1h-3zM514.0 565.0h9v1h-9zM518.0 561.0h1v9h-1zM516.0 566.0h7v7h-7zM523.0 568.0h1v3h-1zM518.0 573.0h3v1h-3zM515.0 569.0h9v1h-9zM519.0 565.0h1v9h-1zM517.0 570.0h7v7h-7zM524.0 572.0h1v3h-1zM519.0 577.0h3v1h-3zM516.0 573.0h9v1h-9zM520.0 569.0h1v9h-1zM518.0 564.0h7v7h-7zM525.0 566.0h1v3h-1zM520.0 571.0h3v1h-3zM517.0 567.0h9v1h-9zM521.0 563.0h1v9h-1zM519.0 568.0h7v7h-7zM526.0 570.0h1v3h-1zM521.0 575.0h3v1h-3zM518.0 571.0h9v1h-9zM522.0 567.0h1v9h-1zM520.0 567.0h7v7h-7zM527.0 569.0h1v3h-1zM522.0 574.0h3v1h-3zM519.0 570.0h9v1h-9zM523.0 566.0h1v9h-1zM521.0 566.0h7v7h-7zM528.0 568.0h1v3h-1zM523.0 573.0h3v1h-3zM520.0 569.0h9v1h-9zM524.0 565.0h1v9h-1zM522.0 561.0h7v7h-7zM529.0 563.0h1v3h-1zM524.0 568.0h3v1h-3zM521.0 564.0h9v1h-9zM525.0 560.0h1v9h-1zM523.0 563.0h7v7h-7zM530.0 565.0h1v3h-1zM525.0 570.0h3v1h-3zM522.0 566.0h9v1h-9zM526.0 562.0h1v9h-1zM524.0 567.0h7v7h-7zM531.0 569.0h1v3h-1zM526.0 574.0h3v1h-3zM523.0 570.0h9v1h-9zM527.0 566.0h1v9h-1zM525.0 569.0h7v7h-7zM532.0 571.0h1v3h-1zM527.0 576.0h3v1h-3zM524.0 572.0h9v1h-9zM528.0 568.0h1v9h-1zM527.0 570.0h7v7h-7zM534.0 572.0h1v3h-1zM529.0 577.0h3v1h-3zM526.0 573.0h9v1h-9zM530.0 569.0h1v9h-1zM528.0 571.0h7v7h-7zM535.0 573.0h1v3h-1zM530.0 578.0h3v1h-3zM527.0 574.0h9v1h-9zM531.0 570.0h1v9h-1zM529.0 563.0h7v7h-7zM536.0 565.0h1v3h-1zM531.0 570.0h3v1h-3zM528.0 566.0h9v1h-9zM532.0 562.0h1v9h-1zM530.0 566.0h7v7h-7zM537.0 568.0h1v3h-1zM532.0 573.0h3v1h-3zM529.0 569.0h9v1h-9zM533.0 565.0h1v9h-1zM531.0 571.0h7v7h-7zM538.0 573.0h1v3h-1zM533.0 578.0h3v1h-3zM530.0 574.0h9v1h-9zM534.0 570.0h1v9h-1zM532.0 561.0h7v7h-7zM539.0 563.0h1v3h-1zM534.0 568.0h3v1h-3zM531.0 564.0h9v1h-9zM535.0 560.0h1v9h-1zM533.0 569.0h7v7h-7zM540.0 571.0h1v3h-1zM535.0 576.0h3v1h-3zM532.0 572.0h9v1h-9zM536.0 568.0h1v9h-1zM534.0 564.0h7v7h-7zM541.0 566.0h1v3h-1zM536.0 571.0h3v1h-3zM533.0 567.0h9v1h-9zM537.0 563.0h1v9h-1zM535.0 568.0h7v7h-7zM542.0 570.0h1v3h-1zM537.0 575.0h3v1h-3zM534.0 571.0h9v1h-9zM538.0 567.0h1v9h-1zM536.0 567.0h7v7h-7zM543.0 569.0h1v3h-1zM538.0 574.0h3v1h-3zM535.0 570.0h9v1h-9zM539.0 566.0h1v9h-1zM537.0 563.0h7v7h-7zM544.0 565.0h1v3h-1zM539.0 570.0h3v1h-3zM536.0 566.0h9v1h-9zM540.0 562.0h1v9h-1zM539.0 564.0h7v7h-7zM546.0 566.0h1v3h-1zM541.0 571.0h3v1h-3zM538.0 567.0h9v1h-9zM542.0 563.0h1v9h-1zM540.0 566.0h7v7h-7zM547.0 568.0h1v3h-1zM542.0 573.0h3v1h-3zM539.0 569.0h9v1h-9zM543.0 565.0h1v9h-1zM541.0 567.0h7v7h-7zM548.0 569.0h1v3h-1zM543.0 574.0h3v1h-3zM540.0 570.0h9v1h-9zM544.0 566.0h1v9h-1zM542.0 568.0h7v7h-7zM549.0 570.0h1v3h-1zM544.0 575.0h3v1h-3zM541.0 571.0h9v1h-9zM545.0 567.0h1v9h-1zM543.0 569.0h7v7h-7zM550.0 571.0h1v3h-1zM545.0 576.0h3v1h-3zM542.0 572.0h9v1h-9zM546.0 568.0h1v9h-1zM544.0 566.0h7v7h-7zM551.0 568.0h1v3h-1zM546.0 573.0h3v1h-3zM543.0 569.0h9v1h-9zM547.0 565.0h1v9h-1zM545.0 564.0h7v7h-7zM552.0 566.0h1v3h-1zM547.0 571.0h3v1h-3zM544.0 567.0h9v1h-9zM548.0 563.0h1v9h-1zM546.0 567.0h7v7h-7zM553.0 569.0h1v3h-1zM548.0 574.0h3v1h-3zM545.0 570.0h9v1h-9zM549.0 566.0h1v9h-1zM547.0 573.0h7v7h-7zM554.0 575.0h1v3h-1zM549.0 580.0h3v1h-3zM546.0 576.0h9v1h-9zM550.0 572.0h1v9h-1zM548.0 562.0h7v7h-7zM555.0 564.0h1v3h-1zM550.0 569.0h3v1h-3zM547.0 565.0h9v1h-9zM551.0 561.0h1v9h-1zM549.0 559.0h7v7h-7zM556.0 561.0h1v3h-1zM551.0 566.0h3v1h-3zM548.0 562.0h9v1h-9zM552.0 558.0h1v9h-1zM551.0 571.0h7v7h-7zM558.0 573.0h1v3h-1zM553.0 578.0h3v1h-3zM550.0 574.0h9v1h-9zM554.0 570.0h1v9h-1zM552.0 568.0h7v7h-7zM559.0 570.0h1v3h-1zM554.0 575.0h3v1h-3zM551.0 571.0h9v1h-9zM555.0 567.0h1v9h-1zM553.0 566.0h7v7h-7zM560.0 568.0h1v3h-1zM555.0 573.0h3v1h-3zM552.0 569.0h9v1h-9zM556.0 565.0h1v9h-1zM554.0 568.0h7v7h-7zM561.0 570.0h1v3h-1zM556.0 575.0h3v1h-3zM553.0 571.0h9v1h-9zM557.0 567.0h1v9h-1zM555.0 578.0h7v7h-7zM562.0 580.0h1v3h-1zM557.0 585.0h3v1h-3zM554.0 581.0h9v1h-9zM558.0 577.0h1v9h-1zM556.0 568.0h7v7h-7zM563.0 570.0h1v3h-1zM558.0 575.0h3v1h-3zM555.0 571.0h9v1h-9zM559.0 567.0h1v9h-1zM557.0 573.0h7v7h-7zM564.0 575.0h1v3h-1zM559.0 580.0h3v1h-3zM556.0 576.0h9v1h-9zM560.0 572.0h1v9h-1zM558.0 571.0h7v7h-7zM565.0 573.0h1v3h-1zM560.0 578.0h3v1h-3zM557.0 574.0h9v1h-9zM561.0 570.0h1v9h-1zM559.0 566.0h7v7h-7zM566.0 568.0h1v3h-1zM561.0 573.0h3v1h-3zM558.0 569.0h9v1h-9zM562.0 565.0h1v9h-1zM560.0 569.0h7v7h-7zM567.0 571.0h1v3h-1zM562.0 576.0h3v1h-3zM559.0 572.0h9v1h-9zM563.0 568.0h1v9h-1zM561.0 572.0h7v7h-7zM568.0 574.0h1v3h-1zM563.0 579.0h3v1h-3zM560.0 575.0h9v1h-9zM564.0 571.0h1v9h-1zM563.0 572.0h7v7h-7zM570.0 574.0h1v3h-1zM565.0 579.0h3v1h-3zM562.0 575.0h9v1h-9zM566.0 571.0h1v9h-1zM564.0 573.0h7v7h-7zM571.0 575.0h1v3h-1zM566.0 580.0h3v1h-3zM563.0 576.0h9v1h-9zM567.0 572.0h1v9h-1zM565.0 566.0h7v7h-7zM572.0 568.0h1v3h-1zM567.0 573.0h3v1h-3zM564.0 569.0h9v1h-9zM568.0 565.0h1v9h-1zM566.0 565.0h7v7h-7zM573.0 567.0h1v3h-1zM568.0 572.0h3v1h-3zM565.0 568.0h9v1h-9zM569.0 564.0h1v9h-1zM567.0 569.0h7v7h-7zM574.0 571.0h1v3h-1zM569.0 576.0h3v1h-3zM566.0 572.0h9v1h-9zM570.0 568.0h1v9h-1zM568.0 573.0h7v7h-7zM575.0 575.0h1v3h-1zM570.0 580.0h3v1h-3zM567.0 576.0h9v1h-9zM571.0 572.0h1v9h-1zM569.0 569.0h7v7h-7zM576.0 571.0h1v3h-1zM571.0 576.0h3v1h-3zM568.0 572.0h9v1h-9zM572.0 568.0h1v9h-1zM570.0 580.0h7v7h-7zM577.0 582.0h1v3h-1zM572.0 587.0h3v1h-3zM569.0 583.0h9v1h-9zM573.0 579.0h1v9h-1zM571.0 574.0h7v7h-7zM578.0 576.0h1v3h-1zM573.0 581.0h3v1h-3zM570.0 577.0h9v1h-9zM574.0 573.0h1v9h-1zM572.0 574.0h7v7h-7zM579.0 576.0h1v3h-1zM574.0 581.0h3v1h-3zM571.0 577.0h9v1h-9zM575.0 573.0h1v9h-1zM573.0 571.0h7v7h-7zM580.0 573.0h1v3h-1zM575.0 578.0h3v1h-3zM572.0 574.0h9v1h-9zM576.0 570.0h1v9h-1zM575.0 570.0h7v7h-7zM582.0 572.0h1v3h-1zM577.0 577.0h3v1h-3zM574.0 573.0h9v1h-9zM578.0 569.0h1v9h-1zM576.0 570.0h7v7h-7zM583.0 572.0h1v3h-1zM578.0 577.0h3v1h-3zM575.0 573.0h9v1h-9zM579.0 569.0h1v9h-1zM577.0 567.0h7v7h-7zM584.0 569.0h1v3h-1zM579.0 574.0h3v1h-3zM576.0 570.0h9v1h-9zM580.0 566.0h1v9h-1zM578.0 569.0h7v7h-7zM585.0 571.0h1v3h-1zM580.0 576.0h3v1h-3zM577.0 572.0h9v1h-9zM581.0 568.0h1v9h-1zM579.0 575.0h7v7h-7zM586.0 577.0h1v3h-1zM581.0 582.0h3v1h-3zM578.0 578.0h9v1h-9zM582.0 574.0h1v9h-1zM580.0 571.0h7v7h-7zM587.0 573.0h1v3h-1zM582.0 578.0h3v1h-3zM579.0 574.0h9v1h-9zM583.0 570.0h1v9h-1zM581.0 569.0h7v7h-7zM588.0 571.0h1v3h-1zM583.0 576.0h3v1h-3zM580.0 572.0h9v1h-9zM584.0 568.0h1v9h-1zM582.0 579.0h7v7h-7zM589.0 581.0h1v3h-1zM584.0 586.0h3v1h-3zM581.0 582.0h9v1h-9zM585.0 578.0h1v9h-1zM583.0 569.0h7v7h-7zM590.0 571.0h1v3h-1zM585.0 576.0h3v1h-3zM582.0 572.0h9v1h-9zM586.0 568.0h1v9h-1zM584.0 574.0h7v7h-7zM591.0 576.0h1v3h-1zM586.0 581.0h3v1h-3zM583.0 577.0h9v1h-9zM587.0 573.0h1v9h-1zM585.0 578.0h7v7h-7zM592.0 580.0h1v3h-1zM587.0 585.0h3v1h-3zM584.0 581.0h9v1h-9zM588.0 577.0h1v9h-1zM587.0 578.0h7v7h-7zM594.0 580.0h1v3h-1zM589.0 585.0h3v1h-3zM586.0 581.0h9v1h-9zM590.0 577.0h1v9h-1zM588.0 573.0h7v7h-7zM595.0 575.0h1v3h-1zM590.0 580.0h3v1h-3zM587.0 576.0h9v1h-9zM591.0 572.0h1v9h-1zM589.0 576.0h7v7h-7zM596.0 578.0h1v3h-1zM591.0 583.0h3v1h-3zM588.0 579.0h9v1h-9zM592.0 575.0h1v9h-1zM590.0 571.0h7v7h-7zM597.0 573.0h1v3h-1zM592.0 578.0h3v1h-3zM589.0 574.0h9v1h-9zM593.0 570.0h1v9h-1zM591.0 576.0h7v7h-7zM598.0 578.0h1v3h-1zM593.0 583.0h3v1h-3zM590.0 579.0h9v1h-9zM594.0 575.0h1v9h-1zM592.0 577.0h7v7h-7zM599.0 579.0h1v3h-1zM594.0 584.0h3v1h-3zM591.0 580.0h9v1h-9zM595.0 576.0h1v9h-1zM593.0 573.0h7v7h-7zM600.0 575.0h1v3h-1zM595.0 580.0h3v1h-3zM592.0 576.0h9v1h-9zM596.0 572.0h1v9h-1zM594.0 583.0h7v7h-7zM601.0 585.0h1v3h-1zM596.0 590.0h3v1h-3zM593.0 586.0h9v1h-9zM597.0 582.0h1v9h-1zM595.0 584.0h7v7h-7zM602.0 586.0h1v3h-1zM597.0 591.0h3v1h-3zM594.0 587.0h9v1h-9zM598.0 583.0h1v9h-1zM596.0 573.0h7v7h-7zM603.0 575.0h1v3h-1zM598.0 580.0h3v1h-3zM595.0 576.0h9v1h-9zM599.0 572.0h1v9h-1zM597.0 582.0h7v7h-7zM604.0 584.0h1v3h-1zM599.0 589.0h3v1h-3zM596.0 585.0h9v1h-9zM600.0 581.0h1v9h-1zM599.0 578.0h7v7h-7zM606.0 580.0h1v3h-1zM601.0 585.0h3v1h-3zM598.0 581.0h9v1h-9zM602.0 577.0h1v9h-1zM600.0 584.0h7v7h-7zM607.0 586.0h1v3h-1zM602.0 591.0h3v1h-3zM599.0 587.0h9v1h-9zM603.0 583.0h1v9h-1zM601.0 585.0h7v7h-7zM608.0 587.0h1v3h-1zM603.0 592.0h3v1h-3zM600.0 588.0h9v1h-9zM604.0 584.0h1v9h-1zM602.0 579.0h7v7h-7zM609.0 581.0h1v3h-1zM604.0 586.0h3v1h-3zM601.0 582.0h9v1h-9zM605.0 578.0h1v9h-1zM603.0 583.0h7v7h-7zM610.0 585.0h1v3h-1zM605.0 590.0h3v1h-3zM602.0 586.0h9v1h-9zM606.0 582.0h1v9h-1zM604.0 578.0h7v7h-7zM611.0 580.0h1v3h-1zM606.0 585.0h3v1h-3zM603.0 581.0h9v1h-9zM607.0 577.0h1v9h-1zM605.0 577.0h7v7h-7zM612.0 579.0h1v3h-1zM607.0 584.0h3v1h-3zM604.0 580.0h9v1h-9zM608.0 576.0h1v9h-1zM606.0 583.0h7v7h-7zM613.0 585.0h1v3h-1zM608.0 590.0h3v1h-3zM605.0 586.0h9v1h-9zM609.0 582.0h1v9h-1zM607.0 583.0h7v7h-7zM614.0 585.0h1v3h-1zM609.0 590.0h3v1h-3zM606.0 586.0h9v1h-9zM610.0 582.0h1v9h-1zM608.0 583.0h7v7h-7zM615.0 585.0h1v3h-1zM610.0 590.0h3v1h-3zM607.0 586.0h9v1h-9zM611.0 582.0h1v9h-1zM609.0 578.0h7v7h-7zM616.0 580.0h1v3h-1zM611.0 585.0h3v1h-3zM608.0 581.0h9v1h-9zM612.0 577.0h1v9h-1zM611.0 579.0h7v7h-7zM618.0 581.0h1v3h-1zM613.0 586.0h3v1h-3zM610.0 582.0h9v1h-9zM614.0 578.0h1v9h-1zM612.0 579.0h7v7h-7zM619.0 581.0h1v3h-1zM614.0 586.0h3v1h-3zM611.0 582.0h9v1h-9zM615.0 578.0h1v9h-1zM613.0 588.0h7v7h-7zM620.0 590.0h1v3h-1zM615.0 595.0h3v1h-3zM612.0 591.0h9v1h-9zM616.0 587.0h1v9h-1zM614.0 578.0h7v7h-7zM621.0 580.0h1v3h-1zM616.0 585.0h3v1h-3zM613.0 581.0h9v1h-9zM617.0 577.0h1v9h-1zM615.0 585.0h7v7h-7zM622.0 587.0h1v3h-1zM617.0 592.0h3v1h-3zM614.0 588.0h9v1h-9zM618.0 584.0h1v9h-1zM616.0 579.0h7v7h-7zM623.0 581.0h1v3h-1zM618.0 586.0h3v1h-3zM615.0 582.0h9v1h-9zM619.0 578.0h1v9h-1zM617.0 585.0h7v7h-7zM624.0 587.0h1v3h-1zM619.0 592.0h3v1h-3zM616.0 588.0h9v1h-9zM620.0 584.0h1v9h-1zM618.0 580.0h7v7h-7zM625.0 582.0h1v3h-1zM620.0 587.0h3v1h-3zM617.0 583.0h9v1h-9zM621.0 579.0h1v9h-1zM619.0 579.0h7v7h-7zM626.0 581.0h1v3h-1zM621.0 586.0h3v1h-3zM618.0 582.0h9v1h-9zM622.0 578.0h1v9h-1zM620.0 584.0h7v7h-7zM627.0 586.0h1v3h-1zM622.0 591.0h3v1h-3zM619.0 587.0h9v1h-9zM623.0 583.0h1v9h-1zM621.0 579.0h7v7h-7zM628.0 581.0h1v3h-1zM623.0 586.0h3v1h-3zM620.0 582.0h9v1h-9zM624.0 578.0h1v9h-1zM623.0 588.0h7v7h-7zM630.0 590.0h1v3h-1zM625.0 595.0h3v1h-3zM622.0 591.0h9v1h-9zM626.0 587.0h1v9h-1zM624.0 594.0h7v7h-7zM631.0 596.0h1v3h-1zM626.0 601.0h3v1h-3zM623.0 597.0h9v1h-9zM627.0 593.0h1v9h-1zM625.0 594.0h7v7h-7zM632.0 596.0h1v3h-1zM627.0 601.0h3v1h-3zM624.0 597.0h9v1h-9zM628.0 593.0h1v9h-1zM626.0 589.0h7v7h-7zM633.0 591.0h1v3h-1zM628.0 596.0h3v1h-3zM625.0 592.0h9v1h-9zM629.0 588.0h1v9h-1zM627.0 582.0h7v7h-7zM634.0 584.0h1v3h-1zM629.0 589.0h3v1h-3zM626.0 585.0h9v1h-9zM630.0 581.0h1v9h-1zM628.0 588.0h7v7h-7zM635.0 590.0h1v3h-1zM630.0 595.0h3v1h-3zM627.0 591.0h9v1h-9zM631.0 587.0h1v9h-1zM629.0 584.0h7v7h-7zM636.0 586.0h1v3h-1zM631.0 591.0h3v1h-3zM628.0 587.0h9v1h-9zM632.0 583.0h1v9h-1zM630.0 599.0h7v7h-7zM637.0 601.0h1v3h-1zM632.0 606.0h3v1h-3zM629.0 602.0h9v1h-9zM633.0 598.0h1v9h-1zM631.0 587.0h7v7h-7zM638.0 589.0h1v3h-1zM633.0 594.0h3v1h-3zM630.0 590.0h9v1h-9zM634.0 586.0h1v9h-1zM632.0 590.0h7v7h-7zM639.0 592.0h1v3h-1zM634.0 597.0h3v1h-3zM631.0 593.0h9v1h-9zM635.0 589.0h1v9h-1zM633.0 591.0h7v7h-7zM640.0 593.0h1v3h-1zM635.0 598.0h3v1h-3zM632.0 594.0h9v1h-9zM636.0 590.0h1v9h-1zM635.0 583.0h7v7h-7zM642.0 585.0h1v3h-1zM637.0 590.0h3v1h-3zM634.0 586.0h9v1h-9zM638.0 582.0h1v9h-1zM636.0 586.0h7v7h-7zM643.0 588.0h1v3h-1zM638.0 593.0h3v1h-3zM635.0 589.0h9v1h-9zM639.0 585.0h1v9h-1zM637.0 591.0h7v7h-7zM644.0 593.0h1v3h-1zM639.0 598.0h3v1h-3zM636.0 594.0h9v1h-9zM640.0 590.0h1v9h-1zM638.0 590.0h7v7h-7zM645.0 592.0h1v3h-1zM640.0 597.0h3v1h-3zM637.0 593.0h9v1h-9zM641.0 589.0h1v9h-1zM639.0 588.0h7v7h-7zM646.0 590.0h1v3h-1zM641.0 595.0h3v1h-3zM638.0 591.0h9v1h-9zM642.0 587.0h1v9h-1zM640.0 590.0h7v7h-7zM647.0 592.0h1v3h-1zM642.0 597.0h3v1h-3zM639.0 593.0h9v1h-9zM643.0 589.0h1v9h-1zM641.0 589.0h7v7h-7zM648.0 591.0h1v3h-1zM643.0 596.0h3v1h-3zM640.0 592.0h9v1h-9zM644.0 588.0h1v9h-1zM642.0 592.0h7v7h-7zM649.0 594.0h1v3h-1zM644.0 599.0h3v1h-3zM641.0 595.0h9v1h-9zM645.0 591.0h1v9h-1zM643.0 594.0h7v7h-7zM650.0 596.0h1v3h-1zM645.0 601.0h3v1h-3zM642.0 597.0h9v1h-9zM646.0 593.0h1v9h-1zM644.0 586.0h7v7h-7zM651.0 588.0h1v3h-1zM646.0 593.0h3v1h-3zM643.0 589.0h9v1h-9zM647.0 585.0h1v9h-1zM645.0 597.0h7v7h-7zM652.0 599.0h1v3h-1zM647.0 604.0h3v1h-3zM644.0 600.0h9v1h-9zM648.0 596.0h1v9h-1zM647.0 601.0h7v7h-7zM654.0 603.0h1v3h-1zM649.0 608.0h3v1h-3zM646.0 604.0h9v1h-9zM650.0 600.0h1v9h-1zM648.0 595.0h7v7h-7zM655.0 597.0h1v3h-1zM650.0 602.0h3v1h-3zM647.0 598.0h9v1h-9zM651.0 594.0h1v9h-1zM649.0 590.0h7v7h-7zM656.0 592.0h1v3h-1zM651.0 597.0h3v1h-3zM648.0 593.0h9v1h-9zM652.0 589.0h1v9h-1zM650.0 597.0h7v7h-7zM657.0 599.0h1v3h-1zM652.0 604.0h3v1h-3zM649.0 600.0h9v1h-9zM653.0 596.0h1v9h-1zM651.0 598.0h7v7h-7zM658.0 600.0h1v3h-1zM653.0 605.0h3v1h-3zM650.0 601.0h9v1h-9zM654.0 597.0h1v9h-1zM652.0 601.0h7v7h-7zM659.0 603.0h1v3h-1zM654.0 608.0h3v1h-3zM651.0 604.0h9v1h-9zM655.0 600.0h1v9h-1zM653.0 591.0h7v7h-7zM660.0 593.0h1v3h-1zM655.0 598.0h3v1h-3zM652.0 594.0h9v1h-9zM656.0 590.0h1v9h-1zM654.0 593.0h7v7h-7zM661.0 595.0h1v3h-1zM656.0 600.0h3v1h-3zM653.0 596.0h9v1h-9zM657.0 592.0h1v9h-1zM655.0 604.0h7v7h-7zM662.0 606.0h1v3h-1zM657.0 611.0h3v1h-3zM654.0 607.0h9v1h-9zM658.0 603.0h1v9h-1zM656.0 596.0h7v7h-7zM663.0 598.0h1v3h-1zM658.0 603.0h3v1h-3zM655.0 599.0h9v1h-9zM659.0 595.0h1v9h-1zM657.0 598.0h7v7h-7zM664.0 600.0h1v3h-1zM659.0 605.0h3v1h-3zM656.0 601.0h9v1h-9zM660.0 597.0h1v9h-1zM659.0 602.0h7v7h-7zM666.0 604.0h1v3h-1zM661.0 609.0h3v1h-3zM658.0 605.0h9v1h-9zM662.0 601.0h1v9h-1zM660.0 603.0h7v7h-7zM667.0 605.0h1v3h-1zM662.0 610.0h3v1h-3zM659.0 606.0h9v1h-9zM663.0 602.0h1v9h-1zM661.0 595.0h7v7h-7zM668.0 597.0h1v3h-1zM663.0 602.0h3v1h-3zM660.0 598.0h9v1h-9zM664.0 594.0h1v9h-1zM662.0 598.0h7v7h-7zM669.0 600.0h1v3h-1zM664.0 605.0h3v1h-3zM661.0 601.0h9v1h-9zM665.0 597.0h1v9h-1zM663.0 604.0h7v7h-7zM670.0 606.0h1v3h-1zM665.0 611.0h3v1h-3zM662.0 607.0h9v1h-9zM666.0 603.0h1v9h-1zM664.0 610.0h7v7h-7zM671.0 612.0h1v3h-1zM666.0 617.0h3v1h-3zM663.0 613.0h9v1h-9zM667.0 609.0h1v9h-1zM665.0 603.0h7v7h-7zM672.0 605.0h1v3h-1zM667.0 610.0h3v1h-3zM664.0 606.0h9v1h-9zM668.0 602.0h1v9h-1zM666.0 602.0h7v7h-7zM673.0 604.0h1v3h-1zM668.0 609.0h3v1h-3zM665.0 605.0h9v1h-9zM669.0 601.0h1v9h-1zM667.0 602.0h7v7h-7zM674.0 604.0h1v3h-1zM669.0 609.0h3v1h-3zM666.0 605.0h9v1h-9zM670.0 601.0h1v9h-1zM668.0 610.0h7v7h-7zM675.0 612.0h1v3h-1zM670.0 617.0h3v1h-3zM667.0 613.0h9v1h-9zM671.0 609.0h1v9h-1zM669.0 603.0h7v7h-7zM676.0 605.0h1v3h-1zM671.0 610.0h3v1h-3zM668.0 606.0h9v1h-9zM672.0 602.0h1v9h-1zM671.0 604.0h7v7h-7zM678.0 606.0h1v3h-1zM673.0 611.0h3v1h-3zM670.0 607.0h9v1h-9zM674.0 603.0h1v9h-1zM672.0 613.0h7v7h-7zM679.0 615.0h1v3h-1zM674.0 620.0h3v1h-3zM671.0 616.0h9v1h-9zM675.0 612.0h1v9h-1zM673.0 614.0h7v7h-7zM680.0 616.0h1v3h-1zM675.0 621.0h3v1h-3zM672.0 617.0h9v1h-9zM676.0 613.0h1v9h-1zM674.0 617.0h7v7h-7zM681.0 619.0h1v3h-1zM676.0 624.0h3v1h-3zM673.0 620.0h9v1h-9zM677.0 616.0h1v9h-1zM675.0 605.0h7v7h-7zM682.0 607.0h1v3h-1zM677.0 612.0h3v1h-3zM674.0 608.0h9v1h-9zM678.0 604.0h1v9h-1zM676.0 617.0h7v7h-7zM683.0 619.0h1v3h-1zM678.0 624.0h3v1h-3zM675.0 620.0h9v1h-9zM679.0 616.0h1v9h-1zM677.0 605.0h7v7h-7zM684.0 607.0h1v3h-1zM679.0 612.0h3v1h-3zM676.0 608.0h9v1h-9zM680.0 604.0h1v9h-1zM678.0 612.0h7v7h-7zM685.0 614.0h1v3h-1zM680.0 619.0h3v1h-3zM677.0 615.0h9v1h-9zM681.0 611.0h1v9h-1zM679.0 605.0h7v7h-7zM686.0 607.0h1v3h-1zM681.0 612.0h3v1h-3zM678.0 608.0h9v1h-9zM682.0 604.0h1v9h-1zM680.0 616.0h7v7h-7zM687.0 618.0h1v3h-1zM682.0 623.0h3v1h-3zM679.0 619.0h9v1h-9zM683.0 615.0h1v9h-1zM681.0 606.0h7v7h-7zM688.0 608.0h1v3h-1zM683.0 613.0h3v1h-3zM680.0 609.0h9v1h-9zM684.0 605.0h1v9h-1zM683.0 618.0h7v7h-7zM690.0 620.0h1v3h-1zM685.0 625.0h3v1h-3zM682.0 621.0h9v1h-9zM686.0 617.0h1v9h-1zM684.0 615.0h7v7h-7zM691.0 617.0h1v3h-1zM686.0 622.0h3v1h-3zM683.0 618.0h9v1h-9zM687.0 614.0h1v9h-1zM685.0 621.0h7v7h-7zM692.0 623.0h1v3h-1zM687.0 628.0h3v1h-3zM684.0 624.0h9v1h-9zM688.0 620.0h1v9h-1zM686.0 612.0h7v7h-7zM693.0 614.0h1v3h-1zM688.0 619.0h3v1h-3zM685.0 615.0h9v1h-9zM689.0 611.0h1v9h-1zM687.0 614.0h7v7h-7zM694.0 616.0h1v3h-1zM689.0 621.0h3v1h-3zM686.0 617.0h9v1h-9zM690.0 613.0h1v9h-1zM688.0 612.0h7v7h-7zM695.0 614.0h1v3h-1zM690.0 619.0h3v1h-3zM687.0 615.0h9v1h-9zM691.0 611.0h1v9h-1zM689.0 619.0h7v7h-7zM696.0 621.0h1v3h-1zM691.0 626.0h3v1h-3zM688.0 622.0h9v1h-9zM692.0 618.0h1v9h-1zM690.0 612.0h7v7h-7zM697.0 614.0h1v3h-1zM692.0 619.0h3v1h-3zM689.0 615.0h9v1h-9zM693.0 611.0h1v9h-1zM691.0 625.0h7v7h-7zM698.0 627.0h1v3h-1zM693.0 632.0h3v1h-3zM690.0 628.0h9v1h-9zM694.0 624.0h1v9h-1zM692.0 622.0h7v7h-7zM699.0 624.0h1v3h-1zM694.0 629.0h3v1h-3zM691.0 625.0h9v1h-9zM695.0 621.0h1v9h-1zM693.0 624.0h7v7h-7zM700.0 626.0h1v3h-1zM695.0 631.0h3v1h-3zM692.0 627.0h9v1h-9zM696.0 623.0h1v9h-1zM695.0 615.0h7v7h-7zM702.0 617.0h1v3h-1zM697.0 622.0h3v1h-3zM694.0 618.0h9v1h-9zM698.0 614.0h1v9h-1zM696.0 629.0h7v7h-7zM703.0 631.0h1v3h-1zM698.0 636.0h3v1h-3zM695.0 632.0h9v1h-9zM699.0 628.0h1v9h-1zM697.0 616.0h7v7h-7zM704.0 618.0h1v3h-1zM699.0 623.0h3v1h-3zM696.0 619.0h9v1h-9zM700.0 615.0h1v9h-1zM698.0 629.0h7v7h-7zM705.0 631.0h1v3h-1zM700.0 636.0h3v1h-3zM697.0 632.0h9v1h-9zM701.0 628.0h1v9h-1zM699.0 619.0h7v7h-7zM706.0 621.0h1v3h-1zM701.0 626.0h3v1h-3zM698.0 622.0h9v1h-9zM702.0 618.0h1v9h-1zM700.0 621.0h7v7h-7zM707.0 623.0h1v3h-1zM702.0 628.0h3v1h-3zM699.0 624.0h9v1h-9zM703.0 620.0h1v9h-1zM701.0 628.0h7v7h-7zM708.0 630.0h1v3h-1zM703.0 635.0h3v1h-3zM700.0 631.0h9v1h-9zM704.0 627.0h1v9h-1zM702.0 623.0h7v7h-7zM709.0 625.0h1v3h-1zM704.0 630.0h3v1h-3zM701.0 626.0h9v1h-9zM705.0 622.0h1v9h-1zM703.0 633.0h7v7h-7zM710.0 635.0h1v3h-1zM705.0 640.0h3v1h-3zM702.0 636.0h9v1h-9zM706.0 632.0h1v9h-1zM704.0 639.0h7v7h-7zM711.0 641.0h1v3h-1zM706.0 646.0h3v1h-3zM703.0 642.0h9v1h-9zM707.0 638.0h1v9h-1zM705.0 632.0h7v7h-7zM712.0 634.0h1v3h-1zM707.0 639.0h3v1h-3zM704.0 635.0h9v1h-9zM708.0 631.0h1v9h-1zM707.0 637.0h7v7h-7zM714.0 639.0h1v3h-1zM709.0 644.0h3v1h-3zM706.0 640.0h9v1h-9zM710.0 636.0h1v9h-1zM708.0 630.0h7v7h-7zM715.0 632.0h1v3h-1zM710.0 637.0h3v1h-3zM707.0 633.0h9v1h-9zM711.0 629.0h1v9h-1zM709.0 635.0h7v7h-7zM716.0 637.0h1v3h-1zM711.0 642.0h3v1h-3zM708.0 638.0h9v1h-9zM712.0 634.0h1v9h-1zM710.0 637.0h7v7h-7zM717.0 639.0h1v3h-1zM712.0 644.0h3v1h-3zM709.0 640.0h9v1h-9zM713.0 636.0h1v9h-1zM711.0 631.0h7v7h-7zM718.0 633.0h1v3h-1zM713.0 638.0h3v1h-3zM710.0 634.0h9v1h-9zM714.0 630.0h1v9h-1zM712.0 638.0h7v7h-7zM719.0 640.0h1v3h-1zM714.0 645.0h3v1h-3zM711.0 641.0h9v1h-9zM715.0 637.0h1v9h-1zM713.0 629.0h7v7h-7zM720.0 631.0h1v3h-1zM715.0 636.0h3v1h-3zM712.0 632.0h9v1h-9zM716.0 628.0h1v9h-1zM714.0 629.0h7v7h-7zM721.0 631.0h1v3h-1zM716.0 636.0h3v1h-3zM713.0 632.0h9v1h-9zM717.0 628.0h1v9h-1zM715.0 629.0h7v7h-7zM722.0 631.0h1v3h-1zM717.0 636.0h3v1h-3zM714.0 632.0h9v1h-9zM718.0 628.0h1v9h-1zM716.0 645.0h7v7h-7zM723.0 647.0h1v3h-1zM718.0 652.0h3v1h-3zM715.0 648.0h9v1h-9zM719.0 644.0h1v9h-1zM717.0 648.0h7v7h-7zM724.0 650.0h1v3h-1zM719.0 655.0h3v1h-3zM716.0 651.0h9v1h-9zM720.0 647.0h1v9h-1zM719.0 644.0h7v7h-7zM726.0 646.0h1v3h-1zM721.0 651.0h3v1h-3zM718.0 647.0h9v1h-9zM722.0 643.0h1v9h-1zM657.0 615.0h7v7h-7zM664.0 617.0h1v3h-1zM659.0 622.0h3v1h-3zM656.0 618.0h9v1h-9zM660.0 614.0h1v9h-1zM662.0 589.0h7v7h-7zM669.0 591.0h1v3h-1zM664.0 596.0h3v1h-3zM661.0 592.0h9v1h-9zM665.0 588.0h1v9h-1zM712.0 620.0h7v7h-7zM719.0 622.0h1v3h-1zM714.0 627.0h3v1h-3zM711.0 623.0h9v1h-9zM715.0 619.0h1v9h-1zM720.0 629.0h7v7h-7zM727.0 631.0h1v3h-1zM722.0 636.0h3v1h-3zM719.0 632.0h9v1h-9zM723.0 628.0h1v9h-1zM584.0 588.0h7v7h-7zM591.0 590.0h1v3h-1zM586.0 595.0h3v1h-3zM583.0 591.0h9v1h-9zM587.0 587.0h1v9h-1zM500.0 568.0h7v7h-7zM507.0 570.0h1v3h-1zM502.0 575.0h3v1h-3zM499.0 571.0h9v1h-9zM503.0 567.0h1v9h-1zM505.0 569.0h7v7h-7zM512.0 571.0h1v3h-1zM507.0 576.0h3v1h-3zM504.0 572.0h9v1h-9zM508.0 568.0h1v9h-1zM509.0 570.0h7v7h-7zM516.0 572.0h1v3h-1zM511.0 577.0h3v1h-3zM508.0 573.0h9v1h-9zM512.0 569.0h1v9h-1zM719.0 641.0h7v7h-7zM726.0 643.0h1v3h-1zM721.0 648.0h3v1h-3zM718.0 644.0h9v1h-9zM722.0 635.0h1v19h-1zM719.0 645.0h7v7h-7zM726.0 647.0h1v3h-1zM721.0 652.0h3v1h-3zM718.0 648.0h9v1h-9zM722.0 644.0h1v9h-1zM720.0 650.0h7v7h-7zM727.0 652.0h1v3h-1zM722.0 657.0h3v1h-3zM719.0 653.0h9v1h-9zM723.0 644.0h1v19h-1zM721.0 652.0h7v7h-7zM728.0 654.0h1v3h-1zM723.0 659.0h3v1h-3zM720.0 655.0h9v1h-9zM724.0 645.0h1v21h-1zM722.0 638.0h7v7h-7zM729.0 640.0h1v3h-1zM724.0 645.0h3v1h-3zM721.0 641.0h9v1h-9zM725.0 632.0h1v19h-1zM723.0 650.0h7v7h-7zM730.0 652.0h1v3h-1zM725.0 657.0h3v1h-3zM722.0 653.0h9v1h-9zM726.0 647.0h1v13h-1zM724.0 644.0h7v7h-7zM731.0 646.0h1v3h-1zM726.0 651.0h3v1h-3zM723.0 647.0h9v1h-9zM727.0 636.0h1v23h-1zM725.0 648.0h7v7h-7zM732.0 650.0h1v3h-1zM727.0 655.0h3v1h-3zM724.0 651.0h9v1h-9zM728.0 644.0h1v15h-1zM726.0 643.0h7v7h-7zM733.0 645.0h1v3h-1zM728.0 650.0h3v1h-3zM725.0 646.0h9v1h-9zM729.0 639.0h1v15h-1zM727.0 644.0h7v7h-7zM734.0 646.0h1v3h-1zM729.0 651.0h3v1h-3zM726.0 647.0h9v1h-9zM730.0 639.0h1v17h-1zM728.0 650.0h7v7h-7zM735.0 652.0h1v3h-1zM730.0 657.0h3v1h-3zM727.0 653.0h9v1h-9zM731.0 646.0h1v15h-1zM729.0 652.0h7v7h-7zM736.0 654.0h1v3h-1zM731.0 659.0h3v1h-3zM728.0 655.0h9v1h-9zM732.0 648.0h1v15h-1zM730.0 650.0h7v7h-7zM737.0 652.0h1v3h-1zM732.0 657.0h3v1h-3zM729.0 653.0h9v1h-9zM733.0 647.0h1v13h-1zM731.0 641.0h7v7h-7zM738.0 643.0h1v3h-1zM733.0 648.0h3v1h-3zM730.0 644.0h9v1h-9zM734.0 640.0h1v9h-1zM732.0 641.0h7v7h-7zM739.0 643.0h1v3h-1zM734.0 648.0h3v1h-3zM731.0 644.0h9v1h-9zM735.0 640.0h1v9h-1zM733.0 641.0h7v7h-7zM740.0 643.0h1v3h-1zM735.0 648.0h3v1h-3zM732.0 644.0h9v1h-9zM736.0 639.0h1v11h-1zM734.0 646.0h7v7h-7zM741.0 648.0h1v3h-1zM736.0 653.0h3v1h-3zM733.0 649.0h9v1h-9zM737.0 644.0h1v11h-1zM735.0 641.0h7v7h-7zM742.0 643.0h1v3h-1zM737.0 648.0h3v1h-3zM734.0 644.0h9v1h-9zM738.0 638.0h1v13h-1zM736.0 645.0h7v7h-7zM743.0 647.0h1v3h-1zM738.0 652.0h3v1h-3zM735.0 648.0h9v1h-9zM739.0 643.0h1v11h-1zM737.0 645.0h7v7h-7zM744.0 647.0h1v3h-1zM739.0 652.0h3v1h-3zM736.0 648.0h9v1h-9zM740.0 644.0h1v9h-1zM738.0 642.0h7v7h-7zM745.0 644.0h1v3h-1zM740.0 649.0h3v1h-3zM737.0 645.0h9v1h-9zM741.0 639.0h1v13h-1zM739.0 644.0h7v7h-7zM746.0 646.0h1v3h-1zM741.0 651.0h3v1h-3zM738.0 647.0h9v1h-9zM742.0 642.0h1v11h-1zM740.0 653.0h7v7h-7zM747.0 655.0h1v3h-1zM742.0 660.0h3v1h-3zM739.0 656.0h9v1h-9zM743.0 649.0h1v15h-1zM741.0 646.0h7v7h-7zM748.0 648.0h1v3h-1zM743.0 653.0h3v1h-3zM740.0 649.0h9v1h-9zM744.0 644.0h1v11h-1zM742.0 640.0h7v7h-7zM749.0 642.0h1v3h-1zM744.0 647.0h3v1h-3zM741.0 643.0h9v1h-9zM745.0 635.0h1v17h-1zM743.0 634.0h7v7h-7zM750.0 636.0h1v3h-1zM745.0 641.0h3v1h-3zM742.0 637.0h9v1h-9zM746.0 630.0h1v15h-1zM744.0 641.0h7v7h-7zM751.0 643.0h1v3h-1zM746.0 648.0h3v1h-3zM743.0 644.0h9v1h-9zM747.0 632.0h1v25h-1zM745.0 632.0h7v7h-7zM752.0 634.0h1v3h-1zM747.0 639.0h3v1h-3zM744.0 635.0h9v1h-9zM748.0 631.0h1v9h-1zM746.0 629.0h7v7h-7zM753.0 631.0h1v3h-1zM748.0 636.0h3v1h-3zM745.0 632.0h9v1h-9zM749.0 625.0h1v15h-1zM747.0 616.0h7v7h-7zM754.0 618.0h1v3h-1zM749.0 623.0h3v1h-3zM746.0 619.0h9v1h-9zM750.0 614.0h1v11h-1zM744.0 627.0h7v7h-7zM751.0 629.0h1v3h-1zM746.0 634.0h3v1h-3zM743.0 630.0h9v1h-9zM747.0 626.0h1v9h-1zM747.0 615.0h7v7h-7zM754.0 617.0h1v3h-1zM749.0 622.0h3v1h-3zM746.0 618.0h9v1h-9zM750.0 614.0h1v9h-1zM749.0 609.0h7v7h-7zM756.0 611.0h1v3h-1zM751.0 616.0h3v1h-3zM748.0 612.0h9v1h-9zM752.0 608.0h1v9h-1zM751.0 604.0h7v7h-7zM758.0 606.0h1v3h-1zM753.0 611.0h3v1h-3zM750.0 607.0h9v1h-9zM754.0 603.0h1v9h-1zM753.0 596.0h7v7h-7zM760.0 598.0h1v3h-1zM755.0 603.0h3v1h-3zM752.0 599.0h9v1h-9zM756.0 595.0h1v9h-1zM754.0 583.0h7v7h-7zM761.0 585.0h1v3h-1zM756.0 590.0h3v1h-3zM753.0 586.0h9v1h-9zM757.0 582.0h1v9h-1zM756.0 577.0h7v7h-7zM763.0 579.0h1v3h-1zM758.0 584.0h3v1h-3zM755.0 580.0h9v1h-9zM759.0 576.0h1v9h-1zM756.0 562.0h7v7h-7zM763.0 564.0h1v3h-1zM758.0 569.0h3v1h-3zM755.0 565.0h9v1h-9zM759.0 561.0h1v9h-1zM759.0 562.0h7v7h-7zM766.0 564.0h1v3h-1zM761.0 569.0h3v1h-3zM758.0 565.0h9v1h-9zM762.0 561.0h1v9h-1zM760.0 547.0h7v7h-7zM767.0 549.0h1v3h-1zM762.0 554.0h3v1h-3zM759.0 550.0h9v1h-9zM763.0 546.0h1v9h-1zM762.0 524.0h7v7h-7zM769.0 526.0h1v3h-1zM764.0 531.0h3v1h-3zM761.0 527.0h9v1h-9zM765.0 523.0h1v9h-1zM764.0 506.0h7v7h-7zM771.0 508.0h1v3h-1zM766.0 513.0h3v1h-3zM763.0 509.0h9v1h-9zM767.0 505.0h1v9h-1zM767.0 479.0h7v7h-7zM774.0 481.0h1v3h-1zM769.0 486.0h3v1h-3zM766.0 482.0h9v1h-9zM770.0 478.0h1v9h-1zM769.0 429.0h7v7h-7zM776.0 431.0h1v3h-1zM771.0 436.0h3v1h-3zM768.0 432.0h9v1h-9zM772.0 428.0h1v9h-1zM817.0 448.0h7v7h-7zM824.0 450.0h1v3h-1zM819.0 455.0h3v1h-3zM816.0 451.0h9v1h-9zM820.0 447.0h1v9h-1zM818.0 448.0h7v7h-7zM825.0 450.0h1v3h-1zM820.0 455.0h3v1h-3zM817.0 451.0h9v1h-9zM821.0 447.0h1v9h-1zM819.0 452.0h7v7h-7zM826.0 454.0h1v3h-1zM821.0 459.0h3v1h-3zM818.0 455.0h9v1h-9zM822.0 451.0h1v9h-1zM820.0 458.0h7v7h-7zM827.0 460.0h1v3h-1zM822.0 465.0h3v1h-3zM819.0 461.0h9v1h-9zM823.0 457.0h1v9h-1zM822.0 461.0h7v7h-7zM829.0 463.0h1v3h-1zM824.0 468.0h3v1h-3zM821.0 464.0h9v1h-9zM825.0 460.0h1v9h-1zM823.0 459.0h7v7h-7zM830.0 461.0h1v3h-1zM825.0 466.0h3v1h-3zM822.0 462.0h9v1h-9zM826.0 458.0h1v9h-1zM824.0 463.0h7v7h-7zM831.0 465.0h1v3h-1zM826.0 470.0h3v1h-3zM823.0 466.0h9v1h-9zM827.0 462.0h1v9h-1zM825.0 465.0h7v7h-7zM832.0 467.0h1v3h-1zM827.0 472.0h3v1h-3zM824.0 468.0h9v1h-9zM828.0 464.0h1v9h-1zM827.0 473.0h7v7h-7zM834.0 475.0h1v3h-1zM829.0 480.0h3v1h-3zM826.0 476.0h9v1h-9zM830.0 472.0h1v9h-1zM829.0 478.0h7v7h-7zM836.0 480.0h1v3h-1zM831.0 485.0h3v1h-3zM828.0 481.0h9v1h-9zM832.0 477.0h1v9h-1zM831.0 479.0h7v7h-7zM838.0 481.0h1v3h-1zM833.0 486.0h3v1h-3zM830.0 482.0h9v1h-9zM834.0 478.0h1v9h-1zM831.0 481.0h7v7h-7zM838.0 483.0h1v3h-1zM833.0 488.0h3v1h-3zM830.0 484.0h9v1h-9zM834.0 480.0h1v9h-1zM833.0 487.0h7v7h-7zM840.0 489.0h1v3h-1zM835.0 494.0h3v1h-3zM832.0 490.0h9v1h-9zM836.0 486.0h1v9h-1zM834.0 486.0h7v7h-7zM841.0 488.0h1v3h-1zM836.0 493.0h3v1h-3zM833.0 489.0h9v1h-9zM837.0 485.0h1v9h-1zM835.0 486.0h7v7h-7zM842.0 488.0h1v3h-1zM837.0 493.0h3v1h-3zM834.0 489.0h9v1h-9zM838.0 485.0h1v9h-1zM836.0 489.0h7v7h-7zM843.0 491.0h1v3h-1zM838.0 496.0h3v1h-3zM835.0 492.0h9v1h-9zM839.0 488.0h1v9h-1zM837.0 489.0h7v7h-7zM844.0 491.0h1v3h-1zM839.0 496.0h3v1h-3zM836.0 492.0h9v1h-9zM840.0 488.0h1v9h-1zM839.0 495.0h7v7h-7zM846.0 497.0h1v3h-1zM841.0 502.0h3v1h-3zM838.0 498.0h9v1h-9zM842.0 494.0h1v9h-1zM840.0 498.0h7v7h-7zM847.0 500.0h1v3h-1zM842.0 505.0h3v1h-3zM839.0 501.0h9v1h-9zM843.0 497.0h1v9h-1zM841.0 498.0h7v7h-7zM848.0 500.0h1v3h-1zM843.0 505.0h3v1h-3zM840.0 501.0h9v1h-9zM844.0 497.0h1v9h-1zM842.0 501.0h7v7h-7zM849.0 503.0h1v3h-1zM844.0 508.0h3v1h-3zM841.0 504.0h9v1h-9zM845.0 500.0h1v9h-1zM845.0 502.0h7v7h-7zM852.0 504.0h1v3h-1zM847.0 509.0h3v1h-3zM844.0 505.0h9v1h-9zM848.0 501.0h1v9h-1zM844.0 504.0h7v7h-7zM851.0 506.0h1v3h-1zM846.0 511.0h3v1h-3zM843.0 507.0h9v1h-9zM847.0 503.0h1v9h-1zM846.0 506.0h7v7h-7zM853.0 508.0h1v3h-1zM848.0 513.0h3v1h-3zM845.0 509.0h9v1h-9zM849.0 505.0h1v9h-1zM848.0 510.0h7v7h-7zM855.0 512.0h1v3h-1zM850.0 517.0h3v1h-3zM847.0 513.0h9v1h-9zM851.0 509.0h1v9h-1zM850.0 512.0h7v7h-7zM857.0 514.0h1v3h-1zM852.0 519.0h3v1h-3zM849.0 515.0h9v1h-9zM853.0 511.0h1v9h-1zM850.0 515.0h7v7h-7zM857.0 517.0h1v3h-1zM852.0 522.0h3v1h-3zM849.0 518.0h9v1h-9zM853.0 514.0h1v9h-1zM851.0 515.0h7v7h-7zM858.0 517.0h1v3h-1zM853.0 522.0h3v1h-3zM850.0 518.0h9v1h-9zM854.0 514.0h1v9h-1zM854.0 518.0h7v7h-7zM861.0 520.0h1v3h-1zM856.0 525.0h3v1h-3zM853.0 521.0h9v1h-9zM857.0 517.0h1v9h-1zM855.0 519.0h7v7h-7zM862.0 521.0h1v3h-1zM857.0 526.0h3v1h-3zM854.0 522.0h9v1h-9zM858.0 518.0h1v9h-1zM855.0 522.0h7v7h-7zM862.0 524.0h1v3h-1zM857.0 529.0h3v1h-3zM854.0 525.0h9v1h-9zM858.0 521.0h1v9h-1zM857.0 524.0h7v7h-7zM864.0 526.0h1v3h-1zM859.0 531.0h3v1h-3zM856.0 527.0h9v1h-9zM860.0 523.0h1v9h-1zM858.0 525.0h7v7h-7zM865.0 527.0h1v3h-1zM860.0 532.0h3v1h-3zM857.0 528.0h9v1h-9zM861.0 524.0h1v9h-1zM859.0 526.0h7v7h-7zM866.0 528.0h1v3h-1zM861.0 533.0h3v1h-3zM858.0 529.0h9v1h-9zM862.0 525.0h1v9h-1zM860.0 530.0h7v7h-7zM867.0 532.0h1v3h-1zM862.0 537.0h3v1h-3zM859.0 533.0h9v1h-9zM863.0 529.0h1v9h-1zM863.0 529.0h7v7h-7zM870.0 531.0h1v3h-1zM865.0 536.0h3v1h-3zM862.0 532.0h9v1h-9zM866.0 528.0h1v9h-1zM864.0 530.0h7v7h-7zM871.0 532.0h1v3h-1zM866.0 537.0h3v1h-3zM863.0 533.0h9v1h-9zM867.0 529.0h1v9h-1zM865.0 534.0h7v7h-7zM872.0 536.0h1v3h-1zM867.0 541.0h3v1h-3zM864.0 537.0h9v1h-9zM868.0 533.0h1v9h-1zM866.0 534.0h7v7h-7zM873.0 536.0h1v3h-1zM868.0 541.0h3v1h-3zM865.0 537.0h9v1h-9zM869.0 533.0h1v9h-1zM867.0 536.0h7v7h-7zM874.0 538.0h1v3h-1zM869.0 543.0h3v1h-3zM866.0 539.0h9v1h-9zM870.0 535.0h1v9h-1zM868.0 536.0h7v7h-7zM875.0 538.0h1v3h-1zM870.0 543.0h3v1h-3zM867.0 539.0h9v1h-9zM871.0 535.0h1v9h-1zM870.0 536.0h7v7h-7zM877.0 538.0h1v3h-1zM872.0 543.0h3v1h-3zM869.0 539.0h9v1h-9zM873.0 535.0h1v9h-1zM870.0 538.0h7v7h-7zM877.0 540.0h1v3h-1zM872.0 545.0h3v1h-3zM869.0 541.0h9v1h-9zM873.0 537.0h1v9h-1zM874.0 541.0h7v7h-7zM881.0 543.0h1v3h-1zM876.0 548.0h3v1h-3zM873.0 544.0h9v1h-9zM877.0 540.0h1v9h-1zM874.0 541.0h7v7h-7zM881.0 543.0h1v3h-1zM876.0 548.0h3v1h-3zM873.0 544.0h9v1h-9zM877.0 540.0h1v9h-1zM874.0 540.0h7v7h-7zM881.0 542.0h1v3h-1zM876.0 547.0h3v1h-3zM873.0 543.0h9v1h-9zM877.0 539.0h1v9h-1zM877.0 542.0h7v7h-7zM884.0 544.0h1v3h-1zM879.0 549.0h3v1h-3zM876.0 545.0h9v1h-9zM880.0 541.0h1v9h-1zM878.0 544.0h7v7h-7zM885.0 546.0h1v3h-1zM880.0 551.0h3v1h-3zM877.0 547.0h9v1h-9zM881.0 543.0h1v9h-1zM878.0 545.0h7v7h-7zM885.0 547.0h1v3h-1zM880.0 552.0h3v1h-3zM877.0 548.0h9v1h-9zM881.0 544.0h1v9h-1zM880.0 549.0h7v7h-7zM887.0 551.0h1v3h-1zM882.0 556.0h3v1h-3zM879.0 552.0h9v1h-9zM883.0 548.0h1v9h-1zM881.0 547.0h7v7h-7zM888.0 549.0h1v3h-1zM883.0 554.0h3v1h-3zM880.0 550.0h9v1h-9zM884.0 546.0h1v9h-1zM882.0 547.0h7v7h-7zM889.0 549.0h1v3h-1zM884.0 554.0h3v1h-3zM881.0 550.0h9v1h-9zM885.0 546.0h1v9h-1zM884.0 548.0h7v7h-7zM891.0 550.0h1v3h-1zM886.0 555.0h3v1h-3zM883.0 551.0h9v1h-9zM887.0 547.0h1v9h-1zM885.0 548.0h7v7h-7zM892.0 550.0h1v3h-1zM887.0 555.0h3v1h-3zM884.0 551.0h9v1h-9zM888.0 547.0h1v9h-1zM887.0 549.0h7v7h-7zM894.0 551.0h1v3h-1zM889.0 556.0h3v1h-3zM886.0 552.0h9v1h-9zM890.0 548.0h1v9h-1zM887.0 552.0h7v7h-7zM894.0 554.0h1v3h-1zM889.0 559.0h3v1h-3zM886.0 555.0h9v1h-9zM890.0 551.0h1v9h-1zM889.0 547.0h7v7h-7zM896.0 549.0h1v3h-1zM891.0 554.0h3v1h-3zM888.0 550.0h9v1h-9zM892.0 546.0h1v9h-1zM890.0 547.0h7v7h-7zM897.0 549.0h1v3h-1zM892.0 554.0h3v1h-3zM889.0 550.0h9v1h-9zM893.0 546.0h1v9h-1zM893.0 547.0h7v7h-7zM900.0 549.0h1v3h-1zM895.0 554.0h3v1h-3zM892.0 550.0h9v1h-9zM896.0 546.0h1v9h-1zM893.0 549.0h7v7h-7zM900.0 551.0h1v3h-1zM895.0 556.0h3v1h-3zM892.0 552.0h9v1h-9zM896.0 548.0h1v9h-1zM894.0 546.0h7v7h-7zM901.0 548.0h1v3h-1zM896.0 553.0h3v1h-3zM893.0 549.0h9v1h-9zM897.0 545.0h1v9h-1zM896.0 544.0h7v7h-7zM903.0 546.0h1v3h-1zM898.0 551.0h3v1h-3zM895.0 547.0h9v1h-9zM899.0 543.0h1v9h-1zM897.0 545.0h7v7h-7zM904.0 547.0h1v3h-1zM899.0 552.0h3v1h-3zM896.0 548.0h9v1h-9zM900.0 544.0h1v9h-1zM897.0 544.0h7v7h-7zM904.0 546.0h1v3h-1zM899.0 551.0h3v1h-3zM896.0 547.0h9v1h-9zM900.0 543.0h1v9h-1zM903.0 536.0h7v7h-7zM910.0 538.0h1v3h-1zM905.0 543.0h3v1h-3zM902.0 539.0h9v1h-9zM906.0 535.0h1v9h-1zM906.0 524.0h7v7h-7zM913.0 526.0h1v3h-1zM908.0 531.0h3v1h-3zM905.0 527.0h9v1h-9zM909.0 523.0h1v9h-1zM909.0 513.0h7v7h-7zM916.0 515.0h1v3h-1zM911.0 520.0h3v1h-3zM908.0 516.0h9v1h-9zM912.0 512.0h1v9h-1zM912.0 495.0h7v7h-7zM919.0 497.0h1v3h-1zM914.0 502.0h3v1h-3zM911.0 498.0h9v1h-9zM915.0 494.0h1v9h-1zM916.0 477.0h7v7h-7zM923.0 479.0h1v3h-1zM918.0 484.0h3v1h-3zM915.0 480.0h9v1h-9zM919.0 476.0h1v9h-1zM919.0 449.0h7v7h-7zM926.0 451.0h1v3h-1zM921.0 456.0h3v1h-3zM918.0 452.0h9v1h-9zM922.0 448.0h1v9h-1zM438.0 562.0h7v7h-7zM445.0 564.0h1v3h-1zM440.0 569.0h3v1h-3zM437.0 565.0h9v1h-9zM441.0 561.0h1v9h-1z"/>
</g>
<g shape-rendering="crispEdges" fill="none" stroke="#000" stroke-width="1">
<rect x="64.5" y="88.5" width="936" height="622"/>
<path d="M83.5 705V716M151.5 705V716M198.5 705V716M350.5 705V716M465.5 705V716M532.5 705V716M580.5 705V716M732.5 705V716M847.5 705V716M914.5 705V716M961.5 705V716M66.5 706V711M99.5 706V711M114.5 706V711M127.5 706V711M139.5 706V711M161.5 706V711M171.5 706V711M181.5 706V711M190.5 706V711M266.5 706V711M313.5 706V711M380.5 706V711M406.5 706V711M428.5 706V711M448.5 706V711M481.5 706V711M495.5 706V711M509.5 706V711M521.5 706V711M543.5 706V711M553.5 706V711M562.5 706V711M571.5 706V711M647.5 706V711M695.5 706V711M762.5 706V711M788.5 706V711M810.5 706V711M829.5 706V711M862.5 706V711M877.5 706V711M890.5 706V711M902.5 706V711M924.5 706V711M935.5 706V711M944.5 706V711M953.5 706V711M59 143.5H70M59 209.5H70M59 363.5H70M59 429.5H70M59 583.5H70M59 649.5H70M64 153.5H69M64 164.5H69M64 177.5H69M64 192.5H69M64 230.5H69M64 258.5H69M64 297.5H69M64 373.5H69M64 384.5H69M64 397.5H69M64 412.5H69M64 450.5H69M64 478.5H69M64 517.5H69M64 593.5H69M64 604.5H69M64 617.5H69M64 632.5H69M64 670.5H69M64 698.5H69"/>
</g>
<g font-family="'Liberation Sans',Arial,sans-serif" font-size="10" fill="#000" stroke="#000" stroke-width=".22">
<text transform="translate(83.5 727) scale(.86 1)" text-anchor="middle">500 eV</text>
<text transform="translate(151.5 727) scale(.86 1)" text-anchor="middle">750 eV</text>
<text transform="translate(198.5 727) scale(.86 1)" text-anchor="middle">1 keV</text>
<text transform="translate(350.5 727) scale(.86 1)" text-anchor="middle">2,5 keV</text>
<text transform="translate(465.5 727) scale(.86 1)" text-anchor="middle">5 keV</text>
<text transform="translate(532.5 727) scale(.86 1)" text-anchor="middle">7,5 keV</text>
<text transform="translate(580.5 727) scale(.86 1)" text-anchor="middle">10 keV</text>
<text transform="translate(732.5 727) scale(.86 1)" text-anchor="middle">25 keV</text>
<text transform="translate(847.5 727) scale(.86 1)" text-anchor="middle">50 keV</text>
<text transform="translate(914.5 727) scale(.86 1)" text-anchor="middle">75 keV</text>
<text transform="translate(961.5 727) scale(.86 1)" text-anchor="middle">100 keV</text>
<text transform="translate(56.8 147.1) scale(.8 1)" text-anchor="end">100</text>
<text transform="translate(56.8 213.1) scale(.8 1)" text-anchor="end">50</text>
<text transform="translate(56.8 367.1) scale(.8 1)" text-anchor="end">10</text>
<text transform="translate(56.8 433.1) scale(.8 1)" text-anchor="end">5</text>
<text transform="translate(56.8 587.1) scale(.8 1)" text-anchor="end">1</text>
<text transform="translate(56.8 653.1) scale(.8 1)" text-anchor="end">0,5</text>
</g>
<rect x="889.5" y="88.5" width="111" height="107" fill="#fff" stroke="#646464" shape-rendering="crispEdges"/>
<g font-family="'Liberation Sans',Arial,sans-serif" font-size="10" fill="#000" shape-rendering="crispEdges">
<path d="M894 101.5H925" stroke="#0000ff" stroke-width="1"/>
<text x="934" y="104.1" stroke="#000" stroke-width=".18">JEFF 3.1</text>
<path d="M894 115.5H925" stroke="#00ff00" stroke-width="1"/>
<text x="934" y="118.1" stroke="#000" stroke-width=".18">CENDL 2.1</text>
<path d="M894 129.5H925" stroke="#00ffff" stroke-width="1"/>
<text x="934" y="132.1" stroke="#000" stroke-width=".18">FENDL 2.1</text>
<path d="M894 143.5H925" stroke="#404040" stroke-width="1"/>
<text x="934" y="146.1" stroke="#000" stroke-width=".18">JEFF 3.0</text>
<path d="M894 157.5H925" stroke="#ff00ff" stroke-width="1"/>
<text x="934" y="160.1" stroke="#000" stroke-width=".18">JENDL 3.3</text>
<path d="M894 171.5H925" stroke="#ffc800" stroke-width="1"/>
<text x="934" y="174.1" stroke="#000" stroke-width=".18">JEF 2.2</text>
<path d="M894 185.5H925" stroke="#ffafaf" stroke-width="1"/>
<text x="934" y="188.1" stroke="#000" stroke-width=".18">ENDF/B-VII.0</text>
</g>
<g font-family="'Liberation Sans',Arial,sans-serif" font-size="16" fill="#0000c8" stroke="#0000c8" stroke-width=".45" text-anchor="middle">
<text x="512.2" y="30" textLength="275.5" lengthAdjust="spacingAndGlyphs">21926.004, 1984, M.Ohkubo (927 pts)</text>
<text x="512.5" y="49" textLength="910.5" lengthAdjust="spacingAndGlyphs">D=0.055677489678259175 F=1.1098613230949346 H=6.425618140848144 L=0.2511368240307093 R=1.0250673182324197</text>
<text x="512" y="67.5" textLength="159.5" lengthAdjust="spacingAndGlyphs">13-AL-27(N,TOT),,SIG</text>
</g>
<g font-family="'Liberation Sans',Arial,sans-serif" font-size="13.5" font-weight="bold" fill="#000" text-anchor="middle">
<text x="511.5" y="754.5" textLength="110.5" lengthAdjust="spacingAndGlyphs">Incident energy</text>
<text transform="translate(23 382.5) rotate(-90)" textLength="118.5" lengthAdjust="spacingAndGlyphs">Cross section (b)</text>
</g>
<rect x=".5" y=".5" width="1023" height="767" fill="none" stroke="#000" shape-rendering="crispEdges"/>
</svg>
</body></html>
